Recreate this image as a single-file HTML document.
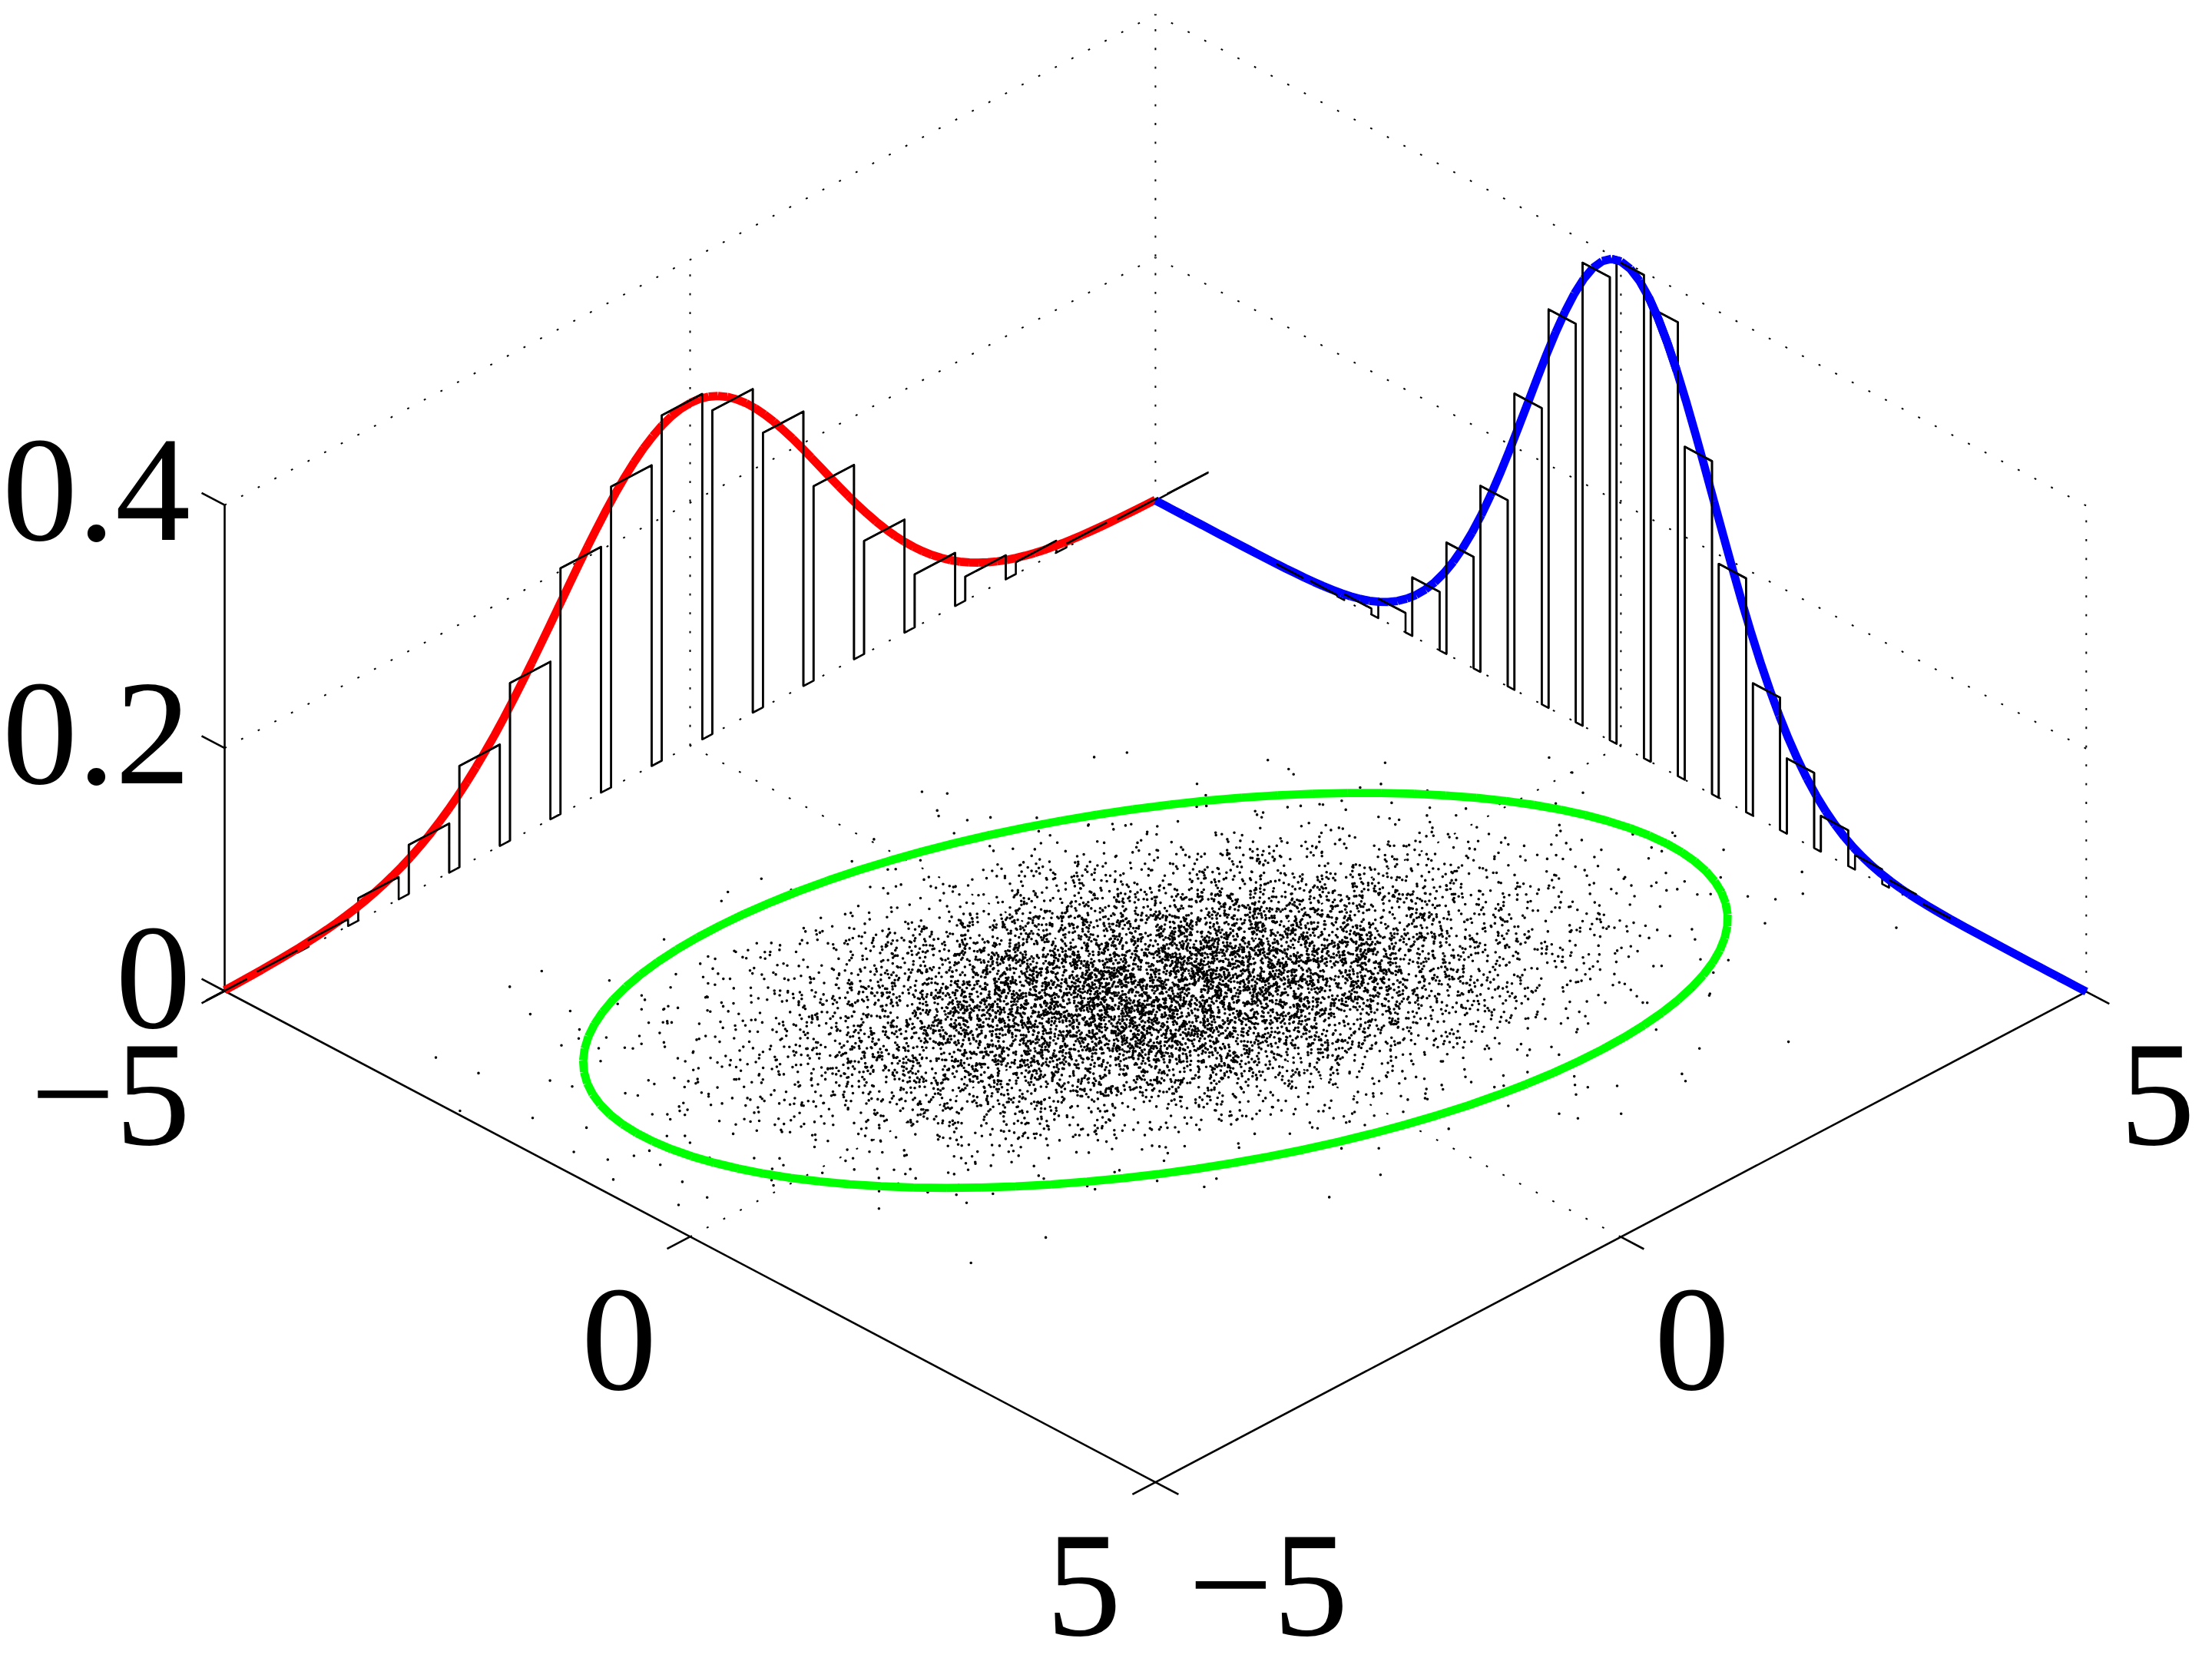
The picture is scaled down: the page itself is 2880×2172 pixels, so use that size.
<!DOCTYPE html>
<html lang="en"><head><meta charset="utf-8"><title>Multivariate normal samples</title>
<style>
html,body{margin:0;padding:0;background:#fff;}
body{width:2880px;height:2172px;overflow:hidden;}
svg{display:block;}
text{font-family:"Liberation Serif","Times New Roman",Times,serif;font-size:196px;fill:#000;}
.g{fill:none;stroke:#000;stroke-width:2;stroke-linecap:butt;stroke-dasharray:2.8 21.64;stroke-dashoffset:1.4;}
.a{fill:none;stroke:#000;stroke-width:2.6;stroke-linecap:butt;}
.b{fill:none;stroke:#000;stroke-width:2.6;stroke-linejoin:round;stroke-linecap:butt;}
.d{fill:none;stroke:#000;stroke-width:3.6;stroke-linecap:round;}
.c{fill:none;stroke-width:10.8;stroke-linecap:butt;stroke-linejoin:bevel;}
</style></head><body>
<svg width="2880" height="2172" viewBox="0 0 2880 2172">
<rect width="2880" height="2172" fill="#fff"/>
<g id="grid">
<path class="g" style="stroke-dashoffset:0" d="M1504.4 651.7 L1504.4 18.9"/>
<path class="g" style="stroke-dashoffset:0" d="M2716.3 1291.3 L2716.3 658.5"/>
<path class="g" style="stroke-dashoffset:0" d="M898.5 971.1 L898.5 338.3"/>
<path class="g" style="stroke-dashoffset:0" d="M2110.4 971.5 L2110.4 338.7"/>
<path class="g" d="M1504.4 651.7 L292.5 1290.5"/>
<path class="g" d="M1504.4 651.7 L2716.3 1291.3"/>
<path class="g" d="M1504.4 335.3 L292.5 974.1"/>
<path class="g" d="M1504.4 335.3 L2716.3 974.9"/>
<path class="g" d="M1504.4 18.9 L292.5 657.7"/>
<path class="g" d="M1504.4 18.9 L2716.3 658.5"/>
<path class="g" d="M2110.4 971.5 L898.5 1610.3"/>
<path class="g" d="M898.5 971.1 L2110.4 1610.7"/>
</g>
<g id="axes">
<path class="a" d="M292.5 1290.5 L292.5 657.7"/>
<path class="a" d="M292.5 1290.5 L1504.4 1930.1"/>
<path class="a" d="M1504.4 1930.1 L2716.3 1291.3"/>
<path class="a" d="M292.5 1290.5 l-30 -15.8"/>
<path class="a" d="M292.5 974.1 l-30 -15.8"/>
<path class="a" d="M292.5 657.7 l-30 -15.8"/>
<path class="a" d="M292.5 1290.5 l-30 15.8"/>
<path class="a" d="M898.5 1610.3 l-30 15.8"/>
<path class="a" d="M1504.4 1930.1 l-30 15.8"/>
<path class="a" d="M1504.4 1930.1 l30 15.8"/>
<path class="a" d="M2110.4 1610.7 l30 15.8"/>
<path class="a" d="M2716.3 1291.3 l30 15.8"/>
</g>
<path class="d" d="M1202.6 1300.8h0M1251.6 1249.5h0M1327.6 1300h0M1417.2 1333h0M1752.9 1104.3h0M1145.6 1324h0M1624.9 1376.3h0M1519.1 1356.9h0M1360.3 1292.7h0M1554.8 1269.4h0M1995.8 1185.8h0M1215.2 1341.4h0M1349.7 1265.8h0M1787.8 1238.8h0M1254.6 1190.1h0M1046 1249.7h0M1400.9 1387h0M1374.8 1247.5h0M1589.1 1165.7h0M1284.9 1266.6h0M1175.7 1407.2h0M1675.5 1341.2h0M1455.1 1157.9h0M1210.9 1231h0M1494.3 1268h0M1570.7 1049.4h0M1263.4 1221.5h0M1728.1 1277.8h0M1948.5 1136.5h0M1112 1462.4h0M1801.2 1176.6h0M1036.6 1370.4h0M1567.9 1545.5h0M1789.3 1160.3h0M1700.5 1345.7h0M1411.1 1112.6h0M1460.8 1344.1h0M1680.4 1245h0M1368.8 1265.2h0M1342.9 1312.1h0M1420.9 1447.5h0M1529.2 1297.4h0M1250.1 1368h0M1689.2 1317.6h0M1311.7 1419.5h0M1405.8 1246.4h0M1722.8 1157h0M1517.8 1276h0M1299.9 1288.9h0M1762 1264.7h0M1368.2 1344h0M1284.7 1430.9h0M1771.5 1210.4h0M1437 1203.3h0M1758.4 1212.1h0M1584.2 1237.4h0M1578 1350.2h0M1332.3 1311.6h0M1703.9 1247.3h0M1084.1 1453.1h0M1534.7 1236.4h0M1305.4 1326.8h0M1559.2 1196.7h0M1741.9 1235h0M1234.9 1307.7h0M1242.3 1528.9h0M1433.5 1328.4h0M1324.5 1298.7h0M1654.3 1315.4h0M1429.3 1264.1h0M1663.5 1338.6h0M1560.5 1395.7h0M1501.1 1192.4h0M1513.5 1374.9h0M1624.9 1347.4h0M1552 1264.8h0M1519.8 1388.1h0M1478.1 1348.1h0M1413.4 1391.5h0M1537.3 1217h0M1440.5 1294.7h0M1287.6 1363.1h0M1198 1387.9h0M1408.1 1299.8h0M1763.6 1380.9h0M1159.9 1306.8h0M1134.5 1293.3h0M1348.7 1295.6h0M1042 1352.1h0M1120.1 1335.9h0M1529.4 1178.9h0M1803 1262.7h0M1806 1128.3h0M1739.3 1300.8h0M1700.5 1251.9h0M1597.1 1219.1h0M1205.8 1346.8h0M1233.1 1180.1h0M567.5 1377.1h0M1340.7 1269.5h0M1785.1 1272.5h0M1410.5 1352.7h0M1810.8 1215.3h0M1234.2 1219.4h0M1598.8 1285.5h0M1696.2 1222.5h0M1470.1 1257.5h0M1128.8 1298.2h0M940.1 1436.9h0M1626 1383.4h0M1506 1107h0M1246 1205h0M1224.1 1291.5h0M1406.9 1427.2h0M1807.8 1096h0M1684.1 1377.2h0M1607.5 1286.5h0M1348.7 1353.5h0M1554.6 1272.5h0M1336.6 1261.5h0M1597.9 1284.3h0M1408.9 1419h0M1324.8 1304h0M1272.7 1238.9h0M1003.9 1425.6h0M1400 1182.8h0M1814.4 1281.5h0M1304.1 1338.9h0M1600.9 1269.8h0M1577.5 1163.8h0M1534.4 1265.1h0M1055.5 1279.3h0M1447.4 1293.5h0M1353.7 1119.1h0M1395.3 1379.3h0M1180.3 1391.7h0M1221.1 1307.3h0M1218.6 1156.1h0M2298 1202.3h0M1218.3 1296.7h0M1509.9 1207.7h0M1191 1416.8h0M1948.2 1224.3h0M1636 1450.6h0M1832.6 1301.1h0M1646.8 1278.8h0M1833.9 1326h0M1249.6 1232.4h0M2115.8 1142.3h0M1640.8 1141h0M1899.9 1249.6h0M1640.3 1212.7h0M1274 1165.8h0M1987.1 1164.7h0M1549.7 1368.9h0M1679 1411.3h0M1772.6 1299.9h0M1853.9 1258h0M705.3 1264.5h0M1549.1 1304.4h0M1425.8 1186.2h0M1294.9 1243.8h0M1323.1 1254h0M1496 1381.2h0M2001.9 1317.6h0M2094.5 1206.5h0M1537.6 1168.5h0M1417 1273.9h0M1671.7 1206.3h0M1788.2 1268.2h0M1555.4 1252.2h0M1663.4 1294.7h0M1534 1284.5h0M1409.1 1140.2h0M1774.9 1261.9h0M1216.9 1300.5h0M1387.3 1238.4h0M1472.5 1353.5h0M1722.1 1370.7h0M1516.5 1182.6h0M1236 1466.1h0M1372.6 1279.1h0M1696.2 1262.9h0M1565.4 1255.7h0M1475.7 1261.2h0M1608.3 1297h0M1278 1389.7h0M1682.1 1408.2h0M1134.1 1363.8h0M1748.1 1227.9h0M1182.2 1460.9h0M1434.4 1388.6h0M1041.3 1362h0M1403.9 1408.4h0M1789.2 1101.2h0M1498 1354.1h0M1414 1268h0M1209.3 1142.1h0M1420.2 1334.9h0M1596.7 1222.6h0M1101.5 1371.2h0M1296.8 1382.3h0M1359.6 1173.1h0M1256.2 1367.6h0M1400.7 1355.7h0M1221.5 1483.8h0M1669.2 1406.1h0M1382.1 1421.7h0M1450.6 1231h0M1671.5 1273.2h0M1168.1 1258.6h0M1161.9 1279.7h0M1250.2 1180.8h0M1330.2 1397.5h0M1239.5 1381.2h0M1786.9 1226.7h0M1543.6 1358.9h0M1703.2 1222.2h0M1322.8 1349.1h0M1299 1301.4h0M1777.2 1350.7h0M1990.2 1212.9h0M1584.6 1389.3h0M1466.1 1398.1h0M1350 1277.6h0M1738.8 1180.1h0M1205.7 1407.2h0M1779.2 1309.7h0M1854.5 1370.3h0M1345.6 1285.6h0M1440.5 1282.8h0M1652.3 1169.8h0M1393.2 1322.5h0M1708.2 1183.4h0M1313.2 1320.5h0M1350.4 1337.1h0M1148.8 1310.1h0M1637.8 1333.3h0M1640.6 1270.7h0M1063.1 1364.3h0M1332.1 1246.2h0M1180.4 1358.5h0M1616.6 1128.9h0M1211.9 1154.1h0M1267.3 1351.5h0M1917.4 1251.3h0M1137.9 1345.5h0M1720 1191.3h0M1825.3 1304.1h0M1576.6 1267.3h0M1351.5 1323.4h0M1564.2 1288.5h0M1321 1332.6h0M1785.4 1178.4h0M1912.6 1137.6h0M1252.1 1362.5h0M1139.7 1306.1h0M1356.8 1162.2h0M1407.9 1254.7h0M1899 1274.2h0M1504.2 1324.9h0M1144.9 1468.9h0M1665.3 1268.3h0M1714.7 1383.7h0M1712.6 1250.3h0M1546.1 1237.8h0M1560.5 1263.7h0M2163.6 1108.4h0M1903.5 1127h0M1230.5 1230.8h0M1107.1 1383.6h0M1850.2 1265.4h0M1402.8 1244h0M1674.7 1360.1h0M1119 1396.1h0M1360.7 1274.5h0M1225.7 1372.5h0M1567.7 1361.5h0M1786.5 1236.6h0M2076.3 1175.1h0M1661.6 1168.1h0M1927.3 1160.5h0M1439.9 1461.6h0M1608.8 1231.7h0M1647.7 1429.9h0M1342.5 1357.7h0M1182.6 1288.7h0M1401.3 1381h0M1647.1 1331.9h0M1341.2 1188.5h0M1162.3 1254.6h0M1578.3 1338.6h0M1258.5 1566.2h0M1560.3 1374.1h0M1032.5 1294.4h0M1666.4 1304.2h0M1675.3 1179.2h0M1560.6 1260.2h0M1771.3 1144h0M1404.6 1250.7h0M1466.5 1354.6h0M1256.9 1297.9h0M1883.1 1152.9h0M1813.3 1388.2h0M1666.4 1254.8h0M1296.3 1228.9h0M1848.6 1215.1h0M1407.1 1223h0M1455.7 1313.5h0M1670.3 1248.1h0M2117.8 1206.2h0M1429.3 1294.3h0M1885.3 1086.2h0M1550 1208.7h0M1402.7 1246.9h0M1197.5 1263.8h0M1861.1 1193h0M1860.6 1135.5h0M1245 1335.2h0M1199.6 1330.4h0M1442.6 1236.8h0M1611.9 1257.6h0M934.1 1416.1h0M1474.5 1352.7h0M1529.5 1193.1h0M1721.5 1346.6h0M1548.2 1288.1h0M1188.2 1374.6h0M1435.5 1169.5h0M992.3 1430.8h0M1357.9 1337.7h0M2014.1 1232.6h0M1348.6 1329.4h0M2030.6 1181.9h0M1104 1280.2h0M1424.2 1301.1h0M1463.4 1257.4h0M1950.4 1228.7h0M1523.5 1124.4h0M1181.5 1336.7h0M1772 1258.5h0M1247.9 1311.6h0M1755.4 1333.4h0M1261.8 1354.2h0M1367.6 1310.2h0M1618.9 1305.8h0M1526.9 1315.7h0M1457.3 1219.1h0M1280.9 1250.7h0M2040.4 1282.4h0M1530.4 1311.5h0M1766.6 1179.5h0M1243.6 1293.1h0M1206.2 1345h0M1720.8 1154.8h0M1324.7 1315h0M1617.4 1202.9h0M1321.5 1301h0M1584.1 1354h0M1381.2 1324.6h0M1588.2 1176.6h0M1593.7 1298.7h0M1200.8 1209.8h0M1757.3 1351.8h0M1190.4 1407.4h0M1321 1301.2h0M1229.5 1236.2h0M1719.1 1271.3h0M1747.8 1364.8h0M1789 1411.3h0M1066.6 1378.1h0M1544.1 1372.8h0M1542.1 1245.9h0M2034.6 1252h0M1771 1249.1h0M948.2 1316.9h0M1605.4 1212.2h0M1198.5 1169.5h0M1869.4 1352.8h0M1456.6 1313.6h0M1456.9 1244.7h0M1470.1 1318.1h0M1231.3 1358.2h0M1380.6 1308.3h0M1376.6 1386.2h0M1259.4 1314.2h0M1660.2 1270.7h0M1693.4 1274.1h0M1857.9 1177.9h0M1483.7 1282.1h0M1553.9 1272.7h0M1773.6 1259.9h0M1492.8 1292.9h0M1840.2 1220.3h0M1760.9 1356.4h0M1698.1 1301.1h0M1568.8 1305.5h0M1057.8 1327h0M1723.1 1275.7h0M1777.2 1270.7h0M1536.2 1339.9h0M1659.6 1118.7h0M1526.8 1221.7h0M1788.4 1145.1h0M1516.3 1261.2h0M1273.8 1277.5h0M1167.2 1270.6h0M1206 1364.3h0M1387.5 1158.1h0M1252.7 1289h0M1186.8 1351.6h0M1739.3 1366.6h0M1306.3 1279.5h0M1456.6 1310.5h0M1709.3 1209.6h0M1398.9 1348.3h0M1059.2 1392.3h0M1661.8 1280.3h0M1975.5 1366.8h0M1669.9 1389.8h0M1681.1 1186.7h0M1137.1 1393.5h0M1590.2 1378.8h0M1485.3 1285h0M1392.9 1330h0M947.7 1161.5h0M1569.7 1317.5h0M1309.9 1273.5h0M1907.9 1235.8h0M1616.3 1381.6h0M1477.1 1149.6h0M1551.3 1297.6h0M1384.8 1251.1h0M1263.1 1369.7h0M844.6 1331.7h0M1162 1284.5h0M1381.9 1415.7h0M1207 1275.5h0M1576 1362.2h0M1585.8 1295.5h0M845.5 1498.4h0M1128 1437h0M1615.7 1253.8h0M1479.3 1182.1h0M1819.8 1320.2h0M1714.1 1311h0M1600.7 1111.8h0M1502.9 1190.5h0M1260.2 1205.6h0M1319.2 1248.7h0M1718.7 1191.8h0M1271.3 1372.9h0M1337.7 1250.5h0M1149.2 1314.6h0M1110.5 1388.7h0M1531.2 1315.7h0M1855.9 1325.8h0M1511.7 1215.4h0M1719 1252.1h0M1705.4 1385.2h0M964.6 1394.3h0M1222.5 1342.1h0M2016.9 986.5h0M1711.5 1244.7h0M1584 1356.2h0M1541.7 1286.3h0M1307.6 1204.1h0M1750.2 1195.4h0M1306 1202.5h0M1592.7 1252.5h0M1776.7 1130h0M1490.9 1321.7h0M1545.9 1210.3h0M1508.7 1396.8h0M1345.1 1316.3h0M1668.6 1231.7h0M1502.4 1304.9h0M1504.2 1176.3h0M2020.1 1187.2h0M793.4 1276.7h0M1168.3 1376.8h0M1300.5 1285.6h0M1896.5 1351.6h0M1857.8 1208h0M1625 1178.8h0M1501.2 1334.2h0M1624.8 1304.2h0M1767 1243.2h0M993.6 1390.6h0M1765.4 1217.7h0M1328.8 1126.3h0M1444.9 1368h0M1569 1289.2h0M1577.3 1148.9h0M1557.2 1173.2h0M1576.3 1325h0M1627.7 1269h0M1438.2 1285.6h0M1630.7 1304.2h0M1451.1 1477.6h0M1889.2 1261.9h0M1106.6 1286.6h0M1844.6 1195.3h0M1287 1335.2h0M1453.3 1235.4h0M1906.8 1392.6h0M1771.8 1320.1h0M1479 1197.9h0M1764.1 1373.7h0M2104.7 1163.2h0M1509.9 1315.2h0M1163.2 1294.7h0M1560.7 1415.7h0M1698.5 1337h0M1536.6 1212.1h0M1685 1341.2h0M1284.1 1311.7h0M1289.4 1444.7h0M1862.1 1264.5h0M1463.6 1413.9h0M1245.2 1555.7h0M1738.9 1411.4h0M1730.6 1194h0M1735.4 1181.1h0M1866 1198.6h0M1781.4 1152.7h0M1305 1269.6h0M1818.1 1247.9h0M1533 1316.3h0M1551.4 1347.5h0M1693.9 1315.3h0M1372.8 1450.6h0M1462.2 1252.1h0M1560.1 1366h0M1910 1319.4h0M1231.2 1443.5h0M1444.2 1394.2h0M1030.1 1158.9h0M1840.8 1197.8h0M1169.5 1541.3h0M1333 1381.2h0M1389.3 1342.5h0M1880.7 1125.1h0M1715.4 1300.9h0M1458.5 1332.9h0M1409.4 1292.7h0M1401.7 1316h0M2084.3 1200.6h0M1459.3 1163h0M1510 1308.4h0M1408.4 1311.7h0M1817.2 1254.1h0M1712.1 1348.4h0M1751.5 1368.5h0M1508.9 1331.5h0M1515.5 1511.5h0M1601.7 1447.5h0M1557.6 1257.7h0M1287.7 1308.1h0M1450 1327.9h0M1602.3 1170.3h0M1608.8 1381.4h0M1093.3 1299.6h0M1418.7 1368.8h0M1185.2 1522.4h0M1717.5 1272.7h0M1502.1 1247.3h0M1674 1322.8h0M1252.8 1204.4h0M1651.3 1318.8h0M1459.1 1259.3h0M895.1 1445.1h0M1798.7 1423.7h0M1494.4 1180.3h0M1827.5 1226.7h0M1589.7 1346h0M1490.5 1478.1h0M1561.9 1134.9h0M1927.6 1294.9h0M1352.5 1267.2h0M1288.7 1101.7h0M1191.3 1323.3h0M1617.8 1267.8h0M1133.4 1238.1h0M1654.4 1271.9h0M1262.5 1234.9h0M1519.9 1247.8h0M1248.3 1344.4h0M1350.3 1243.7h0M1307.6 1289.3h0M1562.9 1167.2h0M1513.9 1337.5h0M1520.9 1338.4h0M1647.4 1120.8h0M1975.3 1171.4h0M1302 1297.6h0M1955.9 1204.8h0M1124.1 1320.4h0M1184.3 1178.1h0M1223.4 1238.5h0M1517.8 1300.6h0M1468.5 1273.3h0M1101.7 1433.3h0M1519.2 1264.4h0M1274.6 1359.1h0M1754.2 1230.3h0M1563 1226.1h0M1542.7 1169.3h0M1215.4 1344.1h0M1287.3 1295.5h0M1786.9 1238.4h0M1257.5 1514.7h0M1883.2 1222.1h0M1418.9 1326.8h0M1386.8 1376.9h0M1530.6 1258h0M1335.2 1239.3h0M1306.6 1364.2h0M1913.7 1282.7h0M1346 1380h0M1215.6 1299.1h0M1599 1220h0M1338.5 1340.1h0M1644.5 1219.2h0M1347.1 1393.6h0M1163.1 1375.3h0M1836.7 1193.9h0M1507.2 1204.3h0M1697 1192.5h0M1688.9 1312.5h0M1694.4 1075.8h0M1773.4 1390.6h0M1517.8 1163h0M1386.5 1418h0M1445.5 1387.6h0M1365 1329.9h0M1454.6 1361.9h0M1249 1243.6h0M1605.8 1125.5h0M1379.3 1413.6h0M1320.5 1295.9h0M1291.8 1240.5h0M1281.8 1234.3h0M1511.7 1293.4h0M1576.5 1313.6h0M1350.8 1357.5h0M1691.4 1283h0M1129.5 1311.6h0M1703.9 1243h0M1563.7 1251.5h0M1254.4 1229.8h0M1152.7 1316.6h0M1299.2 1391.5h0M1536.9 1278h0M1194.4 1403.4h0M1555.7 1234.1h0M1582.6 1367.9h0M1272.3 1402.2h0M1593.9 1216.8h0M1770 1178.1h0M1299 1311h0M1326.2 1300.8h0M1637 1118.5h0M1541.1 1302.6h0M1504.7 1374.9h0M1166.2 1131.8h0M1784.4 1301.3h0M1308.1 1448.5h0M1233.5 1312.5h0M1797.4 1345.1h0M1367.6 1352h0M1425.8 1169.8h0M1692.2 1220.4h0M1427.4 1476.7h0M1466.5 1337.9h0M1507.5 1229.7h0M1542.7 1219.3h0M1540.7 1255.9h0M1473.7 1288.1h0M1686.3 1360.9h0M1448.7 1303.2h0M1464.4 1309.4h0M1720.7 1155.1h0M1423.1 1410.3h0M1848.2 1084.5h0M1398.1 1256.3h0M1261.4 1490.6h0M1499.1 1389.1h0M1641.3 1144.7h0M1607.3 1238.9h0M1226.8 1380h0M1599.8 1333.2h0M1758.7 1284h0M1389.3 1295.8h0M1653.9 1254.1h0M1414 1231.1h0M1424.9 1263.2h0M1727.9 1224.1h0M1508.6 1240.3h0M1240.1 1265.4h0M1573.6 1252.8h0M1431.2 1409.4h0M1506.1 1168h0M1890.7 1272.2h0M1793.7 1239.9h0M1708.6 1283.9h0M1374.7 1359.1h0M1597.6 1262.9h0M1641.1 1358.2h0M1367.5 1297.3h0M1775.7 1240h0M1363.1 1318.7h0M1577.7 1170.2h0M1703.7 1306.1h0M1394 1420.8h0M1477.9 1331.5h0M1769.1 1186.7h0M1281 1415.2h0M1260.8 1396.5h0M1660.8 1201.4h0M1457.1 1300.1h0M1529.1 1431.9h0M1464 1369h0M1357.8 1223.8h0M1402.8 1421.6h0M1478.2 1277.1h0M1424.7 1411.6h0M1398.6 1306h0M1660.7 1246.5h0M1446 1268.4h0M1805.9 1137.2h0M1776.9 1245.7h0M1531.8 1314h0M1353.7 1324.3h0M1741.4 1220.4h0M1785.5 1273.3h0M1668.1 1223.1h0M1100.4 1371.4h0M1687.6 1244.3h0M1424.6 1145.5h0M1374.3 1232h0M1633.2 1319.8h0M1438.6 1337.4h0M1051.6 1351.7h0M1541.5 1207.2h0M1617.7 1179.1h0M1610 1458.3h0M1319.4 1337.2h0M1435 1366.5h0M1782.7 1201.7h0M1758.6 1258.9h0M1209.5 1274.1h0M1551.6 1271.7h0M1579.1 1297.8h0M1612.6 1238.3h0M1719.3 1366.2h0M1515.8 1374.7h0M1383.7 1225.8h0M1402.8 1140.9h0M1466.8 1227.7h0M1482.2 1309.7h0M1539.9 1307.5h0M1605.7 1338.1h0M951.3 1380.6h0M1398.2 1366.2h0M1442.5 1322.1h0M1130.7 1321.1h0M1355.5 1367.2h0M1576.3 1322.1h0M1559.6 1323.8h0M1470 1315.5h0M1809.1 1264.7h0M1004.6 1536.7h0M996.2 1248.2h0M1437.3 1241.8h0M1706.3 1250.4h0M1626.1 1329.5h0M1754.9 1299h0M1634.3 1278.3h0M1241.8 1389.9h0M939.3 1173.2h0M1694.1 1198.1h0M1752.1 1309.4h0M1245.5 1098.9h0M1544.1 1225.8h0M1307.2 1303.7h0M1425.5 1269.1h0M1598.4 1374.5h0M1227.9 1151.2h0M1439.8 1317.2h0M1411.2 1315.8h0M1373.4 1450h0M1465.9 1278.4h0M1581.4 1391.9h0M1104.8 1325.3h0M1648.1 1277.1h0M1453.2 1182.1h0M1318.5 1274.7h0M968.7 1415.3h0M1320.4 1383.7h0M1535.5 1374.6h0M1675 1257.8h0M1675 1370h0M1121.1 1356.9h0M1716.8 1235.4h0M1485.8 1317.4h0M1606.8 1178.2h0M1442.5 1292.9h0M1585.3 1371h0M1705.1 1170.8h0M1446.3 1222.4h0M1194.9 1312.2h0M1884.3 1372.7h0M1851.1 1140.9h0M1743.6 1302.5h0M1236.3 1357.4h0M1234.5 1248.2h0M1922 1336.5h0M1670 1184.6h0M1470.9 1359h0M1061.6 1321.6h0M1385.7 1430.9h0M1491.5 1215.1h0M1580.2 1306.8h0M1421 1301.4h0M1642.7 1064.2h0M835.4 1296.3h0M1908.6 1052.9h0M1511 1175.6h0M1162.3 1399.3h0M1488.7 1347.8h0M1517.1 1286.9h0M1768.2 1277.4h0M858.9 1345.1h0M1632.9 1382.9h0M1721.6 1245.3h0M1611 1352h0M1770.3 1310.7h0M1677.9 1275.8h0M1766.2 1280.8h0M1573.2 1171.1h0M1643.1 1350.4h0M1349.3 1394.4h0M1431.1 1341.3h0M925.6 1438.8h0M1260.3 1346.8h0M1560.5 1403.1h0M1276.3 1334.7h0M2007.3 1241.9h0M2016.8 1153.3h0M1449.2 1218.7h0M1545.3 1204.3h0M1603.3 1380.7h0M1924.3 1315h0M1255.9 1291.6h0M1774 1210.7h0M1851.7 1195.2h0M1395.5 1440.7h0M1598.2 1110.9h0M1653 1187h0M1362.3 1482.9h0M1811.5 1266.9h0M1724.4 1223.6h0M1688.6 1323.9h0M1293.9 1260.9h0M1163.4 1427.3h0M1563.6 1214h0M1557.5 1234.8h0M1563.8 1307.4h0M1660.3 1343.7h0M1335.7 1407.2h0M1856.2 1221.5h0M1187.1 1111.4h0M1065 1412h0M1661.8 1240.1h0M1507.4 1116.8h0M1493.8 1395.6h0M1526.8 1226.1h0M1963.9 1211.7h0M954.6 1476.4h0M1397.5 1336.6h0M1498.5 1133.2h0M1246.4 1281.7h0M1493.8 1296.5h0M1751.9 1221.1h0M1672.8 1410.8h0M1510.9 1365.7h0M1439.3 1193.6h0M1569.6 1143.4h0M1520.4 1501.6h0M1904.1 1234.9h0M1711 1210.8h0M1509.5 1283.5h0M1473.1 1376.6h0M1925.9 1190.8h0M1258.6 1175.5h0M1299.7 1385.4h0M1467.3 1311.3h0M1769 1363h0M1931.7 1269.1h0M1369 1277.2h0M1736.5 1320.2h0M1514 1293.8h0M1557.4 1257.9h0M1580.8 1327.5h0M1818.3 1258.7h0M1727.9 1367.7h0M1255.7 1371.6h0M1624.5 1191.2h0M1930.6 1209.4h0M1704.4 1209.9h0M1305.4 1174.5h0M1404.5 1391h0M1663.4 1183.2h0M1902.8 1310.9h0M2043.7 1204.9h0M1515.4 1395.1h0M1750.1 1201.2h0M1417.4 1208.9h0M1879 1241.5h0M1889.6 1208.7h0M1033.2 1299.6h0M1187.6 1307.7h0M1542 1335.3h0M1994.1 1290.9h0M1600.7 1308.4h0M1392.8 1305.8h0M1576.6 1402.5h0M1317.8 1321.6h0M1237 1098.8h0M1704.7 1292.5h0M1314.7 1247.4h0M1205.1 1240.2h0M1613.9 1208.1h0M1260.5 1153h0M1627 1242.7h0M1696.9 1252.6h0M1362.1 1279.5h0M1298.5 1249.1h0M1273.5 1364.3h0M1153.3 1232.7h0M1649.3 1182.9h0M1895.8 1061.7h0M1769.3 1361.7h0M1353.4 1401.9h0M1606.9 1278h0M1659.2 1192.5h0M1110.5 1423.5h0M1469.4 1154.7h0M1362.8 1156h0M1251.5 1346.6h0M1450.6 1232.1h0M1348.6 1290.5h0M1558.5 1267.6h0M1449.5 1270.7h0M1776.5 1229.2h0M1376.5 1320.3h0M1232.5 1404.3h0M1504.9 1187.3h0M1488.9 1315.7h0M1380.1 1211h0M1328.7 1209.7h0M1644.3 1211h0M1519 1257.3h0M1748.8 1202h0M1187.3 1391.2h0M1208.7 1281h0M1923.2 1216h0M1923 1296.8h0M1431.1 1286.9h0M1836.9 1191.7h0M1404.1 1406.1h0M1703 1362.8h0M1836.5 1338.3h0M1319 1322.7h0M1486.2 1344.7h0M1112 1209.5h0M1641.9 1140.1h0M1526.2 1230.9h0M1629.8 1392.3h0M1781.6 1338.6h0M1077 1318.1h0M1720.9 1110.4h0M1275.8 1355.8h0M1793.9 1306.9h0M1444.9 1269h0M1845.7 1302.8h0M1280.2 1377.5h0M1705.4 1461.9h0M1421.7 1432.1h0M1781.4 1330.4h0M1531.6 1167.1h0M1486.5 1367.7h0M1314.7 1232.4h0M2053.8 1184.8h0M1540.2 1106.4h0M1300.5 1274.7h0M1240.3 1271.7h0M1306.7 1453.7h0M1180 1384h0M1229.2 1440.2h0M1512.2 1281.1h0M1613.5 1327.7h0M998.8 1301.7h0M1335.7 1372.6h0M1276 1237.2h0M2180.9 1088.5h0M1026.4 1276.1h0M1219.3 1378.5h0M1743 1280.7h0M988.5 1398.7h0M1359.7 1218.3h0M1472.7 1272.4h0M1347.6 1482h0M1455.8 1362.2h0M1598 1375.4h0M1148.3 1296.9h0M1516.7 1240h0M1636.6 1060.9h0M1426.5 1359.2h0M1292.3 1362h0M1347.6 1403.4h0M1632.2 1292.1h0M928 1261.4h0M1952.6 1046.6h0M1335.9 1215.6h0M1415.6 1314.9h0M1004.3 1227.9h0M1604.2 1194.9h0M1438.4 1218.8h0M1328 1419.7h0M1339.3 1343.6h0M1810.6 1287h0M1558.3 1259.5h0M1299.7 1380.9h0M1526.2 1347.1h0M1007.1 1543.6h0M1303.9 1270h0M1284.8 1265.1h0M1862.1 1164.4h0M1153.7 1409h0M1453.9 1173.9h0M1409.4 1269.3h0M1641.9 1306.7h0M1688 1251.3h0M1672.5 1137.5h0M1230.2 1401.2h0M1913.9 1313.8h0M1308.4 1143.2h0M1178.3 1267.7h0M1372.6 1251h0M1347.9 1284.6h0M2010.5 1301.1h0M1864.8 1203.6h0M1498 1355.4h0M1661.7 1238.6h0M1954.9 1184.2h0M1403.6 1277.5h0M1744.4 1187.5h0M1575 1428.1h0M1218.2 1397.5h0M1079.4 1346.8h0M1424.6 1322.9h0M1013.6 1395.2h0M1585.1 1324.2h0M1921.3 1241.3h0M1741.3 1376h0M1860 1241.9h0M1713.5 1104.1h0M1734.5 1225.2h0M1770.6 1223.2h0M1530.9 1406.7h0M1586 1229.5h0M1193.2 1380.1h0M1438.7 1393.1h0M1597.9 1092.9h0M1293.2 1241.7h0M1839.9 1293.9h0M1520.9 1246h0M1673.4 1380h0M1411.8 1309.8h0M1419.3 1313.6h0M1590.2 1262.8h0M918.7 1349.1h0M1420.1 1367.9h0M1924.3 1303.6h0M1122.8 1402.5h0M1887.3 1230.4h0M1855.1 1154.3h0M1573.9 1309.4h0M1531.6 1242.7h0M1455.7 1284.5h0M1383.1 1383.6h0M1421.9 1253.9h0M1507.6 1312.3h0M1371.9 1398.4h0M1646.2 1174.4h0M1548.6 1354.8h0M1362.7 1345.2h0M1571 1201.6h0M1330.8 1334.8h0M1820.9 1296.3h0M1604.4 1346.1h0M1319.4 1308.3h0M1417.7 1282.8h0M1182.4 1241.1h0M2183.8 1157.9h0M1457.8 1364h0M1629.6 1203.2h0M1444.5 1289.7h0M1141.1 1359.1h0M1919 1303.5h0M1678.9 1332.9h0M1530.2 1357h0M1025 1257.2h0M1723.6 1265h0M1576 1355.5h0M1855.7 1146.4h0M1378.7 1212.9h0M1240.4 1313.3h0M1463.8 1351.8h0M1453.2 1365.6h0M1404.9 1332.1h0M1360.5 1303.5h0M1756 1170.8h0M1519.9 1364.7h0M1789.7 1235.6h0M1254.6 1328.9h0M1362.8 1266.6h0M1355.5 1270h0M1282.6 1421h0M1734.5 1180h0M1331.3 1449h0M1628.2 1330.2h0M1707 1398.3h0M1406.9 1291.7h0M2013.5 1236.3h0M1630.5 1176.6h0M1170 1367.6h0M1278.8 1302.4h0M1704.5 1311.1h0M1259.1 1413.4h0M1613.9 1293.1h0M1019.4 1330.8h0M1808.3 1163.2h0M1766.6 1292.2h0M1438 1304.6h0M1654.8 1258.8h0M1716.5 1278.8h0M1237.7 1318.4h0M1580.7 1341.9h0M1198.4 1120.2h0M1701.7 1264.1h0M1255 1298.4h0M1708.9 1239h0M1464.1 1332.6h0M1478.1 1430h0M1178.8 1528.7h0M1774.4 1223.8h0M1341.1 1355.3h0M1478 1164.5h0M1688.8 1204.6h0M1438.1 1348.3h0M1296.9 1208h0M1526.4 1373.8h0M1195.1 1438.2h0M1298.5 1411.9h0M1708.9 1338.1h0M1450.2 1241.6h0M1821.6 1237.6h0M1464 1275.2h0M1566.8 1326.6h0M1567.8 1283.6h0M1426.4 1261h0M1318.1 1347.1h0M1296 1318.2h0M1572.4 1255.3h0M1668.3 1269.1h0M1020.5 1398.9h0M1901 1232.4h0M1705.9 1277.4h0M1272.3 1428.6h0M1800.2 1309.7h0M1055.9 1274.8h0M1573.8 1285h0M1407.3 1298.3h0M1406.8 1314.8h0M1103.7 1229.5h0M1545.1 1333.4h0M1069.6 1390h0M1741.4 1384.4h0M1722.7 1376.5h0M1012.1 1256.7h0M1487.9 1426.5h0M598.9 1446.5h0M1293.1 1441.2h0M1454.5 1368.7h0M1652.1 1242.3h0M1888.4 1157.5h0M1713.7 1209.5h0M905.9 1410.7h0M1378.1 1298h0M1493.3 1409.7h0M1422.1 1171.7h0M1524.6 1256.4h0M1435.7 1251.2h0M1878.2 1168.3h0M1014.2 1399h0M1223.2 1195h0M1876.5 1314.2h0M1266.1 1262.3h0M1607.1 1223.8h0M1469.7 1312.6h0M1143.4 1370.4h0M1584.8 1235.9h0M1498.6 1269.2h0M1610.9 1271.2h0M1625.3 1342.6h0M1526.4 1375.9h0M1618.8 1344h0M1340.8 1215.7h0M1604.9 1300.7h0M1711.6 1389.7h0M1133 1422h0M1350.5 1301.3h0M1807.1 1384.1h0M1218.6 1289.3h0M1882.2 1268.7h0M1804.5 1301.1h0M1737 1232.5h0M1865.7 1238.4h0M1383 1311.2h0M863.8 1314.5h0M1697.1 1223.2h0M1451.1 1245.6h0M1505 1197.3h0M1299.3 1433h0M1221.6 1423.9h0M1761.2 1142h0M1179.8 1376.3h0M1551.5 1217.4h0M1632.9 1254.9h0M1187.7 1350.4h0M1291.8 1134h0M1280.9 1186.6h0M1678.7 1342.6h0M1884.8 1289.7h0M1364.5 1265.7h0M1259.4 1068h0M1734.2 1202.6h0M1489.6 1292.2h0M1252.3 1387.8h0M1645.5 1312.5h0M1931.9 1190.2h0M1147.9 1370.6h0M1288.1 1291.3h0M1418.6 1269h0M1629.5 1135h0M1544.6 1168.5h0M1546.1 1288.1h0M1636.9 1297.1h0M1568.3 1423.8h0M2042.7 1181h0M1306 1081.1h0M1486.8 1319.3h0M1362 1408.5h0M1034.9 1430h0M1350.3 1270.5h0M872.7 1457.5h0M1350.5 1381.8h0M1535.3 1277.3h0M1149 1212.1h0M1359.6 1432.1h0M2122.2 1178h0M1005.9 1340.9h0M1795.2 1495.3h0M1461.2 1329.5h0M1799.9 1171.5h0M1843.7 1402.4h0M1184.3 1233.3h0M1668.7 1320.3h0M1637.6 1302.4h0M1394 1192.9h0M1635.1 1201.2h0M1643 1311.2h0M1865.3 1275.1h0M1168.2 1360.7h0M1660.8 1402.7h0M1039.9 1308.6h0M1226.5 1429.8h0M1642.5 1323.3h0M1303.2 1191.3h0M957.9 1340.7h0M1134.8 1344.6h0M1655.8 1343.8h0M1397.6 1328.4h0M1269.7 1513.2h0M1346.3 1375.2h0M1638.6 1292.8h0M1376.1 1389.5h0M1623.8 1304.6h0M1798.2 1201.5h0M1607.3 1205.3h0M1170.6 1273.6h0M1374.6 1272.2h0M902.7 1369.2h0M1794.7 1163.4h0M835.3 1314.2h0M1372.8 1240.8h0M1907.4 1321.6h0M1588.9 1270.1h0M1547 1228.8h0M1642 1189.5h0M1675.4 1242.6h0M1297.7 1286.2h0M1636.8 1375.3h0M1806.9 1396.5h0M1542.8 1294h0M1491.2 1294.1h0M1557.3 1237.3h0M2031.8 1082.1h0M1664 1252.6h0M1745.9 1266.7h0M1457.1 1266.6h0M1278.8 1287.8h0M1452 1145.5h0M1662.3 1101.4h0M1497.9 1273.1h0M1681.1 1358.4h0M1315.4 1320.6h0M1531.2 1438.5h0M1131.1 1424.6h0M1341.9 1295.3h0M1802.7 1220.3h0M1317.8 1298.6h0M1043.9 1295.7h0M1465.4 1074.9h0M1484.4 1390.1h0M1138.9 1296.7h0M1382.3 1435.6h0M1593.7 1282.4h0M1308.3 1336.7h0M1587.4 1252h0M1188.9 1463.9h0M1240.5 1161h0M1181.7 1409.1h0M1293 1205.1h0M1227 1462.5h0M1439.2 1265.4h0M1591.9 1259.8h0M1176.3 1394.2h0M1165.7 1237.5h0M1584.5 1217.7h0M1186 1266.4h0M1248.1 1307.9h0M1441.3 1308.2h0M1902 1245.5h0M1637.9 1244.5h0M1804.9 1316.7h0M1173.2 1416.5h0M1108 1433.7h0M1414.2 1367.4h0M1568.7 1132.6h0M1440.1 1320.6h0M1702.1 1393.7h0M1486.8 1294.8h0M1459.1 1297h0M2226.3 1294.1h0M1662 1186.7h0M1451.3 1296.6h0M1358.3 1319.8h0M1397.8 1273.5h0M1444.8 1206.8h0M1708.5 1468.1h0M1541.2 1262.3h0M1784.2 1222.7h0M1236.8 1319.8h0M1528.5 1216.8h0M1588.6 1192.5h0M2001.5 1163.7h0M1501 1242.3h0M1439.6 1341.3h0M1992.6 1154.3h0M1379.6 1330.4h0M1847.1 1247.7h0M1302.4 1318.8h0M1816.9 1241.8h0M1444.1 1355.3h0M1379.3 1260h0M1587.5 1299.8h0M1764.2 1301.1h0M1230.5 1399.3h0M1284.2 1260h0M977.1 1460.5h0M1371.4 1266.4h0M1360.2 1226.7h0M1223.2 1357.8h0M1431.6 1342.7h0M1284.1 1369.3h0M1161.4 1280.3h0M1565.6 1316.9h0M1604.8 1164.5h0M1312.9 1412h0M1446.9 1275.8h0M1036.2 1360.6h0M1439.7 1139.6h0M1545.9 1410.3h0M1340.3 1337.5h0M1439.8 1302h0M1174 1221.2h0M1718.2 1291.6h0M1496 1308.2h0M1639.8 1275.8h0M1752.4 1253.9h0M1345 1347.4h0M1605.7 1270h0M1506.8 1211.5h0M1200.4 1031h0M1604.8 1300.9h0M1432 1316h0M1242.9 1402.2h0M1721 1155.2h0M1851.7 1271.9h0M1632.5 1262.3h0M1327.6 1447.5h0M1634.5 1288.2h0M1349.3 1353.5h0M1585.1 1202.3h0M1600.8 1453h0M1399.5 1249.8h0M1697.6 1220.5h0M1259.4 1249.4h0M1516.1 1324h0M1161.2 1241.6h0M1014.6 1436.9h0M1874.2 1277.2h0M1445.5 1140.2h0M1397.1 1252.4h0M930.9 1282.3h0M1887 1219h0M1449.9 1268.8h0M1495.3 1139.9h0M1535.3 1278.2h0M1963.8 1440h0M1484 1326.7h0M1188.6 1319.2h0M1315 1150.7h0M1470 1377h0M1342.9 1337.9h0M1474.6 1262.7h0M1692.1 1157h0M1296.1 1379.3h0M2074.1 1258.5h0M1526.9 1224.2h0M882.6 1312.4h0M1321.9 1353.7h0M1138.3 1376.5h0M1625.2 1262.3h0M1855.4 1430.1h0M1522.9 1191.4h0M1112.2 1522.9h0M1677.6 1279.7h0M984.1 1383h0M1389.5 1186.5h0M1199.7 1444.8h0M1574.3 1278h0M1614.2 1279.4h0M1626 1226.6h0M1414.3 1237.7h0M1855.9 1248.1h0M1339 1372.5h0M1790.2 1153.7h0M1844.6 1319.1h0M1605.3 1424.8h0M1559.9 1315h0M1774.1 1244.2h0M1701.1 1352.9h0M1315 1224.2h0M1456 1421.4h0M1692.6 1141.3h0M896.2 1407.9h0M1746.3 1227.4h0M1036.5 1386.8h0M1331.5 1479.3h0M1221.6 1222.5h0M1428.9 1127h0M1256 1217.8h0M1342.1 1383.6h0M1695.4 1197h0M1452.2 1345.5h0M1427.4 1361.4h0M1524.5 1246.9h0M1340.6 1395.2h0M1509.5 1187h0M1342.9 1212.6h0M1810.2 1252.7h0M1584.4 1339.9h0M1485.2 1325.5h0M1446.4 1418.2h0M1042.8 1386.6h0M1393.7 1442.3h0M1452.7 1292.7h0M1815.1 1101.2h0M1451.1 1240.3h0M1676.2 1373.6h0M1510.1 1220.2h0M1905.5 1265.9h0M1307.1 1329.2h0M1327.2 1183.2h0M1694.3 1383.3h0M1163.7 1377.2h0M1547.6 1191.8h0M958 1239.5h0M1540.8 1382h0M1304.7 1382.3h0M1578.2 1393.2h0M1651.3 1275.8h0M1393 1401.5h0M1508.4 1235.6h0M1448.7 1367.6h0M1431.8 1235.6h0M1372.8 1310h0M1468.7 1264.1h0M1375.1 1326.3h0M2147 1221.4h0M1720.5 1084.5h0M1172.8 1259.7h0M1616.6 1398.1h0M1844.8 1216.6h0M1762.8 1333.5h0M1248.4 1449.7h0M1358.5 1243.2h0M1516.7 1313.1h0M1652 1237.1h0M1362.3 1143.5h0M1540.8 1366.7h0M1962.5 1199.9h0M1146.9 1452.9h0M1679.4 1476.2h0M1160.7 1269.4h0M1266.3 1302.5h0M1572.3 1315.9h0M1890.3 1164.5h0M1338.5 1306.8h0M1515.2 1284.9h0M1552.2 1404.6h0M1489 1181.6h0M1559.2 1346.4h0M1937 1244.6h0M1332.6 1347.9h0M2083.1 1197.2h0M1432.4 1182.7h0M1011.1 1343.7h0M1224.6 1420h0M1595.5 1284.7h0M1637.9 1230.1h0M1454.7 1336.7h0M1630.1 1284.3h0M1611 1128.4h0M1827.5 1300.6h0M1562.1 1365.2h0M1702.5 1327.4h0M1578.5 1248h0M1777.3 1286.6h0M1665.5 1373.7h0M1280.8 1235h0M1694.9 1243.9h0M1318 1200.3h0M1949.7 1338.2h0M1320.7 1295.8h0M1437.1 1270.1h0M891.7 1451.7h0M1307.9 1378.4h0M1463.3 1264.8h0M1197.4 1405.7h0M1589.3 1251.2h0M1567.3 1382.9h0M1533.7 1250.3h0M1531.2 1420.7h0M1499.8 1255.5h0M1102.9 1347.6h0M1351.1 1269.8h0M1476.8 1346h0M1243.8 1315.1h0M1925.2 1232.1h0M1186 1461.4h0M1406.2 1351.2h0M1428.3 1345.7h0M1571.3 1283.2h0M1635.6 1158.3h0M1482.7 1341.9h0M1344.4 1319.2h0M1475.6 1255.5h0M1782.4 1236.1h0M1397.8 1249.2h0M1509.7 1218.5h0M1537 1301.9h0M1310.2 1241.7h0M1431.1 1308.5h0M1435.9 1186h0M1313.6 1287.6h0M1626.2 1287.7h0M1484.2 1216.7h0M1641 1273.5h0M1745.8 1207.2h0M1848.8 1170.8h0M1229.6 1226.7h0M1386.9 1324.8h0M1848.3 1219.8h0M1330.5 1353.1h0M1214.4 1231.5h0M1626.1 1277.8h0M1302.5 1313.9h0M1461.7 1232.6h0M1561.1 1241.1h0M1563.1 1196.7h0M1215.1 1364.8h0M1615.3 1415.8h0M1455.9 1347.8h0M1265 1294.5h0M1235.4 1238.1h0M1640.2 1446.2h0M1797.2 1219.3h0M978.3 1305.3h0M1513.5 1194.4h0M1536.5 1288.1h0M1663 1241.3h0M1850.7 1220.8h0M1817.1 1264.5h0M1822.3 1279.5h0M1843.9 1295.7h0M1340.8 1248.5h0M1396.5 1242.4h0M1710.5 1248.8h0M1541.2 1229.1h0M1117.6 1476.6h0M1530.4 1346.3h0M2004.2 1283.1h0M1572.2 1269.5h0M1307.1 1312.5h0M1335.9 1358.9h0M1571.9 1275.6h0M1437.9 1264.8h0M1613.2 1210.4h0M1057 1289.5h0M1102.9 1403.2h0M1685 1324.9h0M1745.8 1286.8h0M1402.2 1260.5h0M2123.3 1289h0M1778.2 1256.1h0M1248.8 1345.7h0M1088.8 1236.8h0M1465.4 1294.9h0M1645.6 1265.3h0M1761.9 1129.5h0M1820.5 1326.7h0M1197.2 1436.5h0M1499.6 1470.9h0M1480.6 1314.7h0M993.4 1369.8h0M1640.5 1238.6h0M1574.4 1220.9h0M1218.9 1453.7h0M1631.4 1096.1h0M1688.1 1298h0M1083.3 1261.2h0M1641.5 1229.6h0M1361.2 1281.5h0M1395.7 1269.7h0M1153.6 1230.1h0M1516.2 1397.8h0M1819 1292.7h0M1682 1266.2h0M1967.5 1196.1h0M1587.5 1386h0M1988.6 1374.3h0M1797.1 1264h0M1644.6 1285.7h0M1329.9 1178.2h0M1453.1 1114.7h0M1441.4 1230.8h0M1612 1303.9h0M1870.8 1305h0M1848.4 1265.6h0M1438.3 1349h0M1600.7 1118.1h0M1333.5 1252.7h0M1123.7 1423h0M1630.9 1108.7h0M1127.7 1322h0M1260.1 1281.5h0M1403.5 1464.9h0M1760.6 1450.1h0M1933.7 1230.5h0M1619 1339.3h0M1717 1350.2h0M1678 1264.8h0M1811.1 1333.7h0M1295.8 1291.9h0M1788.6 1288h0M1538.5 1318.9h0M1579.7 1267.3h0M1266.7 1392h0M1499.9 1284.3h0M1368.8 1243.9h0M1644.6 1058.1h0M1706.8 1267.1h0M1492.7 1164.8h0M1692.3 1177.8h0M1299.1 1421.7h0M1632.4 1345.3h0M1694.8 1285.6h0M1440.4 1249.1h0M1477.6 1335.8h0M1369.6 1396.7h0M1562.8 1173.7h0M1421.8 1375.9h0M1208.2 1320.9h0M1786.5 1150.2h0M1394.4 1366h0M1687.1 1252.8h0M814.1 1423.6h0M1153.3 1343.7h0M1176.3 1364.1h0M1486.6 1286.7h0M1509.4 1470.8h0M1411.9 1251.5h0M1416.4 1275.5h0M1352.5 1130.2h0M891.3 1415.5h0M1618.5 1221.4h0M1285.4 1299.3h0M1200.3 1378.6h0M1912.1 1246.3h0M1297.8 1140.9h0M1447 1332.9h0M1497 1433.6h0M1665.7 1388.9h0M1584.1 1244.3h0M1381.4 1284.9h0M1332.9 1355.3h0M1830.4 1217.8h0M1523.5 1323.3h0M1566.7 1298.3h0M1320 1429.8h0M1134.3 1347h0M1325.2 1390h0M1303.5 1407.8h0M1484 1250.8h0M1474.2 1313.2h0M1123.9 1331.2h0M1934.5 1174.8h0M1205.9 1426.1h0M1841.5 1290.9h0M1855.7 1174h0M1336.8 1176.6h0M1280.3 1132.8h0M1705.2 1388h0M1015.6 1385.8h0M1498.2 1258.2h0M1535.9 1296.6h0M1133.4 1265.2h0M910.3 1352.7h0M1202 1444.8h0M1685.2 1293.9h0M1634.1 1283.2h0M1892.5 1346.4h0M1538.2 1441h0M1627.3 1181.7h0M1830.4 1146.8h0M1344.6 1335.5h0M1383.1 1428.5h0M1267 1304.6h0M1222.5 1267h0M1704.1 1261.2h0M1627.5 1188.3h0M1391.4 1385.1h0M1789.6 1235.1h0M1385.5 1293.2h0M1519.2 1246.2h0M1155.8 1324h0M1259.4 1378.4h0M1429.4 1484.7h0M1578.2 1196h0M1319.4 1329.3h0M1842.3 1359.5h0M1731.1 1334.6h0M1741 1284.4h0M1121.9 1355.7h0M1510.2 1189.4h0M1606.3 1372h0M1579.1 1241.5h0M1876.6 1231.4h0M1626.5 1306.5h0M1471.7 1160.9h0M1247.6 1355h0M1448.9 1365.4h0M1638.4 1237.2h0M1439.7 1234.2h0M1465.4 1303.7h0M1765.2 1251.2h0M791.3 1510h0M1285.6 1427.4h0M1504.3 1225h0M1724.7 1231.4h0M1249.1 1333.1h0M1705 1343.1h0M1399.8 1123.1h0M1433.2 1275h0M1467.7 1389.5h0M1554.4 1234.5h0M1702 1264.9h0M1355.6 1443.4h0M1424.6 1434.3h0M1769 1250.1h0M1651.1 1361.4h0M1900.9 1333.8h0M1605 1243.2h0M1799.3 1338.1h0M1767.4 1267.6h0M1311.4 1411.8h0M1351 1337h0M1677.5 1248.4h0M1348.4 1358.5h0M1539.4 1232.2h0M1841.3 1324h0M1445.9 1375.7h0M1180.2 1335.8h0M1537 1253.6h0M1281.2 1301h0M1527.7 1137.1h0M1599.8 1277.1h0M1972 1206.7h0M1641.9 1226.7h0M1839 1164.5h0M1818.7 1304.4h0M1402.5 1421.8h0M1725.4 1357.5h0M1200.4 1290.5h0M1760.9 1128.7h0M1146.4 1485.3h0M1504.2 1172.9h0M1580.5 1173.2h0M1431.7 1333h0M1564.2 1363.6h0M1457.5 1305.9h0M1404.3 1284.1h0M1674.3 1292.3h0M1425.9 1371.4h0M1391.1 1321.5h0M1773 1200.3h0M1388.7 1280.3h0M1334.9 1270.1h0M1304.7 1249.7h0M2049.7 1401.6h0M957.1 1335.5h0M1523.3 1200.6h0M1321.9 1218.5h0M1809.1 1325.8h0M1484 1306.1h0M1498 1217.2h0M1428.5 1276.8h0M1329.2 1322.4h0M1809.3 1331.3h0M1235.6 1391.8h0M1451 1191h0M1477.4 1175h0M1692 1400.3h0M1537.9 1230.7h0M1409.1 1303.5h0M1795.2 1165.1h0M1404.9 1356.1h0M1490.5 1396.4h0M1254.8 1310.1h0M1645.7 1205.2h0M1532 1230.9h0M1853 1231.6h0M1627.2 1255.3h0M1496 1369.9h0M1811.3 1224.1h0M976.5 1263.8h0M1549 1281.3h0M1455.3 1223.6h0M1521.5 1235h0M1399.5 1213h0M1686.6 1338.5h0M1368.7 1334.7h0M1601.4 1310.7h0M1908 1402.2h0M1451.5 1222.4h0M1662.4 1200.6h0M1733.2 1306.2h0M1258 1341.7h0M1644.9 1108.2h0M1497.6 1157.1h0M1416.7 1238.4h0M1601.4 1168.9h0M1511.5 1368.9h0M1716.2 1184.1h0M1312.4 1424.6h0M1787 1404.2h0M1254.2 1354.4h0M1584.3 1240.8h0M1234.6 1527h0M1285.1 1261.9h0M1838.2 1231.9h0M1432.2 1401.3h0M1640.4 1227.6h0M1656.4 1237.5h0M1417.6 1500.9h0M1525.3 1433.2h0M1318.1 1272.2h0M1754.7 1357.7h0M1816.6 1128.4h0M1362.9 1330.3h0M1670.9 1220.6h0M1559.8 1365.2h0M1014.9 1236.9h0M1415.3 1362.2h0M1450.8 1359h0M1284.3 1373h0M1481 1097.4h0M1601 1289.2h0M1233.6 1393.2h0M1452.8 1417.4h0M1365.5 1470.6h0M1415.4 1366.3h0M1453.9 1352.9h0M1683.2 1214.6h0M1961.7 1285.1h0M1717.1 1319h0M1447.4 1231.1h0M1386.4 1359.4h0M1752.7 1232.5h0M1265.4 1195.8h0M1215.5 1259.5h0M1359.8 1306.5h0M1369.7 1230.6h0M1407.4 1316h0M1291 1308.5h0M1300.8 1328.7h0M1543.2 1307.1h0M1324.8 1341.5h0M1423.4 1299.8h0M1568.9 1241.1h0M1685.5 1265.6h0M1565.4 1432.1h0M1348.9 1259.7h0M1462 1198.8h0M1539.6 1225.8h0M1350.4 1435.5h0M1418.1 1342.5h0M1822.6 1307.1h0M1109.5 1399.4h0M1799.3 1264.6h0M1551.7 1355.4h0M1097.7 1372.6h0M1437.9 1324.2h0M1579.6 1254.1h0M1760.4 1289.6h0M1557.8 1329.6h0M1457.7 1366.8h0M1345.2 1273.9h0M1680.6 1286.5h0M1513.4 1253.4h0M1740.3 1243.9h0M1519.9 1399.9h0M1630.3 1296.9h0M1475.4 1337.8h0M1444.1 1203h0M1831.6 1192.4h0M1509.3 1159.4h0M1709.8 1299h0M1529.8 1213.4h0M1858.9 1215.8h0M1756.4 1269.2h0M1415.7 1135.3h0M1384.5 1343.2h0M1713.2 1267.6h0M1886.9 1319h0M1461 1316.3h0M1555.3 1282.8h0M1219.5 1381.3h0M2214 1249.3h0M1350.3 1272.2h0M1523.3 1223.1h0M1535.5 1382.3h0M1448 1284.5h0M1206.2 1298.1h0M1186.4 1422.8h0M1711.6 1353.8h0M1423.6 1330.4h0M1727.3 1167.3h0M1305.2 1366.4h0M1610.5 1273.5h0M1815.2 1289h0M1299.3 1400.7h0M1385.9 1411h0M2026.7 1087.8h0M1135.8 1356.2h0M1218.3 1407.1h0M2209.9 1164.7h0M1322.1 1324.7h0M1696.7 1268.7h0M1146 1241h0M1411.8 1280.4h0M1447.4 1342.2h0M1457.4 1202.4h0M1581.8 1296.5h0M1973.3 1298h0M1568.7 1247.5h0M1089.1 1282.2h0M1709.4 1304.1h0M2034.9 1118.5h0M1467.2 1152.1h0M1655.5 1338.7h0M1271.6 1278.1h0M1791.4 1253.3h0M1404.7 1221.8h0M1393.5 1245.7h0M1321.6 1397.9h0M1362.4 1415.2h0M1684.2 1279.5h0M1333.5 1211.2h0M1366.4 1361h0M1827.7 1101.4h0M1015.7 1290h0M1225.2 1248.3h0M1639.1 1363.9h0M1679.9 1186.2h0M1423.9 1165.2h0M1248.1 1325.2h0M1759.4 1198.3h0M1600.4 1346.2h0M1605.8 1377.6h0M1536 1367.8h0M1516.5 1140.2h0M1957.2 1248.8h0M1612.5 1237.4h0M1516.1 1278.8h0M1127.9 1469h0M1623.1 1285.7h0M1056.6 1404.3h0M1668.5 1446h0M1389.3 1293.3h0M1808.3 1284.1h0M1183.2 1273.3h0M1539.2 1337.1h0M1872.6 1260.7h0M1141.4 1264.9h0M1689 1309.7h0M1610.5 1305.5h0M1495.8 1320.4h0M1791.1 1160.8h0M1694 1250.8h0M1262.2 1282.6h0M1169 1384.7h0M1714.5 1318.2h0M1059.3 1353h0M1415.6 1200.8h0M1371 1381.8h0M1171.9 1303.1h0M1148 1293h0M1244 1278.1h0M1470.4 1336.7h0M1721.6 1216.6h0M1708.8 1227.2h0M1087.4 1355.3h0M1333.4 1174.4h0M1100.9 1511.6h0M1249 1164.8h0M1558 1248.5h0M1470.9 1173.2h0M1471.5 1203.2h0M1372.1 1314h0M1363 1145.2h0M1292.5 1380.5h0M1144.6 1465h0M1618.1 1236.6h0M1533.1 1254.7h0M1244.7 1433.8h0M1649.2 1300.9h0M1204 1415.3h0M1149.7 1343h0M1616.5 1255.4h0M1278 1337.4h0M1574.3 1263.2h0M1637.6 1113.6h0M1358.7 1254.6h0M1690.2 1148.9h0M1553 1268h0M1864 1214.6h0M1465.5 1254.3h0M1371.9 1244.5h0M1461.9 1180.3h0M1477.7 1225.9h0M1526.4 1361.9h0M1513.6 1287.4h0M1304.6 1369.2h0M1832.9 1215.3h0M1254.1 1326.1h0M1457.7 1276.1h0M1630 1301h0M1558.7 1263h0M1148.8 1500.5h0M913.4 1422.8h0M1447.1 1327.1h0M1330 1294.3h0M1694.6 1350h0M1619.4 1278.9h0M1719.5 1371.1h0M1666.8 1217.6h0M1388 1231.5h0M1453.8 1205.2h0M1357.7 1378h0M1133.4 1276.7h0M1289.1 1207.2h0M1135.2 1347.2h0M1330.8 1324.8h0M1340.3 1282.1h0M1549.4 1254.5h0M1352.4 1321.8h0M1727.2 1135.8h0M1433.2 1412.4h0M1683.1 1137.7h0M884.2 1440.9h0M1535.1 1207.7h0M1625.8 1271.4h0M1138.9 1269h0M1337.9 1331.4h0M1349.5 1206.6h0M1661.7 1279h0M1401.6 1309.9h0M1533.6 1069.6h0M1545.3 1378.2h0M883.5 1569h0M1557 1251.9h0M1268.2 1266.2h0M1041.3 1321.8h0M1499.4 1428.5h0M1297.7 1293.8h0M1242.8 1311.9h0M1425.9 1299.2h0M1767.3 1250.6h0M1570.5 1389.3h0M1048.4 1347.4h0M1598.2 1338.8h0M1364 1491.3h0M1362.2 1273.3h0M1391.9 1371.1h0M1688.2 1299.7h0M1975.8 1248.4h0M1516.9 1356.5h0M1202.6 1252.3h0M1411 1310.7h0M1364.1 1411.3h0M1406.3 1278.7h0M1033.9 1437.2h0M1389.6 1347.5h0M1020 1517.3h0M1538 1262.7h0M1751.9 1274h0M1556.6 1400.2h0M1354.7 1478h0M1567.3 1271.5h0M1359.4 1322.2h0M1152.6 1347.4h0M1401.2 1284.8h0M1279.4 1223.1h0M1945.7 1118.5h0M1801.3 1272.7h0M888.4 1538.9h0M1524.6 1310.4h0M1486.7 1236.8h0M1673.4 1183.4h0M1501.7 1257.1h0M1015 1508.4h0M1198.7 1257.4h0M1849.3 1190.1h0M1518.5 1351.2h0M1585.8 1311.7h0M1438.4 1399.7h0M1884 1261.8h0M1762.4 1268.3h0M1501.4 1231.8h0M1463 1175.5h0M1715.4 1320h0M1441.5 1338.7h0M1583 1244.4h0M1535.9 1297.8h0M1720.6 1360.5h0M2059.4 1093.9h0M1341.6 1288.4h0M1873.3 1281.2h0M1385.1 1391.8h0M2097.8 1157.7h0M1597.2 1232.7h0M1592.3 1345.5h0M1307.3 1248.4h0M1745.9 1267.3h0M1774.3 1254.3h0M1576.2 1316.3h0M1358 1245.7h0M1293 1231.3h0M2100 1282.7h0M1463.9 1186.1h0M1768.4 1298.1h0M1585.9 1212.6h0M1545.6 1202.6h0M1332.6 1122.9h0M1415.7 1333.7h0M1973.6 1157.3h0M1622.6 1182.1h0M1263.3 1359h0M824 1365.3h0M1336.4 1362.1h0M1392.4 1284.9h0M1832.1 1165.1h0M1206.1 1265.5h0M1985.4 1287.3h0M1406.7 1374.7h0M1824 1427.3h0M1577.3 1300.4h0M1425.6 1132.1h0M1355.8 1437.6h0M1475.8 1471.1h0M1572.6 1191.2h0M1449.1 1336.1h0M1384.7 1303.4h0M1590 1438h0M1502.3 1309.9h0M1371.4 1282.1h0M1751.6 1184.3h0M1326.3 1228.1h0M1692.6 1173.2h0M1221.5 1359.3h0M1663.7 1272.3h0M1366.4 1122.1h0M1228.7 1349.3h0M1822.3 1142.7h0M1534.8 1219.1h0M1623.6 1275.1h0M1460 1320.1h0M1642.7 1264.7h0M1396.6 1413.8h0M1263.7 1344.3h0M1142.1 1292.6h0M1598.1 1351.4h0M1479.6 1103.3h0M2022.9 1155.8h0M1243.3 1462.3h0M1866.4 1261.8h0M1496.7 1386.7h0M1133 1155h0M1297.1 1386.3h0M1147 1310.4h0M1475.8 1377.9h0M1305.6 1200.6h0M1747.5 1303.2h0M1365.8 1295.7h0M1820.5 1337.3h0M1670.3 1260.4h0M1264.5 1325.2h0M1759 1223.2h0M1435.7 1424.5h0M1256.1 1348.6h0M1595.3 1191.7h0M1327 1434.5h0M1572.3 1292.7h0M1195 1264.9h0M1564.8 1171.6h0M1699.8 1328.9h0M1287.2 1243.3h0M1506.1 1379.5h0M1436.7 1241.4h0M782 1381.8h0M1661.8 1287.1h0M1748.1 1377h0M1311.2 1364.8h0M1462 1231.2h0M1705.6 1194.1h0M1976.5 1241.6h0M1610.9 1197.2h0M1774.6 1385.7h0M1748.8 1209.8h0M1667.2 1091.8h0M1351.1 1381.8h0M2080.2 1252h0M1425.8 1276.7h0M1518 1370.7h0M1363.7 1367.3h0M1161.1 1304.9h0M1557.2 1225.2h0M1420.3 1253.7h0M1421 1448.3h0M1781.5 1158.7h0M1192.3 1398.2h0M1251.1 1325.1h0M1789 1253.5h0M1262.4 1325h0M1675.1 1226.9h0M1331.1 1424.6h0M1443.8 1416.8h0M1847.4 1194.3h0M1238.4 1353.3h0M1908.4 1313h0M1617.4 1251.5h0M1877.1 1412.9h0M1384.9 1296.2h0M1306.1 1204.5h0M1637.1 1105.8h0M1338.2 1129.5h0M1892.3 1363.8h0M1777.7 1331.8h0M1300.9 1437.5h0M1638.3 1348.3h0M1445 1313.6h0M1583.9 1352.2h0M1508.8 1301.7h0M1128.7 1365h0M1197.6 1313.5h0M1654.7 1328.7h0M1746.3 1315.1h0M1668.9 1304.7h0M1530.3 1252.6h0M1335.4 1313h0M1407.7 1352h0M1637.4 1210.8h0M1526.8 1320h0M1950.2 1287h0M1721.5 1314.4h0M1118 1382.9h0M1510.8 1278.4h0M1445.4 1243.6h0M1493.4 1345.9h0M1569.4 1314.1h0M2059.1 1277.1h0M1084.5 1421.5h0M1549.8 1374.4h0M1365.6 1326.9h0M1734.1 1259.6h0M1485 1373.3h0M1345.5 1341.9h0M1711.6 1218.3h0M1331.7 1189.8h0M1477.8 1324.7h0M1441.3 1311.6h0M1570.9 1183.3h0M1856 1163.4h0M1422.1 1279.5h0M865.6 1363.1h0M1771.7 1334.3h0M1062.4 1440.7h0M1754.4 1276.6h0M1371.8 1354.7h0M1518.2 1322h0M1634.4 1285h0M1839.1 1289.7h0M1627.4 1184h0M1709.9 1182.5h0M1396.2 1283.8h0M1071.9 1436.5h0M1334.6 1370.6h0M1776.6 1177.1h0M1404.5 1243.4h0M1449.3 1312.5h0M1564.2 1343.6h0M1237 1334.9h0M1455.3 1364.5h0M1398.5 1360.6h0M1594.1 1189.4h0M1748.4 1271.6h0M1203 1145.4h0M2001.5 1113.2h0M1868.2 1222.1h0M1765.1 1311.7h0M1545.5 1296.6h0M1041.1 1449.3h0M1243.6 1338.2h0M1427.2 1285.9h0M1781.4 1149.7h0M1757.5 1216.4h0M1016.1 1354h0M1389.2 1452.6h0M1515.8 1312.7h0M979 1525.2h0M1463.1 1413.4h0M1846.9 1222.1h0M961.8 1320.2h0M1083.6 1206.3h0M1254.3 1419.5h0M2054.7 1278.5h0M1142.8 1431.4h0M1432.9 1264.7h0M1672.9 1280.7h0M2061 1246.8h0M1582.7 1165.1h0M1026 1376.1h0M1654.9 1238.2h0M1398.8 1303.2h0M1381.8 1280.5h0M1277 1385.5h0M1405.1 1374.7h0M1887.8 1345.9h0M1593.1 1180.6h0M1502.7 1120.2h0M1365.5 1331.7h0M1467.8 1201.7h0M1313.7 1344.6h0M1732.8 1246.7h0M1297 1319.1h0M1226.9 1409.8h0M1836.9 1232.4h0M1644.4 1240.8h0M1323.9 1164.6h0M1505.1 1194.1h0M1621.7 1286.2h0M1658.2 1274.8h0M1635.6 1305.2h0M1473.1 1316.9h0M1810.7 1319.5h0M1278 1342.2h0M1431.4 1326.4h0M1702.8 1370.4h0M1396.7 1349.6h0M1330.6 1446.3h0M1688.2 1320.4h0M1245.2 1341.8h0M1517.7 1300h0M1762 1278.5h0M1314.7 1285.2h0M1628.3 1271h0M1104.1 1444.5h0M1549.6 1409.9h0M1414.3 1177.7h0M1699.5 1299h0M977.8 1296.5h0M1646.1 1328.6h0M1382.7 1253.9h0M956 1405.5h0M870 1310.2h0M967.2 1329.2h0M1325.1 1185.4h0M1452.5 1337.4h0M1258.2 1395.2h0M1579.5 1245.2h0M1374.5 1395.6h0M1643.8 1204.9h0M1282.4 1304.3h0M1567 1334.9h0M1063.7 1372.4h0M1666.3 1237.6h0M1746.9 1042.8h0M1835.6 1305.8h0M1625.7 1279.7h0M1547.5 1346.1h0M1506.5 1405.1h0M1355.7 1321.6h0M1240.7 1388.6h0M1259 1345.3h0M1277.6 1370.1h0M1147.4 1252h0M1545.5 1463.1h0M731 1361.3h0M2008.9 1307.7h0M1417.1 1179.7h0M1975.7 1165.1h0M1883.8 1309.4h0M1275.3 1385.1h0M1322.6 1372.9h0M1472.3 1318.2h0M1370 1203.5h0M1621.5 1289h0M1592.9 1333.5h0M2044.9 1213.5h0M1296 1324.8h0M1565.8 1310.3h0M1093.9 1342.3h0M1466.3 1252.7h0M1282.7 1280.2h0M1459.7 1224.5h0M1574.8 1193.6h0M1382 1223.7h0M1626.6 1265.9h0M2115.4 1281.2h0M1850.3 1254.8h0M1537 1293.1h0M1725.9 1315.3h0M1851.9 1286.4h0M1654.3 1422.4h0M1774.7 1150.8h0M958.6 1405.6h0M1385.9 1311.8h0M1404.9 1192.3h0M1782 1251.7h0M1206.3 1208.4h0M1779.7 1217.7h0M1712.1 1325.6h0M1794.7 1254.8h0M1687.3 1416.5h0M938 1330.6h0M1364.3 1242.8h0M1832.2 1206h0M1650.8 1391.5h0M1685.4 1297.1h0M902.2 1370.8h0M1721.2 1230.5h0M1578.9 1239.4h0M1569.6 1358.8h0M2013.8 1236h0M1685.6 1271.2h0M1742.4 1285.7h0M1634.7 1339.3h0M1976.1 1226h0M1441.1 1147.5h0M1524 1151.8h0M1463.9 1247.7h0M1802.9 1167.3h0M1963.1 1291.5h0M1415.5 1312.3h0M1739.9 1356.5h0M1566.8 1381.3h0M1216.2 1403.6h0M1726.3 1348.7h0M985.3 1472.3h0M1517.3 1321.3h0M1399.4 1195.2h0M1171.3 1381.5h0M1358.1 1336.3h0M1125.7 1377h0M1745.4 1173.3h0M1493.5 1245.1h0M1837.2 1131.1h0M966.9 1246.4h0M1422.6 1321.2h0M1506.7 1302.7h0M1834.3 1268.7h0M1564 1458.3h0M1505.4 1265.3h0M1231.5 1285.7h0M1341.3 1275h0M1562.7 1362.9h0M1002.4 1366.3h0M1349.4 1297.2h0M1741 1378.6h0M1634.2 1163.3h0M1360.5 1400h0M950.2 1386.9h0M1688.4 1307.8h0M1309.8 1299.4h0M1292.4 1402.1h0M1621.4 1191.6h0M1805.5 1402.2h0M1574 1188.1h0M1804.9 1268.8h0M1320.4 1267h0M1599.7 1360.5h0M1868.5 1112.1h0M1360.6 1443.7h0M1282.5 1281h0M1713.3 1321.3h0M1582.4 1166.3h0M1471.4 1365.1h0M973.1 1429.9h0M1348.2 1163.4h0M1710.6 1237.8h0M1113.9 1358.5h0M1481.3 1282.6h0M1645.7 1136.6h0M1632.4 1196.1h0M1100.2 1263.7h0M1412.1 1418.1h0M1227.7 1360h0M1779.9 1368.7h0M2084.9 1106.6h0M1406.2 1287.8h0M1497.4 1273.6h0M1276.3 1370.3h0M1340.2 1292.9h0M1484.4 1309.7h0M1693.8 1272.5h0M1480 1238.6h0M773.2 1420.2h0M1664.1 1229h0M1456.4 1292.7h0M1897.9 1296.3h0M1941.7 1206.8h0M1564 1149.7h0M1932.1 1190.4h0M1240.4 1398h0M1051.7 1345.3h0M1473.4 1225.6h0M1837.5 1172.2h0M1733.2 1433.2h0M1857.4 1112.4h0M1635.4 1399.9h0M1760.8 1134.3h0M1419.5 1274.5h0M2125.9 1086.4h0M1539.1 1171.1h0M2156.3 1340.7h0M1207.9 1552.5h0M1851.2 1218.8h0M1359.5 1358.8h0M1564.8 1345.2h0M1331.5 1153.5h0M1244 1381.3h0M1555.7 1346.4h0M1282.6 1263.2h0M1507.7 1379.4h0M1730.6 1217.9h0M1878.6 1382h0M1084.8 1464.7h0M1152.3 1338.1h0M1099 1397.9h0M1698.6 1309.4h0M1200.8 1295.3h0M1593.3 1305.4h0M1288.2 1320.6h0M1866.6 1196.9h0M1387.3 1246.2h0M1203.7 1337.3h0M1227.7 1392.7h0M1582.6 1387h0M2045.9 1240.3h0M1855.3 1163.3h0M1492.8 1287.3h0M1353.6 1371.7h0M1443 1426.4h0M1109.5 1362.8h0M1417.1 1270.8h0M1188.2 1333.2h0M1333.4 1332.4h0M1605.1 1239.8h0M1551.8 1261.3h0M1422.4 1345.1h0M1260.6 1337.5h0M1424.7 1313.2h0M1610.4 1316.6h0M1459.9 1277.6h0M1687.2 1281.3h0M1430.5 1298.5h0M1482.5 1307.2h0M1497.3 1461.2h0M1727.7 1342.6h0M1430.1 1301.1h0M1187.8 1262.7h0M1425.2 1384.4h0M1233.3 1033.2h0M1643.7 1349.7h0M1369.4 1377.9h0M1795.6 1259h0M1363.2 1186.4h0M1784 1296.2h0M1488.2 1275h0M1511 1356.2h0M1956.2 1197.4h0M1854.3 1283.8h0M1691.1 1398.3h0M1109.3 1323.4h0M1267.8 1316.3h0M1519.6 1340.3h0M1447.3 1344.9h0M1478 1247.2h0M1429.9 1307.9h0M1687.7 1253.9h0M1588.9 1305.6h0M1433.7 1333.6h0M1983.6 1150.8h0M1334.4 1141h0M1689.5 1182.4h0M1606.5 1192.3h0M1195.3 1300h0M1375 1307.5h0M1354.2 1403.9h0M1620.7 1289h0M1493.5 1197.4h0M1465.4 1249.9h0M1657.8 1233.9h0M1076.3 1303h0M1581.3 1145.4h0M1653.1 1260.2h0M2082.5 1190.4h0M1636.9 1386.7h0M1299.8 1408.1h0M1795.7 1106h0M1625.9 1279.5h0M1429.4 1430.9h0M1667.6 1296.3h0M1360.6 1278.8h0M1286.9 1226.9h0M1533.5 1184.4h0M1643.9 1274.1h0M1547.7 1263.9h0M1767 1435.5h0M1610.1 1374.6h0M1507.9 1369.3h0M1247.5 1367h0M1653.5 1266h0M1811.5 1331h0M1342.7 1323.8h0M1559.8 1324.5h0M1438.4 1315.3h0M1474.1 1242.1h0M1410.4 1379.2h0M1427.2 1352.7h0M1833.2 1164h0M1403.7 1239.3h0M1783 1329.1h0M1753.5 1370.3h0M1487.9 1320.1h0M1589.9 1376.1h0M1734 1194.8h0M1564.1 1249.7h0M1439.2 1292.1h0M1504.7 1176h0M1512.2 1206.3h0M1559.4 1164.3h0M1346 1412.5h0M1930.8 1164.7h0M1579.2 1284.1h0M1493 1284.2h0M1626.8 1288.3h0M1200.5 1267.1h0M1696.2 1274.8h0M1213.1 1274.6h0M1317.5 1294.6h0M1648.4 1287.5h0M1600.4 1363.5h0M1620.6 1264.4h0M1350.3 1227.4h0M1392.7 1376.5h0M1602.7 1242.7h0M1787.4 1180.2h0M1780.9 1290.1h0M1581.8 1223.7h0M1571.6 1264.9h0M1743.4 1365.1h0M1209.9 1183.5h0M1845.3 1169.5h0M1305.6 1348h0M1331.2 1332h0M1329.6 1148h0M1256.4 1269.8h0M1328.5 1206.3h0M2169 1136.7h0M1050.5 1331.2h0M1791.5 1296.3h0M1580.3 1232.7h0M2347.3 1163.8h0M1845.2 1222.9h0M1887.1 1090.1h0M1812.2 1218.5h0M1490.4 1348.4h0M1868 1247.6h0M1761.8 1176.4h0M1475.9 1350.6h0M1738.4 1146.2h0M1412 1403.4h0M1906.8 1356.8h0M1525.8 1219.5h0M1383.9 1270h0M1292.2 1255.2h0M1532.5 1385.1h0M1420.2 1216.8h0M1561.9 1305.1h0M1425.3 1350.1h0M1306.7 1356.3h0M1389.1 1316.4h0M2001.4 1286.2h0M1064.8 1357.6h0M1652.3 1186.2h0M1188.3 1445.1h0M1716.8 1370.9h0M839.6 1301.9h0M1850.2 1215.4h0M1619.1 1289.7h0M1240.3 1459.4h0M882.5 1378.1h0M1540.6 1366h0M1567.3 1268h0M1747.5 1252.6h0M1705.8 1361.3h0M1040 1305.5h0M1841.7 1288.6h0M1356.7 1370.5h0M2091.8 1209.2h0M1641.1 1267.8h0M1672.1 1259.3h0M1974.9 1222.6h0M1487.1 1312.2h0M1417.1 1259.7h0M1835.6 1250h0M1954.5 1324.4h0M988.1 1400.2h0M920.7 1559.2h0M1601.1 1321.3h0M1828.4 1352.3h0M1277.5 1271.7h0M1565.2 1267.5h0M1424.8 1326.2h0M1487.4 1370h0M1397 1223.7h0M1212.8 1293.1h0M1217.3 1328.9h0M1658.7 1281.4h0M1386.6 1361.1h0M1282 1227.1h0M1879.4 1359.4h0M1922.3 1226.9h0M1494.4 1299.6h0M1119 1365.2h0M1256.9 1417h0M1299.9 1355.9h0M1533.1 1247.9h0M1254.2 1207.1h0M1206.6 1348.2h0M1583.8 1534.8h0M1524.6 1323.1h0M2088.3 1191.2h0M1773 1273h0M1866.7 1360.9h0M1255.1 1374.8h0M1369.6 1307.3h0M1671.5 1281.6h0M1064.1 1325h0M1416.8 1305.1h0M1851.7 1182.5h0M1619.9 1366h0M1672.7 1236.5h0M1049.8 1365.6h0M1515 1223.8h0M1517.1 1250h0M1636.8 1300h0M955.8 1352h0M1434.3 1338h0M1582.2 1273.8h0M1642.2 1224.1h0M1105.8 1223.7h0M1466.7 1307h0M1662.3 1319h0M1851.7 1194.9h0M1706.1 1167.3h0M1169.3 1276h0M1249.2 1242.2h0M1773.1 1283.3h0M1343.5 1270.3h0M2019.8 1099.8h0M2033.4 1251.9h0M1478.8 1238h0M1534.1 1252.7h0M1865.8 1131h0M2039.2 1097.9h0M1292.7 1360.3h0M1555.2 1279.2h0M1363.6 1263.6h0M1077.9 1485.7h0M1950.2 1213.7h0M1628.4 1235.2h0M1724.6 1199.5h0M1569.7 1370.5h0M1161.4 1384.6h0M1478.7 1359.7h0M1478.7 1168.2h0M1654.6 1284h0M1785.4 1236.6h0M2124 1153.1h0M1403.1 1206.7h0M1351.4 1384.4h0M1689.6 1307.3h0M1519.2 1186.2h0M1914.5 1275.9h0M1572.3 1339.9h0M1495.5 1377.4h0M1124.6 1303.7h0M1680.3 1249.5h0M1531.1 1282.2h0M1703.1 1423.5h0M1552.8 1359.1h0M1594.9 1314h0M1481 1310.4h0M1619.3 1422.2h0M1957.7 1174.8h0M1394 1349.5h0M1640.8 1078.2h0M1529.5 1157.9h0M1668.2 1309.9h0M1372.8 1400.2h0M1180.4 1422.7h0M1783.6 1129.8h0M1582.3 1239.2h0M1989.8 1221.7h0M1439.7 1400.8h0M1842.8 1305.4h0M1333.3 1177h0M1443.8 1280.6h0M1694.9 1243.8h0M1357.1 1373.7h0M1771.5 1336.1h0M1474.2 1326.2h0M1296.7 1287.1h0M1762.5 1287h0M1804.9 1208.8h0M1791.9 1275.1h0M1165.2 1215.1h0M1864.8 1273.7h0M1607.5 1382.8h0M1397.9 1274.1h0M1564.3 1347.7h0M1640.4 1287.1h0M1471.2 1332.4h0M1577.5 1274.4h0M1302.6 1363.6h0M1315.1 1195.8h0M1489.3 1434.7h0M1182.9 1396.4h0M1555.8 1306.6h0M1698 1338.9h0M1262.2 1205.9h0M1311.8 1275.8h0M1240.4 1302.8h0M1902.6 1151.2h0M1305.8 1279.6h0M1218.5 1271.8h0M983.6 1327.9h0M1904.9 1312.2h0M1833.9 1298.4h0M1542.1 1198.7h0M1260.5 1523.2h0M1304.6 1415.8h0M1462 1260h0M1154.9 1287.5h0M1714.8 1286.3h0M1555.3 1367.5h0M1979.5 1115.3h0M1656.7 1199.8h0M1576.3 1254h0M1129 1324.4h0M1332.2 1223h0M1651 1123.5h0M1413.6 1331.3h0M1347.4 1205.2h0M1602.1 1328.9h0M1618.7 1247.3h0M1490.6 1310.4h0M1323.5 1189.3h0M1240.9 1464.3h0M1323.9 1441.5h0M1667.2 1274.9h0M1114 1341.6h0M1552.6 1331.4h0M1368.9 1195.3h0M1575.5 1355.3h0M1561.8 1199.3h0M1632.7 1272.1h0M1890.1 1146.4h0M1120 1277.6h0M1540.2 1267.1h0M1523.4 1299.7h0M1673.3 1307.9h0M1345.6 1273.1h0M1127.8 1287.5h0M1149.1 1316.1h0M1840.1 1161.1h0M1508.9 1381h0M1513.4 1238.1h0M1734.8 1213.8h0M1841.9 1206.8h0M1494.6 1329.3h0M1117.3 1269.2h0M2011.5 1226.6h0M1539.1 1409.3h0M1310.2 1297.4h0M1695.1 1184.3h0M1401.7 1284.7h0M1669.6 1218.3h0M1903.5 1163.8h0M1342.6 1276.2h0M1460.5 1285.4h0M1741.9 1398.1h0M1484.6 1415.6h0M1512.6 1404.3h0M1761.5 1242.6h0M1008.2 1290h0M1334.4 1239.2h0M1495 1412.4h0M1456 1279.3h0M1207.2 1308.9h0M1152.7 1390.9h0M1548.5 1115.9h0M1163.2 1266.2h0M1370.2 1320h0M1685.5 1263.1h0M1679.5 1282.9h0M1866.9 1228.6h0M1752.7 1142.4h0M1687.4 1352h0M1349.1 1225.3h0M1569.3 1226.8h0M2052.8 1262.9h0M1709.7 1310.6h0M1891.4 1311.7h0M1437.3 1211.8h0M1431.1 1250.6h0M1743.5 1314.2h0M1816.8 1161.8h0M1272.3 1194.7h0M1117.9 1345h0M1221.2 1292.8h0M1314.7 1314.5h0M1674.8 1209.7h0M1612.2 1185.2h0M1774.8 1241.3h0M1572.2 1327.3h0M1304.3 1293.1h0M1609.2 1223.6h0M1455.6 1331h0M1823.3 1224.1h0M1634.1 1208.8h0M1029.7 1458.8h0M1429 1295.8h0M1739.4 1252.2h0M1690.6 1372.2h0M1905.7 1261h0M1661 1358.4h0M1438.9 1447.3h0M1175.7 1443.2h0M1499 1307.8h0M1713.4 1301.4h0M1192.8 1277.2h0M1583.5 1399.1h0M1679.8 1118.8h0M1694 1303.7h0M1666.2 1397h0M1340.6 1279.3h0M1596.9 1238.8h0M1248.4 1416.6h0M1338.2 1362.5h0M1395.6 1278.8h0M1144.8 1421.3h0M1349.2 1134.8h0M1648.1 1369h0M1571.5 1231.3h0M1530.5 1349.6h0M1669.1 1292.8h0M1420.6 1332h0M1733.5 1275.1h0M1683.6 1222.2h0M1360.3 1218.5h0M1905.1 1364h0M1367.3 1441.3h0M1450.6 1218.7h0M1443.8 1323.9h0M1410.7 1153h0M1337.2 1373.1h0M1915.2 1165.6h0M1415.1 1330.1h0M1292.1 1470.2h0M1148.7 1375.5h0M1598.5 1326.1h0M1742.6 1233.4h0M1550.3 1336.1h0M1402.6 1323.6h0M1565.7 1260.1h0M1953 1330.5h0M1694.4 1217h0M1194.4 1403.6h0M1496 1308h0M1057.3 1322.6h0M1410.5 1273.1h0M1533.4 1315.9h0M1264.1 1313.3h0M1241.3 1155.1h0M1414.1 1259.5h0M1800.9 1140.3h0M1376.6 1097.3h0M1675.7 1394.5h0M1471.1 1360h0M1703.1 1373.7h0M1480 1244.3h0M1197.7 1306.3h0M1404.4 1321.9h0M1580 1228.8h0M1626 1265.4h0M1256.6 1235.4h0M1401.2 1185.8h0M1862.8 1311.2h0M1457.6 1228.8h0M1630.3 1222h0M1782.6 1184.6h0M1257 1335.4h0M1266 1196.2h0M1254.3 1312h0M1831.1 1286.4h0M1531.3 1379h0M1456.3 1264.9h0M1930.7 1239.8h0M1382.6 1199.5h0M1431.3 1231h0M1485.7 1094.2h0M1686.8 1396.2h0M1569.9 1035.5h0M1488.7 1377.8h0M1306 1447.7h0M1523.4 1180h0M1428.7 1095.7h0M1851.6 1191h0M1325.4 1295.2h0M1780.6 1349.5h0M1491.1 1384.7h0M1669 1167.2h0M1525.2 1351.1h0M2081.1 1295.8h0M1575.8 1208h0M1230.9 1405.1h0M1706.8 1228.4h0M1081.2 1391.2h0M1654.7 1211.5h0M1614.2 1103.8h0M1794.8 1063.7h0M1377.5 1237.3h0M2328.6 1356.6h0M1424.8 1388.7h0M1416.7 1392.1h0M1572.4 1366.6h0M1414.4 1424.7h0M1523.7 1207.4h0M1423.9 1287.6h0M1690 1342.9h0M1644 1395.7h0M1020.1 1254.7h0M1047.3 1309.9h0M1342 1332.9h0M1390.8 1180h0M1527.2 1215.9h0M2038 1260h0M1226.8 1229h0M1605.4 1211.5h0M918.6 1298.7h0M1644.8 1164.4h0M1591.9 1426.8h0M2020.7 1146.1h0M1625.5 1249.5h0M1106.8 1308.9h0M1602.3 1214.9h0M1523.3 1317.2h0M1392 1214.1h0M1678.8 1342.8h0M1576 1388.5h0M1538.8 1273.9h0M1585.2 1130.5h0M1249.8 1304.8h0M1526.2 1212.8h0M1576.7 1287.3h0M1504.6 1272.3h0M1611.5 1251.6h0M1213.4 1335.3h0M1537.1 1292.8h0M1566.1 1368.4h0M1646 1239.8h0M1736.3 1242.1h0M1789.8 1318.7h0M1320 1236.4h0M1487.3 1337.4h0M1586.5 1131.4h0M1602.3 1133.1h0M1358.6 1358.7h0M1353.9 1292.3h0M1003.7 1362.1h0M1136.7 1224.6h0M1412 1420.6h0M1338.5 1481.7h0M1677.5 1277h0M1298.3 1335.4h0M1709.7 1358.5h0M1541.3 1329.5h0M1464.4 1419.1h0M753.5 1352.2h0M1487.8 1329.3h0M1333.3 1383.7h0M1851 1299.4h0M1705.1 1350.6h0M1423.4 1243.5h0M1899.4 1185.8h0M1683.1 1274.4h0M1676.6 1236.1h0M1417.3 1281.8h0M1502 1302.8h0M1475.8 1378.8h0M1907.8 1222.1h0M1322 1230.7h0M1320.8 1235.9h0M2104.4 1252.6h0M1677.9 1407.3h0M1587.1 1315.4h0M1308.6 1207.6h0M1287.1 1403.2h0M1626.9 1367.6h0M1753.1 1323.5h0M1605.2 1272.7h0M1733.9 1228.6h0M1482.8 1107.6h0M1152.5 1287.4h0M1837.8 1381.4h0M1665.7 1325.7h0M1773.4 1262.7h0M1600.3 1168.9h0M1789.6 1285.6h0M1772.4 1173.8h0M1607.8 1184.1h0M1834.3 1254.8h0M1938.5 1086h0M1790.3 1260.7h0M1386.6 1359.4h0M1146.1 1325.3h0M1577.8 1278.2h0M1314.8 1290.1h0M1401.8 1136.5h0M1504.4 1302.2h0M1262.6 1405.7h0M1781.5 1237h0M1648.1 1293.2h0M1247.1 1308.2h0M1667.5 1137h0M1105.1 1304.2h0M1113 1382h0M1202.5 1404.7h0M1396.4 1337.3h0M1803.4 993.3h0M1189 1218h0M1423.6 1367h0M1393.6 1348.5h0M1498.2 1406.7h0M1756.5 1169.8h0M1750 1238.6h0M1196.9 1409h0M1563.4 1243.6h0M1414.6 1264h0M1742.9 1272.1h0M1733 1179.9h0M1151.8 1323.4h0M1259.3 1330.6h0M1715.5 1469.3h0M1690.1 1314.3h0M2070.6 1274.9h0M1896.7 1134.2h0M1219.7 1100.8h0M1483.6 1371.9h0M1747.9 1295.3h0M1468.6 1441.1h0M1136.4 1352.4h0M1594.9 1176.4h0M1591 1303.5h0M1652.8 1292.9h0M1238.5 1327.3h0M1502 1276.3h0M1922.6 1177.6h0M1627.4 1209.3h0M1356.5 1332.7h0M1461.3 1327.1h0M1008.9 1464.6h0M1328.5 1257.4h0M1379.3 1378.9h0M1769.5 1138.7h0M1719.7 1285.8h0M1455.7 1378.9h0M1177 1224.4h0M1110.6 1349.5h0M1606.4 1305.3h0M987.8 1448.1h0M1913.6 1218.2h0M1187.6 1339.6h0M1170.9 1405.1h0M1490.4 1394.9h0M1643.7 1317h0M1645 1235.2h0M1572 1427.2h0M1667.3 1187h0M1596.6 1190.8h0M1559.9 1269.3h0M1299.2 1406.9h0M1787.4 1237.9h0M1849.4 1191.1h0M1804.5 1263.9h0M1610 1399.4h0M1228.2 1417.2h0M1041.4 1292.1h0M1430.5 1358.9h0M1654.5 1218.1h0M1103.6 1292.4h0M1733.6 1246.4h0M1402.3 1329.1h0M1514.8 1231.3h0M1329.2 1296.1h0M1235.6 1295.3h0M1751.2 1220.3h0M1420.9 1225.8h0M1732.3 1137.5h0M1391.4 1320.2h0M1408.7 1195.2h0M1369.6 1300.9h0M1252 1201.5h0M2067 1062.7h0M1178.9 1433.8h0M1538.3 1179.6h0M1758.4 1139h0M1737.4 1275.9h0M1155.9 1132.2h0M1271.3 1436.2h0M1644.8 1236.4h0M1309.6 1336.8h0M1418.6 1220.8h0M1758.7 1242.3h0M1699.3 1341h0M1467.7 1319.8h0M1647.1 1346.5h0M1761.6 1153.8h0M1207.9 1445.8h0M1199.1 1355.6h0M1688.6 1205.5h0M1757.5 1192.3h0M2135.2 1218.6h0M1697.1 1346.4h0M1156.6 1217h0M1263.2 1345h0M1372 1375.2h0M1233.9 1293.6h0M1569 1337.7h0M1821.9 1313.3h0M2114.2 1144.3h0M1345.2 1316.2h0M1729.1 1231.1h0M1738.3 1099h0M1615 1290.6h0M1356 1073.6h0M1182.6 1380.1h0M1719.7 1167.6h0M1084.5 1323.5h0M1656.2 1270.6h0M1991.7 1366.9h0M1475.5 1346.9h0M1564.9 1219.7h0M1434.5 1240.6h0M1354.6 1308.6h0M1685 1321.5h0M1500.8 1420h0M1551 1243.8h0M1796.7 1162.9h0M1216.2 1235.4h0M1573.7 1227h0M1576.4 1233.8h0M1597.3 1272.7h0M1358.1 1342.7h0M1512.6 1291.5h0M1688.8 1171.7h0M1377.8 1276.6h0M1196.4 1384.2h0M1520.8 1276h0M1597.3 1217.5h0M1466 1263.7h0M1314.8 1191.1h0M1738.8 1271.3h0M1767.2 1306.2h0M1393.4 1236.2h0M1531.2 1282.2h0M1508.2 1263.6h0M1207.1 1346.6h0M1706.2 1217.9h0M1774.1 1301h0M1611.5 1171.3h0M1821.7 1181.3h0M1416.2 1231.5h0M995 1274.7h0M2469 1208.1h0M1322.1 1244.7h0M1373.8 1329.8h0M1315.7 1361.6h0M1874.4 1200.9h0M1457.3 1327.8h0M941.2 1338.4h0M1651.1 1345.2h0M1485.9 1216.8h0M1785.8 1365.4h0M1553.6 1233.8h0M1702.8 1202.3h0M1192.8 1344.7h0M1859.9 1335h0M1233.7 1357.2h0M1300 1245.7h0M1525.1 1408.4h0M1777.1 1376.2h0M1910.1 1197.8h0M2050.6 1412.8h0M1440.2 1389.8h0M1541.8 1390.9h0M1348.3 1308.6h0M1691.2 1207.2h0M1352.3 1203.7h0M1636 1297.8h0M1878.2 1320.3h0M1320.8 1198.5h0M1434.5 1344h0M1181.6 1332.7h0M1455.1 1420.4h0M1557.8 1242.9h0M1695.6 1219.1h0M1299.9 1264.3h0M1289.9 1401.7h0M2006.9 1228.2h0M1671.7 1127.3h0M1557.3 1267.2h0M1490.9 1331.3h0M1705 1231.5h0M1249.7 1230.1h0M1525.1 1371.8h0M1549.7 1386.5h0M1154 1402.4h0M1092.9 1370.2h0M1607.1 1140.9h0M1233.9 1286h0M1506.4 1326.3h0M1254.1 1319.2h0M1636.1 1405.7h0M1758.9 1299.7h0M1837.4 1132.2h0M1436.6 1302.1h0M1691.7 1324.7h0M1619.3 1234.1h0M1575 1340.6h0M1500.7 1276.9h0M1597.9 1194.6h0M1874.9 1154.7h0M1807.3 1206.3h0M1339.6 1220.1h0M1084.5 1307.3h0M1180.3 1328.6h0M1672.2 1359h0M1304 1386.1h0M1766.7 1215.8h0M1480.4 1335.8h0M1801.5 1168.6h0M1567.3 1234.4h0M1531.2 1258.6h0M1582.7 1084.2h0M863.2 1331.2h0M1601.6 1348.8h0M1089.5 1342.1h0M1125.3 1405.6h0M1786.6 1268.1h0M1658.1 1216.1h0M1292.8 1554.5h0M1537.8 1103.3h0M1695.2 1277.5h0M1937 1312.8h0M1523.1 1229.3h0M1536.2 1227.6h0M1281.2 1415.5h0M2082.3 1242.9h0M1297.6 1350.2h0M1627.6 1105.9h0M1516.3 1361.6h0M1224.1 1289.6h0M1268.1 1370.1h0M1412.4 1291.3h0M991.4 1409.9h0M1092.6 1267.9h0M1484.6 1354.3h0M1138.6 1257.2h0M1579 1373.7h0M1312.7 1425h0M1655.2 1173.3h0M1222.7 1360.4h0M1151.9 1387.8h0M1558.5 1119.2h0M1707.3 1350.1h0M1680.6 1233.8h0M1420.9 1162.1h0M1811.7 1143h0M1843.6 1270.9h0M1457.2 1206.2h0M1443.6 1179.8h0M1319.7 1290.8h0M1520.2 1336.9h0M1786.5 1327.6h0M1535.8 1247.1h0M1732.9 1310h0M1705.3 1281.3h0M1491.4 1319.1h0M1638.6 1378.9h0M1200.3 1332.4h0M1657.1 1314.6h0M1636 1183.9h0M1793.7 1281.1h0M1090.2 1274h0M1669.9 1401.5h0M1584.2 1338.8h0M1533.2 1360.2h0M1980.4 1359.6h0M1944.5 1191.4h0M1160 1335.3h0M1232.8 1266.2h0M1256.8 1346h0M1415.5 1377.9h0M1599.1 1096.1h0M1000 1286.1h0M1826.3 1294.2h0M1557.9 1244.2h0M1181.6 1309.6h0M1446.9 1248.1h0M1251.9 1308.3h0M1510.7 1274h0M1698.2 1397.2h0M1325.8 1252.2h0M1611.2 1375.9h0M1135 1364.7h0M1652.8 1195.5h0M835.2 1359.3h0M1651.6 1288.2h0M1759.4 1294.2h0M1772.8 1148.8h0M1540.2 1332.6h0M1531.7 1194.2h0M1781.4 1236.1h0M1764.6 1298.4h0M1242.9 1332.4h0M1652.9 1240.9h0M1367 1256.2h0M1343.1 1134.1h0M1292.6 1219.9h0M1720.7 1193.2h0M1561.4 1392.4h0M1203.1 1206.6h0M1330.5 1380h0M1720.8 1288.4h0M1563.5 1347.5h0M1551.1 1274.3h0M1741.7 1179.4h0M1402.8 1415.2h0M1724.8 1439.1h0M1622.6 1453.4h0M2131.1 1297.2h0M1464.3 1243.8h0M1387.4 1150h0M1514.8 1422.1h0M2001 1321.1h0M1543.5 1210h0M1818.8 1125.5h0M1559.8 1388.7h0M1382.9 1188.9h0M891.8 1479.1h0M1707.7 1288.4h0M1245.5 1484.4h0M1372.6 1246.6h0M1499.7 1332h0M1827.7 1222.4h0M1196.8 1206.3h0M1329 1312.6h0M1422.7 1341.6h0M1910.1 1280.2h0M1302.2 1255.1h0M1621.9 1385.2h0M1455.1 1418.9h0M1608.5 1245.9h0M1385.5 1386h0M1406.1 1321.9h0M1198.4 1292.7h0M1360.3 1186.2h0M1506.1 1352.5h0M1506 1405.8h0M1360 1340.1h0M1999.5 1290h0M1416.1 1189.1h0M1234.5 1405.5h0M1333 1283.7h0M1050.3 1336.2h0M1231.8 1284.9h0M2064.1 1323.3h0M1633.7 1176.6h0M1586.3 1222h0M1808.2 1262.4h0M1854.7 1189.8h0M1573.4 1349.6h0M1757.1 1397.6h0M1686.4 1193.5h0M1706.5 1361.1h0M1408.6 1234.4h0M1290 1415.3h0M1376 1259.4h0M922.6 1424.5h0M1663.4 1226.8h0M1493.3 1086h0M1540.4 1235.2h0M1461.3 1173.7h0M1528.7 1172.4h0M1248.2 1387.8h0M1791.3 1252h0M1217 1305.8h0M2007.5 1235h0M1724.7 1209.8h0M1301.8 1311.8h0M1355 1394.9h0M1117.5 1179.8h0M1688.4 1181.1h0M1507.5 1303.9h0M1411.7 1299.8h0M1456.4 1376.6h0M1048.7 1212.9h0M1714.9 1236.9h0M1815.5 1118.8h0M1538.9 1360.2h0M1580.8 1407.3h0M1160.3 1337.1h0M1478.7 1255.8h0M1815.5 1356h0M1285.4 1282.2h0M1167.6 1437.7h0M1054.2 1378.1h0M1500 1491.9h0M1676.4 1051.1h0M1656.2 1256.1h0M1118.4 1415.1h0M2052 1279h0M1590.3 1451.6h0M963 1368h0M1185.6 1458.6h0M1661.5 1291.1h0M1854.1 1224.5h0M1678 1177.9h0M2161.4 1180.4h0M1514.4 1300.9h0M1214 1236h0M1338.3 1332.5h0M1495.6 1357.3h0M1526.6 1323.3h0M1502.7 1417.5h0M1432.3 1446.9h0M1161.3 1422.7h0M1544.4 1211.8h0M1288.6 1314.1h0M1454.9 1296h0M1383.9 1348.9h0M1647.5 1339.7h0M1629.3 1307.8h0M1412 1204h0M1790.5 1289.4h0M1639.2 1383.4h0M1463.3 1302.3h0M1524.3 1268.4h0M1614.2 1136.2h0M1165.8 1244.4h0M1547.3 1319.4h0M1643.1 1194.8h0M1929.8 1343.2h0M1334.7 1307.7h0M1482.1 1378.9h0M1522.4 1322.2h0M1690.6 1226.3h0M1707.1 1201h0M1014.5 1333.1h0M1485.4 1198.1h0M1809.7 1101.5h0M1574.8 1370.8h0M1747.7 1210.6h0M1408.4 1312.8h0M1769.8 1395.2h0M1490.6 1351.6h0M1574.3 1375.9h0M1552.3 1147.2h0M1744.1 1264.1h0M1501.1 1279.8h0M1573.5 1213.7h0M1603.7 1314.4h0M1502.8 1330h0M1749.3 1329.3h0M1367 1216h0M1728.5 1377h0M1364.1 1317.6h0M1503.4 1380.1h0M1518.2 1243.7h0M2083.4 1219.6h0M1568 1332.2h0M1298.6 1307.5h0M1510.2 1310.9h0M1464 1355h0M1774.8 1343.4h0M1338.1 1202.5h0M1425.9 1359h0M1679.8 1349.3h0M1431.1 1277.1h0M1677.2 1192.9h0M1092 1394.5h0M1273.1 1250h0M1408.8 1427.4h0M1654.8 1359.5h0M1590.3 1220.1h0M1353.2 1370.6h0M1206.6 1262.6h0M1301.5 1363.9h0M1474 1291.9h0M1436.4 1382.4h0M2060.5 1199.5h0M1823.1 1170.8h0M973.9 1237.2h0M2026 1140h0M1785.3 1317.6h0M1810.2 1256.6h0M1259.7 1315.1h0M1602 1390.5h0M1595.2 1177.7h0M1499.6 1242h0M1679.6 1176.1h0M1203.9 1280.2h0M1674.6 1216.1h0M1605.6 1382.4h0M1694.8 1147.3h0M1282.2 1272.8h0M1560.6 1389.6h0M1277.7 1465.9h0M1644.5 1433.8h0M1057.6 1478.2h0M1813.2 1167.1h0M1554.9 1353.8h0M1975.7 1149.7h0M1306.1 1267.5h0M1357.7 1280.3h0M1193.8 1380.7h0M1989.7 1326h0M1689.5 1240.6h0M1086.9 1318.9h0M1870.4 1160.5h0M1154.8 1263.7h0M1604.4 1121.7h0M1011.4 1389.1h0M1289 1265.7h0M1726 1313.2h0M1190.3 1337.7h0M1889.9 1244.3h0M1625 1257.3h0M1626.7 1183.6h0M1083.6 1300.1h0M1590.3 1381.7h0M1103.1 1497.1h0M1067.5 1214.4h0M1946.7 1194.3h0M1635 1324.8h0M1517.8 1302.6h0M1569.2 1195.6h0M1680 1216.4h0M1602.1 1255h0M1636.3 1317.8h0M1317.1 1361.8h0M1721.8 1361.1h0M1285.3 1318.5h0M1441.5 1282h0M1291.8 1423.7h0M1199.7 1339.5h0M1602.4 1274.4h0M1154.5 1367.4h0M1426.7 1336.3h0M1803.7 1203.5h0M1275.3 1346.8h0M1272.2 1312.2h0M1598.1 1236.1h0M1490.3 1406h0M1614.5 1156.6h0M1374.7 1268.6h0M1428.9 1296.8h0M1631.2 1215.3h0M1107.3 1366.4h0M1292.7 1251.7h0M1557 1278.9h0M1758.6 1187h0M1346.3 1260.7h0M1568.1 1139.9h0M1367.4 1238.1h0M1452.3 1115.6h0M1493.5 1282.4h0M1296.6 1325.3h0M1309.7 1277.5h0M1591 1405h0M1365.4 1362.9h0M1599.1 1283.2h0M1544.3 1196.6h0M1699.8 1205.3h0M1423.6 1365.2h0M1702.7 1303.4h0M1395.2 1174.4h0M1536.6 1412h0M1736.8 1246.9h0M1305.5 1207.1h0M1582.2 1289.6h0M1591.2 1240.3h0M1226.6 1249.7h0M1454.5 1263.1h0M1671.2 1318.2h0M1624.6 1258.5h0M1571.6 1302.3h0M1307.1 1460.3h0M1267 1272.6h0M623 1397.4h0M1433 1156.4h0M1589.3 1288.3h0M1372.8 1368.1h0M1954 1182.5h0M1385.6 1353h0M1427.5 1352.7h0M1139 1359.3h0M1250.7 1314.7h0M1356.4 1387.4h0M1613.8 1270.3h0M1608.4 1240.2h0M1631.6 1295.8h0M1008.6 1293.9h0M1383.5 1391.4h0M1197.6 1216.7h0M1398.1 1366.3h0M1713.9 1338.4h0M1465.4 1259.6h0M1502.9 1266.4h0M1417.2 1409.8h0M1422.4 1326.1h0M1855.1 1373.3h0M1587.6 1280.3h0M2240.3 1142.5h0M1531.5 1128.3h0M1715.2 1242.1h0M1681.2 1417.2h0M1437.4 1111.2h0M1959.8 1091.1h0M1418.8 1350h0M1160.9 1187.3h0M1395.4 1325.4h0M1258.8 1304.8h0M1718.8 1400.2h0M1447.7 1311.2h0M1312.7 1336.6h0M1497.9 1299.1h0M1669.8 1329.5h0M1505 1362.6h0M1632.9 1288h0M1077.8 1392.3h0M1603.8 1195.1h0M1689.6 1317.3h0M2128.1 1167h0M1452.1 1271.7h0M1393.9 1227.8h0M1657.3 1228.1h0M1192.3 1321.6h0M1581.8 1187.7h0M1499.1 1369.4h0M1429.1 1310h0M1743.1 1386.4h0M1375.2 1317.4h0M1303.4 1472.2h0M1315.3 1389.5h0M1171.2 1297.6h0M1312.8 1334.3h0M1933.7 1236.7h0M1626.3 1209.2h0M1313 1273h0M1066.5 1335.5h0M1571.3 1304.2h0M1452.2 1181.5h0M1363.6 1360.1h0M1807 1099.7h0M1691.2 1187.1h0M1683.8 1331.4h0M1817.4 1269.3h0M1328.8 1240.7h0M1209.4 1335.9h0M1614 1245.3h0M1046.9 1463.6h0M1612.2 1271.4h0M1630.6 1361.5h0M1207.1 1265h0M1528.2 1281.3h0M1387.7 1294.1h0M1518.4 1345.8h0M1968.7 1293.6h0M937 1356.6h0M2102 1208.1h0M1614.3 1316.2h0M1325.3 1441.1h0M1400.4 1261.4h0M1587.3 1166.3h0M1499.3 1162h0M1360.6 1355.4h0M1207.4 1357h0M1638.3 1208h0M1301.7 1326.6h0M1517.1 1351.3h0M1064.3 1223.8h0M1467 1327.5h0M1694.2 1294h0M1245.9 1448.2h0M1531.9 1255.4h0M1328.6 1355.1h0M1312.6 1324.6h0M1403.9 1125.3h0M1592.4 1237.4h0M1222.3 1298.2h0M1530.7 1181.1h0M1316.1 1215.4h0M1938.6 1365.1h0M1450.7 1327.1h0M1633.5 1178h0M1530 1468h0M1584.8 1438.1h0M1330.8 1310.5h0M1361.6 1611.4h0M1750.2 1098.9h0M1779.8 1185.2h0M1431.3 1279.6h0M1837 1182.7h0M1497 1230.8h0M1941.2 1379.2h0M1726.2 1074.5h0M1823.8 1265.3h0M1674.9 1193h0M1628.7 1357.1h0M1584.1 1273.1h0M1336.3 1304h0M1104.4 1344.8h0M1160.5 1228.9h0M1542.4 1455.2h0M1314.5 1257.1h0M1192.4 1318.6h0M1126.5 1479.1h0M1748.5 1257h0M1025.8 1290.5h0M1548.4 1158.6h0M1721.3 1321.3h0M1510 1246.1h0M1744.3 1244h0M1299.6 1175.2h0M1877.4 1211.6h0M1457.8 1277.5h0M1537.5 1200.3h0M1378.7 1326.5h0M1952.6 1257.3h0M1256.3 1207.5h0M1961.9 1215.8h0M1423.1 1256.6h0M1728.4 1364.5h0M1691.5 1396.2h0M1724.1 1329.7h0M1461.6 1151.7h0M1700.6 1219.5h0M1868.4 1182.3h0M1463 1342.6h0M1680.1 1279.5h0M1464.8 1283h0M1477.8 1186.2h0M1429 1170.1h0M1555.9 1313.9h0M1896.3 1218.7h0M1600.9 1315h0M1262.7 1298h0M1452 1308.9h0M1459.6 1423.9h0M877.9 1403.8h0M1684.5 1242.6h0M1155.3 1350.4h0M1837.3 1354.6h0M1193.6 1243h0M1656.1 1215.4h0M1166.9 1343.1h0M1542.8 1367.4h0M1727.2 1279.7h0M1513.3 1324.6h0M1442.3 1309.1h0M1253.7 1341.7h0M1847.4 1279.3h0M1599.5 1203.6h0M1682.9 1154.2h0M940 1389h0M1651.1 1149.8h0M1478.5 1285.4h0M1435.1 1271.5h0M1899 1129.7h0M1383.4 1239.3h0M1541.2 1404.2h0M1624.2 1322.8h0M1591.3 1307h0M1308.2 1332.3h0M1857.8 1352.4h0M1238.9 1336.7h0M2080.5 1127.7h0M1062.6 1357.2h0M2053.9 1340.3h0M1647.1 1406.2h0M1662 1263.7h0M1162.3 1224.7h0M1203.6 1223h0M1376.7 1194h0M1453.4 1171.7h0M1589.3 1162h0M1905.4 1240.2h0M1443.8 1365.3h0M1297.9 1278.2h0M2030.3 1074.4h0M1509.1 1273.3h0M1225.2 1329.1h0M1408.1 1351.5h0M1683.8 1361.2h0M1651.1 1226h0M1088.7 1409.6h0M1630.7 1307.5h0M1718.4 1165.5h0M1144.1 1353.9h0M1585.2 1233h0M1384.6 1217.5h0M1533.5 1294.1h0M1481.7 1304.1h0M1157.2 1351.8h0M1514.5 1212.7h0M1599.2 1249.7h0M1550.9 1455.3h0M1329.4 1330.4h0M1567.2 1288.2h0M1144.3 1533.9h0M1506.3 1283.8h0M1412.8 1351.7h0M1623.4 1370.9h0M1551.3 1254.2h0M1534.5 1276.1h0M1531.5 1272h0M1442.5 1364.8h0M1736.8 1254.9h0M1831.1 1102h0M1758.1 1339.6h0M1534.6 1194.9h0M1307.6 1291.7h0M1556.3 1340h0M1635.9 1326.2h0M1519.5 1365.8h0M1059.2 1365h0M1935 1133.1h0M1721.5 1238.7h0M1594.4 1362.7h0M1666.5 1204.4h0M1430.9 1378h0M1486.4 1315.7h0M1594.8 1331.4h0M1532 1234.7h0M1985.8 1297.3h0M1913.3 1104.9h0M1274.8 1315.1h0M1165 1405.2h0M1392.8 1465h0M1722.5 1236h0M1316.9 1247h0M1438.3 1298.3h0M1102.4 1255.8h0M1232.4 1346.3h0M1458.8 1281.7h0M1628 1200h0M1947.3 1183.3h0M1578.5 1183.1h0M1827.1 1354h0M1798.6 1286.4h0M1742.2 1282.3h0M1545.1 1323.8h0M1448.6 1300.8h0M1356.1 1456.9h0M1189 1295.2h0M1586.2 1297.6h0M1518.1 1341.6h0M1226.1 1337.8h0M1840 1385.8h0M1460.2 1302.2h0M1348.4 1193.3h0M1893.1 1169.6h0M1488.9 1354.9h0M1167.4 1299.1h0M1330.8 1299.6h0M1476.6 1303.1h0M1308.4 1140.7h0M1401 1420.4h0M1578.7 1390.6h0M1314.5 1238.2h0M1618.7 1263.5h0M1378.5 1317.7h0M864.7 1313.7h0M1430.8 1278h0M1461.8 1318.9h0M1371.3 1136.6h0M1945.7 1415.6h0M1075.7 1332.6h0M1742.8 1240.3h0M1719.8 1305.8h0M1149.9 1250.5h0M1371.9 1434h0M1973.8 1239.6h0M1240.4 1307h0M1820.2 1358.4h0M1532.5 1159.1h0M1505.2 1383h0M1501.9 1314.8h0M1902.1 1155.6h0M1836.3 1372.6h0M1269.5 1401.2h0M1722.1 1271.4h0M1119.8 1355.4h0M1608.7 1342.9h0M1359.3 1352.8h0M1387.9 1328.6h0M1418 1283.5h0M1332.8 1476.2h0M1909.2 1114.5h0M1918.2 1224.1h0M1544.6 1282.8h0M1280.9 1303h0M1252.6 1224.2h0M1284.5 1143.6h0M1276.4 1305.3h0M1227.7 1446h0M1556.8 1299.7h0M1808.6 1287.9h0M1300.3 1295.5h0M1145.3 1285.8h0M1109.2 1121.6h0M1401.7 1314.5h0M1450.5 1342.7h0M1434.2 1280.3h0M1423.1 1322.7h0M1617.4 1145.2h0M1787.4 1296.7h0M1272.7 1323.1h0M1427.6 1271.1h0M1730.4 1320.4h0M1497.3 1340h0M1459.4 1189.3h0M1138.7 1445.6h0M1138.4 1450h0M1502.8 1293.4h0M1941.4 1327h0M1683.2 1278.2h0M1236.3 1199.8h0M1320.9 1385h0M1070.9 1212.6h0M989.5 1319h0M1339 1409.7h0M1681.4 1211.8h0M1628 1245.8h0M1626.4 1229.8h0M1458.9 1268.3h0M1640.8 1242.5h0M1350.3 1351.3h0M1711 1231.5h0M1312.5 1281.3h0M1345.8 1263.1h0M977.5 1286.2h0M1409.7 1383.5h0M789.4 1351h0M1710.8 1201.3h0M1147.8 1259.4h0M1338.9 1327h0M1343.2 1173.5h0M1431.4 1334.5h0M1485.9 1324h0M1635.3 1242.4h0M1863.8 1263.4h0M825.4 1505h0M1272.7 1322h0M1266.1 1434.8h0M1814.1 1165.6h0M1383.6 1329h0M1871.9 1363.6h0M1894.5 1164.2h0M1892.9 1244.6h0M1399.1 1298.4h0M1418.6 1284.8h0M1541.5 1299.1h0M1617.4 1339.5h0M1490.2 1366.8h0M1427.2 1224.3h0M1131.2 1350.2h0M1524.5 1345.8h0M1272.7 1499.6h0M1707.4 1366.8h0M1123.2 1370.3h0M1146.7 1486.2h0M1350.6 1229.1h0M2043.9 1304.6h0M1623.3 1367.5h0M1763.7 1448h0M1540.3 1352.4h0M1215.3 1243.6h0M1853.1 1156.2h0M1161.9 1335.5h0M1929.5 1282.2h0M1238.4 1271.8h0M1231.4 1296.5h0M1764.2 1090.5h0M1516.7 1318.8h0M1805.8 1295.2h0M1379.5 1484.9h0M1616.6 1233h0M1064.1 1324.3h0M1372.6 1260.8h0M1882.2 1138.3h0M1500.5 1276h0M1054.9 1279.7h0M1270.5 1392.6h0M1595.8 1233h0M2024.9 1181.8h0M1067.2 1372.3h0M1941.1 1205.6h0M1510 1393.4h0M1496.5 1326.7h0M1307.1 1369.1h0M1494.9 1300.2h0M1528.5 1301.9h0M1363.6 1217h0M1675.3 1256.2h0M1751 1293.9h0M1831.1 1229.7h0M1525.3 1096.6h0M1323.5 1293.3h0M1278 1345.3h0M1370.1 1266.6h0M1296.3 1284h0M1312.5 1284.6h0M1960.8 1257.1h0M1488.4 1307.9h0M1368.3 1286.5h0M1757.4 1269.1h0M1312.9 1341.2h0M1777.4 1248.5h0M1887.6 1284.9h0M1461.6 1323.6h0M1386.8 1208.4h0M1682.6 1170.3h0M1529.3 1329.3h0M1831.2 1169.7h0M1711 1169.4h0M1502.2 1285.9h0M1643.1 1253.4h0M1365 1466.8h0M1476.4 1406.7h0M1462.8 1392.9h0M1638.5 1189.7h0M1272.3 1281.2h0M1219.2 1314.4h0M1408.7 1404.9h0M1594.8 1319.8h0M941.8 1274.6h0M1418.4 1368.6h0M1210.9 1260.9h0M995.8 1239.7h0M1487.4 1322h0M1504.1 1265h0M1573.9 1315.4h0M1323.1 1410.9h0M1367 1202h0M1868.4 1297.3h0M792.1 1450.4h0M902.7 1393.2h0M1233.8 1324.2h0M1101.1 1323.5h0M1384.2 1367.6h0M1378.5 1348h0M1659.3 1274.3h0M1794.5 1340.1h0M1241 1322.6h0M1258.9 1229.2h0M1577 1410.2h0M1015.6 1230.9h0M1722.5 1047.7h0M1465.4 1244.4h0M1280.2 1265h0M1702.9 1243.1h0M1958.4 1168.2h0M1488.8 1400.7h0M1299.2 1256.7h0M1051.8 1374.4h0M1392.5 1386h0M1579.7 1278.9h0M1382.4 1399.9h0M1485.9 1192h0M2068.6 1242.7h0M1098 1386.5h0M1596 1248.5h0M1233.3 1436.8h0M1423 1239.2h0M1605.6 1350.3h0M1280.5 1263.9h0M1485.8 1275.5h0M1774.4 1274.4h0M1486.1 1356.7h0M1531.1 1418.2h0M1759.5 1281.7h0M1362 1287.5h0M1946.3 1202.4h0M1402 1327.7h0M1476.1 1304.8h0M1584.1 1285.2h0M1451 1180.2h0M1709.1 1276.4h0M1773.2 1280.4h0M1414.8 1308.6h0M1583.9 1303.4h0M1183.2 1334.3h0M1675.5 1256.1h0M1108.3 1382h0M1545.9 1388.2h0M1198.9 1437.5h0M1528.9 1221.1h0M1972.2 1299.3h0M1796.9 1255.5h0M1190.2 1345.3h0M1866.3 1088.2h0M1737.3 1227.5h0M1262.3 1309.4h0M1531 1304h0M1625.4 1250.8h0M1609.6 1251.4h0M1333.7 1368.6h0M1387.2 1275.4h0M1398.5 1140.7h0M1529.1 1324.4h0M1146 1366.1h0M1530 1208.5h0M1287.3 1190.2h0M1645.5 1350.4h0M1430.5 1239.8h0M1404.9 1333.5h0M1598.8 1270h0M1793.3 1226.4h0M1566.4 1369.1h0M1476.9 1272.4h0M1297 1346.7h0M941.6 1310.4h0M1371.1 1169.5h0M1227.6 1459.4h0M1320.4 1463.1h0M1760.6 1224.9h0M1530.1 1194.7h0M1805.2 1265.7h0M1568.6 1278.1h0M1443.4 1264.4h0M1861.6 1051.8h0M1228.6 1350.9h0M1293.5 1107.9h0M1474.3 1329.8h0M1269.8 1475.3h0M1554.5 1336.3h0M1892 1237.1h0M1726.9 1248.4h0M1397.6 1204.3h0M1672.7 1237.4h0M1513.4 1287.1h0M1888.9 1126.3h0M1637.8 1270.2h0M1118.3 1219h0M1616.1 1319.9h0M1268.4 1259.8h0M1388 1277.4h0M1388 1371.6h0M1215.5 1356.1h0M1569.3 1270.1h0M1100.7 1299.2h0M1932.4 1202.5h0M1538.8 1216.2h0M1304.3 1371.9h0M1778.8 1262.4h0M1724.7 1319.5h0M1854.5 1404.7h0M1638.9 1232.6h0M1507.6 1107.5h0M1698.1 1310.5h0M1696.5 1316h0M1243.8 1357h0M2082.4 1179.1h0M1684.9 1274.4h0M1971.5 1269.4h0M1294.2 1415.3h0M1162.2 1242.1h0M2177.6 1084.2h0M1775.2 1197.4h0M1550 1348.4h0M1213.1 1213.6h0M1459.4 1343.8h0M1330.6 1388h0M1886.2 1469.9h0M1614.2 1445.9h0M1493.6 1360.4h0M1585.5 1227.2h0M1435.6 1455h0M1820.1 1265.8h0M1372.8 1457.9h0M2275.6 1167.3h0M1247.1 1284.7h0M1641.3 1260h0M1256.5 1222.9h0M1521.4 1296.4h0M1482.9 1206.1h0M1552.8 1256.8h0M1467.3 980h0M1571.8 1437.3h0M1732.3 1251.8h0M1694.2 1318h0M1464.3 1294.7h0M1751.1 1193.4h0M1462.7 1398.6h0M1748.3 1239.7h0M1412.6 1217h0M1528.9 1201.9h0M1472.8 1073.2h0M1695.9 1138.7h0M1686 1263.3h0M1392.5 1329.6h0M1347.3 1105.9h0M1380.9 1309.5h0M1422.9 1258.2h0M1260.4 1211.9h0M1652.5 1295.6h0M1279 1370.1h0M1762.4 1226.7h0M1140.7 1261.5h0M1750.3 1316.2h0M1803.3 1119.2h0M1654.4 1268h0M1771.7 1236.2h0M1540.1 1288.3h0M1363.1 1321h0M1262 1278.4h0M1814 1234.8h0M1461.9 1354.4h0M1322.3 1230.5h0M1278.5 1322.5h0M1921.6 1342.3h0M1414.9 1207.5h0M1544.8 1235.4h0M1597.9 1166.3h0M1486.4 1385h0M1767.4 1301.2h0M1543.1 1345.8h0M1240.6 1216.2h0M1590.5 1272h0M1315.9 1277.9h0M1711.6 1209.3h0M1944 1259.2h0M1805.6 1289.6h0M1505.8 1218h0M1487.3 1288.9h0M1550.7 1307.3h0M1644.2 1348.3h0M1324 1210.5h0M1651.8 1391.2h0M1245.2 1263.6h0M1229.9 1316.7h0M1643.8 1329.8h0M1686.6 1444.2h0M1043.1 1467h0M1477.7 1309.3h0M1254.6 1278h0M1377.5 1352.2h0M1547.2 1250.8h0M1324.1 1317.1h0M1525.3 1309.3h0M1599.5 1313.4h0M1406.7 1156.9h0M1275.2 1360.8h0M1292.7 1337.2h0M1577.6 1268.9h0M1642.3 1291.3h0M1615.7 1209h0M1645.6 1277.8h0M1641.4 1152.9h0M1785.5 1303.1h0M1251.5 1508.1h0M1395.3 1142.1h0M1952.7 1227.3h0M1762.8 1215.6h0M1518 1193.1h0M1643.3 1248.2h0M1399.7 1366.8h0M1699.1 1275.4h0M1234.5 1353h0M1168.2 1182h0M1546.6 1248.2h0M1195.1 1314.3h0M1557.4 1326.2h0M2044.8 1277.3h0M1880.9 1245h0M1659.8 1227.4h0M1005.4 1522h0M1565 1213.2h0M1345.9 1160.5h0M1413.1 1334.7h0M1732.7 1392.4h0M1492.3 1284.8h0M1673.5 1168.1h0M1305.1 1251.3h0M1492.2 1287.5h0M1803.3 1113.5h0M1939.8 1265.8h0M1672.6 1292.9h0M1717.5 1354.2h0M1834.3 1182.1h0M1763.5 1150.4h0M1601.7 1374.5h0M1376.5 1396.3h0M1508.7 1368.5h0M1638.2 1359.9h0M1462.8 1354.2h0M1320.5 1474.9h0M1485.5 1225.7h0M1337.3 1273.6h0M1560.9 1274.8h0M1165.7 1357.7h0M1844.3 1206.5h0M1400.8 1310.8h0M1195.1 1451.9h0M1721.1 1251.5h0M1920.5 1284.6h0M1453.2 1364.3h0M1645.1 1175.7h0M1688.1 1201.9h0M1767.6 1271.9h0M1153.7 1367.3h0M1789.8 1273.3h0M1138.8 1308h0M1247.5 1490.2h0M1730.7 1409.4h0M1646.5 1299.1h0M1437.8 1260.1h0M1495.6 1232.4h0M1310.4 1307.7h0M1669.5 1267.2h0M1352.5 1385.6h0M1832.1 1276.3h0M1647.6 1282.8h0M1577.7 1277.8h0M1474.8 1374.1h0M1422 1309.3h0M1444.1 1309.6h0M1548.8 1171.4h0M1694.5 1101.5h0M1418.7 1242.3h0M1133.1 1398.2h0M1583.2 1087.5h0M1679.5 1175.9h0M1239 1193.9h0M1481.6 1304.1h0M1306.7 1289h0M1463.8 1339.5h0M1728.6 1367h0M1195.8 1263h0M1327.8 1360.2h0M1663.9 1289.4h0M1581.2 1416.4h0M1731 1229.5h0M1645.9 1313h0M2101.9 1268.4h0M1954.2 1149.7h0M1387.6 1252.7h0M1203.9 1448.9h0M1477.1 1324.8h0M1332.7 1228.6h0M1253.5 1282.2h0M1643 1278.1h0M1928.6 1184.7h0M1622.6 1245.3h0M1635.3 1149.1h0M1589.2 1111.8h0M1766.9 1402.5h0M1518.1 1198.2h0M1604.5 1249.1h0M1563.5 1262.1h0M1612.6 1209.4h0M2061 1032.2h0M1979.2 1273.1h0M1571.5 1219.1h0M1891.2 1136.8h0M1729.9 1162.5h0M1563.4 1298.4h0M1515.4 1233.1h0M1308.5 1279.4h0M1979.8 1229.5h0M1636 1350h0M1985.3 1262.7h0M1202.4 1367.7h0M1892.7 1150.2h0M1134.2 1389.7h0M1847.1 1259.1h0M1545.4 1233.4h0M1798.9 1250.9h0M2144.7 1305.7h0M1424.7 1404.4h0M1461.4 1235.5h0M2043.9 1225.3h0M1535.6 1208.5h0M1243.9 1154.7h0M1530.5 1245.7h0M1433.2 1404.2h0M1498.2 1191.9h0M1157.1 1372.4h0M1006.9 1266.5h0M1201.5 1281.9h0M1317.6 1313.8h0M1507.1 1252.2h0M1402.2 1297.9h0M1625 1251.5h0M1136.9 1395.4h0M1815.6 1333.4h0M1859.6 1118.6h0M1329.1 1493.7h0M1492 1236.1h0M1669.1 1254.2h0M1638.2 1345.8h0M1716.9 1287.7h0M1783.5 1348h0M1567.4 1251.7h0M1799.9 1194h0M1552.6 1341h0M1701.6 1242.3h0M1568.7 1344.6h0M1901.1 1272.3h0M1855.9 1424.1h0M2070.6 1209.7h0M1634.2 1175.4h0M1121.3 1228.2h0M1446.7 1192.5h0M1346.6 1229.2h0M1763.6 1213.9h0M1261.8 1399.7h0M1848.4 1242.7h0M1505.6 1440.9h0M1743.3 1077.9h0M1320 1327.2h0M1753.5 1275.1h0M1952.1 1358.7h0M1267.9 1227.7h0M1690.5 1278h0M1851.2 1219.9h0M1599.4 1310.6h0M1512.3 1324.1h0M1640.2 1276.2h0M1107 1350.1h0M1454.9 1416.6h0M1661.8 1302.5h0M1156.1 1268.5h0M1369.9 1206h0M990 1428.3h0M1834.3 1182.7h0M1175.6 1248h0M1496.7 1339h0M1460.5 1221.8h0M1686.5 1320.4h0M1571.2 1318.9h0M1563.1 1331.3h0M1593.6 1308.3h0M1223.3 1480h0M1587.5 1408.5h0M1860 1248.6h0M1537.4 1359.8h0M1684.4 1211.4h0M1471.3 1306.7h0M1809.8 1318h0M1552.6 1205.9h0M1933.3 1208.3h0M1397.1 1455h0M1527.1 1351.6h0M1348.3 1310.8h0M1867.7 1269.7h0M1834.6 1100.4h0M1325.1 1311.8h0M1594.1 1269.6h0M1601.8 1181.4h0M1501.8 1242.7h0M1265.9 1145.2h0M1837.5 1345.9h0M1884.4 1262.8h0M1484.4 1358.9h0M1428.4 1291.2h0M1733 1308.8h0M1455 1271.4h0M1654.4 1451.2h0M2020.3 1229.7h0M1284.1 1268.6h0M1509.3 1238.1h0M1684.2 1308.7h0M1954.5 1097.1h0M1180.4 1504h0M1052.3 1433.8h0M1597.8 1113.3h0M1777 1254.1h0M1788.9 1287.9h0M1579.8 1262.8h0M1481.9 1292.3h0M1020.7 1463.6h0M1537.3 1214.3h0M1618.9 1253.3h0M1613.1 1302.6h0M1434 1146.5h0M1391.9 1203.1h0M1700.9 1280.1h0M1371.1 1374.2h0M1642.4 1291.5h0M1707.4 1336.9h0M1561.5 1355.6h0M1980 1229h0M1431.6 1351.5h0M1662.2 1282.6h0M1104.4 1390.9h0M1609.2 1177h0M1601.8 1243.8h0M1275.1 1218.1h0M1319.5 1260.7h0M1343.7 1400.6h0M1379.3 1243.4h0M1758.8 1364.5h0M1838.4 1134h0M1297.3 1230.2h0M1819.7 1211.3h0M1631.5 1396.9h0M1548.2 1321.9h0M1156.2 1250.3h0M1936 1142.4h0M1665.8 1284.9h0M1978.2 1249.3h0M1691.2 1325.5h0M1461.3 1290.7h0M1489.8 1240.7h0M1535.8 1339.9h0M1785.6 1266.6h0M1693.5 1284.3h0M1288.4 1402.9h0M1751.3 1207.4h0M1799.5 1275h0M1845.1 1286.8h0M1486.9 1198.1h0M1553.1 1264.2h0M1040 1414.8h0M1429.3 1320.9h0M1331.2 1332.2h0M1497.2 1318.1h0M1144.5 1551.1h0M1732.1 1186.7h0M1451.9 1442.6h0M1594.3 1397.8h0M1639.8 1395.4h0M1574.6 1333.3h0M1464.9 1273h0M1661.3 1235.5h0M1554.8 1257.6h0M1454.3 1262.9h0M1829.7 1284.8h0M1660 1259h0M1486.5 1395.6h0M1567.2 1441.8h0M1197.7 1373.3h0M1481.6 1313.9h0M1256.3 1259.1h0M1732.3 1405.7h0M1022.4 1340h0M1121.9 1327h0M1450.4 1263.8h0M1194.8 1384.5h0M1322.7 1261.5h0M1289.8 1402.3h0M1691.3 1343.6h0M1423.1 1217.3h0M1813.6 1241.5h0M1734.6 1296.5h0M1481.6 1258.6h0M1074.6 1405.4h0M1485.9 1198h0M1389.4 1454.4h0M1482.5 1347.3h0M1220.7 1478.1h0M1415.8 1292.7h0M1332.1 1248.8h0M1315.1 1262.6h0M1511.3 1309.1h0M1273.2 1297.7h0M1653 1382.1h0M1360.7 1367h0M1388.1 1348.8h0M1441.6 1212h0M1024.4 1303.1h0M1895.7 1145.9h0M1690.7 1298.4h0M1779.4 1217h0M1334.7 1475h0M1772.9 1217.5h0M1727.1 1257.5h0M1528.9 1349.7h0M1424.2 1347.6h0M1817.3 1308.3h0M1140.6 1217.3h0M1404.5 1162.7h0M1289.3 1322.7h0M1694.1 1333.8h0M2020 1363.2h0M908.7 1409.1h0M1168.4 1325.1h0M1765.9 1251.4h0M1458.8 1278.2h0M1337.9 1421h0M1809.2 1065.7h0M1544.5 1261.5h0M1715.3 1142.3h0M1068.7 1195.2h0M1336.2 1302.5h0M1323 1185.8h0M1432.2 1356.2h0M1820.7 1468.6h0M1895.4 1317.6h0M1615.8 1329.6h0M1205.6 1355h0M1795 1137.7h0M1689.4 1350.2h0M1887.4 1357h0M1439.4 1422.3h0M1717.1 1175h0M1721.2 1109.3h0M1466.5 1216.7h0M1148.7 1236.6h0M1465.7 1284.6h0M1683.6 1204.4h0M1816.8 1329.2h0M1463.3 1379.7h0M1588.1 1160.6h0M1436.6 1194.2h0M1238.2 1333.7h0M1357 1367.9h0M1757.9 1314.5h0M1295.3 1232.6h0M1338.3 1355.9h0M1461.6 1191.6h0M1448.9 1440h0M1127.4 1235.2h0M1116.7 1303.7h0M1134.5 1322.9h0M1277.2 1293.9h0M1207 1281.9h0M1392.9 1205.6h0M1499.7 1272.4h0M1758.2 1297.3h0M1084.7 1229.7h0M1210.8 1219.6h0M1702.9 1249.5h0M1108.7 1267.5h0M1300.5 1418.3h0M1417.1 1213.1h0M1670 1240.1h0M1489.1 1170.8h0M1798.1 1195.2h0M1339 1365.3h0M1272.7 1334.5h0M1598.8 1389.6h0M1482.2 1223h0M1482.2 1354.6h0M1775.3 1279.6h0M1195.5 1395.1h0M1539.4 1309.9h0M1638.7 1302h0M1292.4 1342.8h0M1538.2 1205.9h0M1260.1 1337.7h0M1451.3 1323.9h0M1818.8 1119h0M1325.3 1459.6h0M1834.1 1236.8h0M1354.1 1261.5h0M1564.8 1383.5h0M1253.1 1247.4h0M742.4 1316.5h0M1425.2 1473.7h0M1624.5 1356.5h0M1384.3 1302.5h0M1599 1271h0M1487.6 1422.8h0M1416.8 1174.7h0M1460.4 1193.6h0M953.4 1429.9h0M1470.4 1323.4h0M1363.7 1306.8h0M1321.4 1380.6h0M1957.6 1179.4h0M1418.5 1344.7h0M1620.9 1282h0M1646.5 1151.4h0M1962.1 1230.8h0M1386.7 1188.7h0M1871.9 1330.6h0M1711.7 1267.7h0M1356.4 1363.4h0M1245.8 1281.6h0M1976.7 1206.6h0M1191.8 1477.1h0M1262.3 1251.3h0M1131.2 1432.9h0M1380.6 1364.5h0M1668.2 1238.5h0M1686.4 1217.1h0M1767.8 1257.3h0M2169.8 1159.4h0M1715.5 1190.5h0M1282.9 1350.9h0M1695.6 1144.4h0M1784 1273.6h0M1552.4 1297.6h0M1443.4 1281.3h0M1586.3 1343.4h0M1892.1 1262.9h0M1906.7 1249.6h0M1491.2 1229.6h0M1271.6 1340.3h0M1125.6 1346.2h0M1010.1 1380.4h0M1437.2 1202h0M1361.8 1383h0M1788.9 1298.1h0M1826.7 1289.9h0M1532 1264.8h0M1607.7 1234.3h0M1185.1 1326.9h0M1592.3 1277.4h0M1687.5 1245.9h0M1609.6 1259.9h0M1573.5 1233h0M1651.5 1256.6h0M1925.2 1262h0M921.2 1298.4h0M1539.1 1323.2h0M1305.1 1341.3h0M1415.3 1234.4h0M1817.9 1209h0M1594.1 1221.3h0M1530.1 1266.6h0M1241.9 1337.1h0M1698.9 1221h0M1822 1258.8h0M1294.6 1207.6h0M1646.1 1302h0M1516.6 1302.5h0M1815.1 1314.1h0M1355.4 1310.6h0M1672.1 1263.4h0M1430.1 1297.5h0M1909.2 1280.4h0M1438.7 1360.7h0M1459 1381.8h0M1146.8 1275.9h0M1703.7 1251.4h0M1575.5 1207.2h0M1417.1 1394.7h0M1617.9 1277.5h0M1415.9 1252.3h0M1511.3 1410.5h0M1021.3 1432.4h0M1272.5 1227.5h0M1608.9 1171.9h0M1865.4 1315.6h0M1490.1 1321.4h0M1800.7 1279.3h0M1154.1 1308.9h0M1671 1266.7h0M1769.9 1298.2h0M1593.9 1384.6h0M1528.1 1319.9h0M1449.5 1451.3h0M1380.5 1289.4h0M1453.8 1219.5h0M1742.5 1375h0M1576.4 1341.3h0M1505.4 1193h0M1521.2 1250.3h0M1424.6 985.9h0M1765.9 1226.4h0M1577.7 1252.6h0M1633.8 1234.1h0M1959.4 1200h0M1854.6 1198.3h0M1143.8 1302.4h0M1506.6 1408.1h0M1323.1 1318.9h0M1598 1348.7h0M1216.3 1457.4h0M1781.2 1281h0M1542 1263.8h0M1772.6 1270.8h0M1309.4 1482.9h0M1791.8 1243.1h0M1911.6 1096.3h0M1369.3 1296.9h0M1439.6 1124h0M1975.8 1154.5h0M976.9 1431.9h0M1606.7 1242h0M1566.2 1274.3h0M1648.6 1195.5h0M1765.5 1228.8h0M2025.6 1046.2h0M1884.2 1349.8h0M1602.1 1209.5h0M1023.7 1348.7h0M1119.9 1336.8h0M1774.6 1358.7h0M1511.3 1467.8h0M1577.8 1338.6h0M1674.6 1354.6h0M2047.5 1174.3h0M1445.1 1272.5h0M1163.4 1336.9h0M1337.6 1447.7h0M1550.2 1214.8h0M1416.8 1074.9h0M1397.9 1208.6h0M1642.6 1213.2h0M1202.7 1454h0M2138.9 1305.6h0M925.1 1377.6h0M1750.8 1335.8h0M1492.2 1428.6h0M1184.6 1408h0M1742.7 1354.6h0M1327.7 1126.8h0M1597.9 1222.7h0M1534 1298.5h0M1296.6 1374h0M1565.3 1162.1h0M1429.2 1262.5h0M1429 1422.5h0M1270.7 1246.1h0M1728.6 1238.9h0M1630.3 1332.4h0M1468.8 1201.1h0M2142.4 1205.5h0M1302.7 1449.8h0M1989.2 1174.6h0M1433.7 1357.5h0M1187.5 1243.3h0M1378.1 1159.9h0M1811.1 1361.9h0M1464.2 1400.3h0M2075.9 1217.6h0M1195.4 1438.5h0M1405.7 1150h0M1715.2 1293.7h0M1551.2 1180.5h0M1276.1 1439.3h0M1933.9 1212.8h0M1092.4 1269.4h0M1759.5 1282.4h0M1804.7 1242.4h0M1286 1360.1h0M1559.4 1167.4h0M1206.4 1377.8h0M1409.7 1212.8h0M1490.2 1303.2h0M1085.3 1425.5h0M1710.5 1235h0M1600.9 1307.7h0M1577.8 1224.5h0M1199.2 1198.8h0M1451.1 1269.4h0M1546.7 1247.5h0M1534.6 1474h0M1453.5 1366.9h0M1205.4 1397h0M1662.8 1225.3h0M1194.2 1460.5h0M1450.8 1278.5h0M1035 1412.3h0M1587.7 1423.1h0M1415.9 1394h0M1863.7 1214.1h0M1339.6 1326.7h0M1527.3 1125h0M1567.3 1317.2h0M1787.9 1296.8h0M1614.2 1318.1h0M1215 1345.2h0M1072 1308h0M1335.1 1463.7h0M2346.2 1135.4h0M1561 1439h0M1422.4 1372h0M1184.5 1403h0M1440.8 1417.5h0M1092.1 1286.8h0M1457.1 1174.4h0M1725 1151.8h0M1468.8 1362.6h0M1601.6 1394.2h0M1745.1 1347h0M1337 1223.3h0M1401 1252.2h0M1532.1 1194.4h0M1565.5 1296.4h0M1790.9 1285.8h0M1793.9 1292.8h0M1203.3 1209.6h0M1454.7 1243.5h0M1243.5 1242.5h0M1527.2 1330.7h0M1641.8 1250.8h0M1306.3 1439h0M1583.2 1357.9h0M1532.7 1320.7h0M1371.2 1280.7h0M1471.3 1336h0M1512.1 1234.3h0M1685 1142.5h0M1192.2 1534.4h0M1472.1 1419.1h0M1485.8 1221.8h0M1487.5 1288.5h0M1190.8 1316.3h0M1266.1 1388.4h0M1713.5 1252.1h0M1632.2 1287.5h0M1417.1 1428.6h0M1466.8 1308.3h0M1512.4 1249.8h0M1498.2 1184.4h0M1692.6 1301.6h0M2105.5 1414h0M1291.2 1355h0M1449.4 1189.6h0M1801.6 1267.2h0M1200.7 1363.5h0M1714.8 1310.2h0M1529.5 1222.8h0M1258.3 1316.1h0M1224 1298.2h0M1198.6 1329.8h0M1286.3 1437.4h0M1447.4 1266.3h0M1738.9 1341.8h0M1603.2 1232.9h0M1843.3 1176.5h0M1695.2 1271h0M1510.3 1196.2h0M1717.7 1127.2h0M1508.3 1217.5h0M1724.1 1203.9h0M1107.7 1239.3h0M1528.1 1261h0M1751.9 1266h0M1319.5 1398.3h0M1417.4 1223.7h0M1622.1 1361.9h0M2023.8 1139.4h0M1335.6 1293.5h0M1567.1 1380.7h0M1272.4 1394.2h0M1277.5 1253.2h0M1649.6 1299.4h0M1541 1309.9h0M1499 1242.3h0M1512.1 1250.8h0M1338.3 1369.1h0M1429.7 1379.3h0M1090.4 1374.1h0M1432.9 1422h0M1608.2 1331.5h0M1826.9 1340.2h0M1361.5 1251.5h0M1817.1 1159.4h0M1820.1 1170.1h0M1339.4 1389.6h0M1371.3 1261.1h0M1510.1 1293.7h0M663.7 1284.9h0M1504.6 1388.7h0M1398.1 1299h0M1405.8 1313.6h0M1683.2 1262.6h0M1351.4 1434.9h0M1607.8 1330.7h0M1416.7 1477.9h0M963.8 1380.1h0M1318 1350.6h0M1593.9 1241.9h0M1312.9 1335.5h0M1402.6 1337.2h0M1795.6 1407.7h0M1472.7 1288h0M1048.5 1313.8h0M1236.3 1153.8h0M1417.7 1404.2h0M1351.1 1323.8h0M1665.7 1146.1h0M1706.4 1159.4h0M1737.9 1257h0M1498.2 1224.5h0M1539.7 1164.5h0M1198.6 1320h0M982 1448.9h0M1494 1338.9h0M1466.2 1378.3h0M1332.5 1358.6h0M1630.8 1401.5h0M1397.7 1339.2h0M962.3 1405h0M1636.3 1202.2h0M1373.5 1299.3h0M928.1 1261.3h0M1271.1 1355.9h0M1134 1342.7h0M1641 1420.5h0M1355.2 1399.4h0M1483.6 1334.6h0M1217.1 1324.9h0M1247.3 1277.4h0M1363.5 1284.1h0M1244.4 1244.3h0M1342.5 1404.4h0M1018.3 1304.1h0M1360.2 1289.1h0M2026.1 1113.6h0M1321.2 1166h0M1166.9 1377.4h0M1742 1354.1h0M1820.3 1330.9h0M1449.2 1213.7h0M1658.2 1257.1h0M1455.4 1198.7h0M1801.5 1185.4h0M1694 1208.8h0M1944.9 1275.4h0M1187 1465.7h0M1281.8 1396.4h0M1785.2 1304h0M1469.4 1292.4h0M1577.9 1270.1h0M1220.7 1281.3h0M1650.4 1246.7h0M1715.9 1145.9h0M1870.3 1190.7h0M1376.2 1386.4h0M1655.8 1369.2h0M2012.5 1199.4h0M1329.6 1308.8h0M1699.1 1229.3h0M1938.8 1316h0M1227.7 1281.2h0M1791.7 1357.8h0M1790.1 1349h0M2012 1326.8h0M1986.3 1326.5h0M1701.3 1341.3h0M1281.2 1237.9h0M1477.3 1386.2h0M1543.4 1273h0M1183.4 1293.4h0M1781.4 1239.3h0M1297.4 1204h0M1789.3 1276.1h0M1728.9 1191.5h0M1636.1 1294.4h0M1725.6 1248.3h0M1284.3 1462.7h0M1601.9 1349.1h0M1567.4 1328.4h0M2014.4 1118.4h0M1351.1 1457.1h0M1251 1386.1h0M1846.5 1299.6h0M1655.7 1192.9h0M1489.3 1395.6h0M1197.8 1434.2h0M1916.8 1308.7h0M1667.3 1265.2h0M1375.8 1153.3h0M1694 1230.5h0M1561.8 1470.9h0M1306.4 1381.1h0M1389.8 1245.4h0M1122.2 1219.7h0M1526.8 1242.2h0M1691.6 1246.5h0M1884.5 1215.2h0M1950.7 1218.3h0M1283.4 1349h0M1078 1228.4h0M1548.6 1330.9h0M1773 1246.6h0M924.8 1317.2h0M1347.4 1333.9h0M1298.9 1125.8h0M1288.9 1360.6h0M1281.2 1385.6h0M1310.8 1260.8h0M1748.9 1240.5h0M1482.2 1374.2h0M1384.4 1352.4h0M1335.7 1277h0M1780.9 1222.7h0M1647.5 1209.3h0M1136.4 1372.9h0M1234.2 1492.2h0M2174.3 1218.8h0M1690.2 1338.1h0M1391.9 1302h0M1176.2 1383.9h0M1557.8 1201h0M1548.1 1247.5h0M1342.8 1437.1h0M1742.2 1229.7h0M1474.3 1291h0M1395.5 1203h0M1581.4 1225.6h0M1272.4 1440.2h0M1686.2 1322.1h0M1517.7 1220.9h0M1839.3 1183.3h0M1341.9 1255.7h0M1961.2 1329.1h0M1655.8 1362.5h0M1042.9 1270.7h0M1622.4 1334.5h0M1562.3 1272.1h0M1675.2 1245.5h0M1991.2 1219.9h0M1292.5 1210.8h0M754.4 1340.6h0M1783.3 1335.2h0M1162.5 1396.8h0M1252.8 1443.2h0M2120.5 1245.7h0M1577 1363.2h0M1329.4 1216h0M1653.4 1182.9h0M1135.6 1413.6h0M1752.6 1299.6h0M1711 1239.2h0M1308.3 1282.4h0M1497.8 1411.7h0M1747 1187h0M1671.5 1256.9h0M1034.3 1274.2h0M1559.5 1314.9h0M1684.5 1254.5h0M1218.2 1357.4h0M1697.9 1159.5h0M1347 1337.2h0M1432.1 1355.3h0M1635.2 1241h0M1294.7 1198.8h0M1682 1277.4h0M1589.7 1296.1h0M1699.7 1228.8h0M1280.1 1377.6h0M1576 1312.6h0M1158.7 1214.6h0M1865 1077.9h0M1480.6 1337.9h0M1956.9 1306.7h0M1432.7 1323.3h0M1809.5 1235.3h0M1349.5 1476.2h0M1536.6 1312.9h0M1791.1 1358.9h0M1538.5 1214.5h0M1529.3 1228.7h0M1402.1 1252.6h0M1147.6 1433.9h0M1884.1 1158.5h0M1284.9 1310.9h0M1519.2 1421.7h0M1359.1 1220.9h0M1430.2 1243.3h0M1638.9 1425.8h0M1648.8 1307.4h0M1160.3 1181.7h0M1429.7 1443.5h0M1262.3 1424.9h0M1189.1 1256h0M1605.9 1370.8h0M1761.6 1154.9h0M1434.3 1307.8h0M1471 1415.8h0M1493 1262.8h0M1632.9 1237.7h0M1576.5 1281.8h0M1641.1 1201h0M1596.8 1200.8h0M1449.4 1211.6h0M1087 1425.7h0M1373.9 1375.9h0M1319.1 1294.3h0M1452.9 1284.9h0M1601.9 1257.8h0M1309 1245.8h0M1593.9 1268.2h0M1392.5 1343.7h0M1378.5 1452.9h0M1416.7 1191.6h0M1460.4 1268.4h0M1916.6 1221.7h0M1107.7 1188.7h0M1865.5 1145.3h0M1483.9 1250.6h0M1952.8 1297.2h0M1634.2 1306.4h0M1518.2 1268.2h0M1284.1 1326.8h0M1708.6 1101.7h0M1122.6 1301.7h0M1228.9 1352.6h0M1051.3 1365.4h0M1320.9 1246.9h0M1587.1 1147.6h0M1562.5 1256.7h0M1333.8 1312.8h0M1832.6 1112.8h0M1520.6 1371.6h0M1578.6 1277.8h0M1327.8 1289.7h0M1276.5 1328.4h0M1807.5 1294.7h0M1281.8 1422.6h0M1831.4 1141.4h0M1813.3 1254.2h0M1685.2 1277.9h0M1614.9 1094.9h0M1793.3 1212.2h0M1552.3 1147.3h0M1564 1115.5h0M1510.6 1358.2h0M1328.9 1165.9h0M1576 1309.4h0M1398.6 1349.2h0M1713.8 1333.1h0M1512.5 1376.2h0M1732.9 1080.9h0M1485.3 1259h0M1795.1 1217.1h0M1640.9 1304h0M1379.4 1369.7h0M1217.8 1279.9h0M1408.2 1344.9h0M1515.1 1265.9h0M1906.6 1200.4h0M1459.7 1148h0M1117 1302.7h0M1453.5 1348.5h0M1337 1265h0M1008.8 1376.3h0M1248.2 1543.2h0M1536 1357.3h0M1887.3 1254h0M1603.1 1347h0M1255.1 1340.9h0M1366.9 1204.4h0M1343.1 1245.6h0M1490.5 1161.5h0M1625.6 1258.4h0M1243.5 1312.5h0M1392.8 1366.2h0M1548.9 1217.3h0M1636.4 1414.7h0M1508.3 1427.3h0M1374.9 1374.9h0M1635.5 1232.4h0M1298.5 1365.4h0M1832.7 1119.6h0M1265.5 1372.1h0M1516.4 1232.4h0M1602.9 1464.1h0M1152.5 1267h0M1252.9 1373.1h0M1153.5 1343.3h0M1323.6 1234h0M1784.6 1312.6h0M1633.6 1190.2h0M1287 1447h0M1220.5 1317.3h0M1762.5 1344.7h0M1439.7 1419.8h0M1473 1329.4h0M1686.8 1210.8h0M1649.6 1375.5h0M1153.5 1389.4h0M1388.5 1349.8h0M1309.1 1238.7h0M1953.5 1195h0M1223.2 1292.6h0M1684.7 1290.8h0M1471.5 1268.2h0M1500.3 1419.5h0M1264.1 1327.6h0M1765.4 1205.3h0M1359.6 1304.9h0M1268.8 1282.7h0M1239.8 1265.1h0M1629 1255.6h0M1511.5 1362.4h0M1577.9 1304.4h0M1526.1 1363.2h0M1088.7 1398.9h0M1455.7 1167.1h0M2051.2 1230.9h0M1234.3 1442.3h0M1516.3 1361.2h0M1346.3 1075h0M1464.3 1387.7h0M1714.6 1185.8h0M1569.5 1364.9h0M1590.5 1388.2h0M1259.4 1434.3h0M1255 1390.5h0M1815.2 1232.5h0M1110 1309.9h0M1283 1285.6h0M1299.2 1350.6h0M1652.8 1268.3h0M1317.9 1159.8h0M1411.5 1284.6h0M1700.6 1151.9h0M1508.5 1211.6h0M1142.2 1522h0M1321.4 1279.7h0M1298.7 1221.8h0M1863.7 1290.5h0M1684.9 1244.6h0M1653.2 1332.6h0M1823 1295.5h0M1437.7 1311.9h0M1312.7 1374.1h0M1773.9 1271.8h0M1545.2 1375.8h0M1272.1 1386.4h0M1404.2 1274.6h0M1995.7 1292.1h0M1694.4 1260.4h0M1557.6 1464.7h0M1648.6 1312.2h0M1481.5 1191.3h0M1531.7 1112.2h0M1585.9 1356.2h0M1403.5 1193.5h0M1721.8 1190.8h0M1809.3 1313.8h0M2044.8 1106.1h0M1475.7 1208.6h0M1571.9 1242.7h0M1845.3 1295.9h0M1522.4 1418.1h0M1636.4 1211.2h0M1547.3 1344.4h0M1579.4 1396.5h0M1441.5 1259.7h0M1575.8 1234.3h0M1531 1341.1h0M1694.9 1173.5h0M1135.4 1388.1h0M1325.9 1334.9h0M1416.1 1405.4h0M1290.9 1400h0M1216.1 1335.8h0M1472.8 1326.4h0M1729.2 1361.1h0M1518.8 1291.7h0M1889 1197.6h0M1043.7 1326.6h0M1714.9 1240.7h0M1523.9 1310.8h0M1589.9 1290.6h0M1557.9 1174.8h0M1302.9 1375.9h0M1812.7 1115.4h0M1440.7 1290.2h0M1642.4 1226h0M1036.4 1335.4h0M1799.4 1277.8h0M1404.2 1305.7h0M2034.6 1246h0M1487 1188.9h0M1394.8 1295.3h0M1701.4 1278.2h0M1750.9 1249.8h0M1303.7 1224.7h0M1464.8 1273h0M1470.6 1168h0M1772.5 1230.9h0M1487.6 1307.2h0M1345 1356.4h0M1331.2 1267.8h0M1407.5 1305.4h0M1352.2 1344.6h0M1603.2 1313h0M1673.9 1139.6h0M1541.5 1215.3h0M1549.5 1234.3h0M1542.1 1275.1h0M1222.2 1378.5h0M1790.9 1328.1h0M1452.8 1250.3h0M1800.4 1155.9h0M1593.2 1177.7h0M1267.2 1265.2h0M1840 1331.3h0M1422.1 1350.4h0M1137.2 1221.6h0M1103.4 1356.2h0M1584.7 1235.6h0M1325.3 1162.1h0M1551.3 1316.1h0M1755.2 1298.2h0M1521.2 1355h0M1709.3 1415.4h0M1384.6 1432.7h0M1383.4 1235.6h0M1326.8 1220.6h0M1256.1 1297.5h0M1246.4 1225.4h0M1540.4 1182.7h0M779.5 1365h0M1891.2 1274.9h0M1964.8 1331.5h0M1714.7 1304.9h0M1257.3 1297.9h0M1397.2 1480.2h0M1466.3 1274.6h0M1770.4 1126.7h0M1642.1 1365.9h0M1876.2 1382h0M1345.3 1268.2h0M1508.3 1344.1h0M1871.4 1272.2h0M1470.7 1289.7h0M1337.5 1255.1h0M1425.2 1294.6h0M1636.9 1296.1h0M1724.2 1300.5h0M1577.2 1164.7h0M1655.4 1250.7h0M1787.9 1242.3h0M1010.5 1325.8h0M1417.2 1365.2h0M1585.5 1164.4h0M1190.7 1298.1h0M1359.2 1234.6h0M1324 1244.1h0M1852.9 1271.2h0M1539.4 1259.7h0M1504.6 1225.6h0M1773.6 1359.6h0M1671.6 1327.1h0M1405.7 1177.8h0M1344.7 1198.5h0M1484.9 1357.3h0M1733 1186.7h0M1568.2 1322.8h0M1622 1191.9h0M1495.4 1361.8h0M1109.4 1366.3h0M1386.4 1278.5h0M1630.2 1276.2h0M1349 1124.8h0M1185.7 1416.2h0M1795.9 1294.1h0M1499.2 1320.3h0M1735.2 1162.6h0M1516 1210h0M1633.6 1476.4h0M1430.5 1232.5h0M1716.4 1270.3h0M1028.7 1317.9h0M1219.6 1322.2h0M1710.2 1113.8h0M1634.9 1332.5h0M1533.8 1282.7h0M1748.5 1356h0M1459.1 1392.4h0M1410.4 1357.5h0M1556.6 1431.9h0M1202.3 1230.7h0M1926.2 1264.2h0M1319 1435.5h0M1593.3 1144.9h0M2015.3 1212.9h0M1301.9 1289.6h0M1637.1 1204.2h0M1148.1 1232.8h0M1400.2 1477.7h0M1527.5 1200.6h0M1284.8 1372.3h0M1407.7 1219.5h0M693.5 1455.8h0M1686 1224.2h0M1757.1 1460.4h0M1609.9 1293.2h0M1387 1216.8h0M1579.1 1264.1h0M1748.3 1079.1h0M1744.3 1226.4h0M1628 1234.5h0M1034.4 1374.1h0M2127 1201.6h0M1223.8 1341.9h0M1379.9 1406h0M1407.6 1362.6h0M1378.3 1412h0M1514.2 1146.8h0M864.6 1223.2h0M1338 1386.2h0M1409.8 1326.7h0M1870.5 1193.9h0M1489.7 1311.8h0M1773.8 1169.1h0M1674.8 1350.3h0M1084.8 1297.2h0M2014.6 1253.6h0M1441.7 1294.9h0M1567.2 1329.1h0M1198.5 1319.7h0M1227.5 1417.5h0M1524.7 1215.2h0M2193.3 1147.7h0M1854.7 1197.5h0M1646.3 1244.1h0M1761.9 1304h0M1429.4 1219.1h0M1070.7 1527.2h0M1506.7 1357.2h0M1619.8 1180.1h0M1684.4 1450.8h0M1823.4 1279h0M1482.2 1171.6h0M1352.2 1196h0M1417.8 1335.4h0M1310.1 1387.9h0M1657.3 1426.1h0M1206.6 1315.6h0M1609.5 1398.1h0M1578.8 1222.1h0M1164.4 1401h0M1774.1 1314.3h0M1362.6 1306.1h0M1423.1 1299.7h0M1677.5 1211.2h0M1080.8 1374.5h0M1434.2 1273.2h0M1740.9 1393.4h0M1536.1 1242.4h0M1102.1 1414.8h0M1390.3 1283.7h0M1527.5 1294h0M1347.4 1181.5h0M1492 1201.7h0M1265.5 1389.1h0M1345.7 1248h0M1470.3 1300h0M1740.8 1196h0M1345.8 1260.3h0M1383.3 1370.2h0M1849.1 1264.4h0M971.7 1247.7h0M1280.9 1375.6h0M1347.2 1288.8h0M1252.8 1311h0M1353.5 1361.6h0M1339.3 1259.6h0M1669.5 1294.8h0M1347.4 1295.5h0M1777 1344.4h0M1981.2 1306.6h0M1691.1 1252.1h0M1581 1251.1h0M1585.4 1283.9h0M1654.1 1271.2h0M1098.6 1428.5h0M1488.6 1283.8h0M1251.2 1338.4h0M1709.7 1214.6h0M1707.5 1278.4h0M1677.4 1414h0M1249.7 1286.1h0M1264 1301.6h0M1660.5 1147.4h0M1522.1 1288.8h0M1567.3 1158.5h0M1978.9 1154.7h0M1443.9 1249.4h0M1375.9 1422.5h0M1609.5 1355.8h0M1527.9 1334.3h0M1348 1308.6h0M1008.2 1419.9h0M1702.4 1235.6h0M1130.2 1458.6h0M1367.4 1286.2h0M1392.1 1292.7h0M1946.6 1288.6h0M1746.8 1355.5h0M1502.6 1340.8h0M1237.1 1443.9h0M1613.9 1236h0M1558.5 1302.7h0M1628.8 1315.8h0M1448.6 1414.6h0M1289.5 1477.4h0M991.3 1144.3h0M1431.1 1242.5h0M1328.4 1278.7h0M1273.2 1348.2h0M1299.5 1316.4h0M1912.6 1290.5h0M1625 1252.6h0M1659.5 1223.2h0M1803.2 1309.8h0M1811.1 1381.2h0M1497.4 1156.2h0M1604.4 1173.3h0M1376.9 1282.9h0M1566 1235.9h0M1565.2 1167.5h0M1375.6 1336h0M1640.4 1242.7h0M1686.8 1294.4h0M1425.3 1308.8h0M1368.5 1446.1h0M1154.9 1194.2h0M1139.4 1360.5h0M1496 1370.4h0M1776.3 1211.1h0M1357.1 1360.2h0M1207.3 1456.6h0M1676.2 1220.7h0M1411.8 1227.9h0M1318 1299.8h0M1705.3 1228.3h0M1039.2 1409.1h0M1428.2 1339.3h0M1482.4 1209h0M1592.5 1359.5h0M1255.2 1291.6h0M1201.7 1307.3h0M1976 1271.2h0M1565.8 1360.3h0M1263.3 1408h0M1564.3 1215.3h0M1707.1 1371.2h0M1765.8 1237.7h0M1135.4 1287.1h0M1735.4 1174.8h0M1489.9 1276.6h0M1117.9 1293.9h0M988.8 1373.5h0M1377.8 1251.1h0M1369.3 1329.9h0M1590.5 1403.6h0M1347.5 1444h0M1856.2 1288.5h0M1494.4 1378.7h0M1538.6 1335h0M1355.4 1220.6h0M1328.6 1381.8h0M1129.9 1394.4h0M1095.9 1363.9h0M1421.7 1266.8h0M911.7 1254.9h0M1025.7 1292.2h0M1311.1 1210.6h0M1536.2 1337h0M1704.6 1327h0M1522.3 1393.8h0M1201.5 1239.3h0M1555.4 1342.6h0M1589.5 1236.8h0M1809.6 1222.1h0M1415.5 1282.7h0M1547.2 1287.2h0M1430.5 1357.7h0M1391.8 1236h0M1780 1289h0M1420 1269.5h0M1345.1 1277.7h0M1988.8 1396.1h0M2044 1213.3h0M1582.5 1365.1h0M1157.3 1393.8h0M1672.9 1275.2h0M1134.5 1292.6h0M1131 1284.5h0M1645.9 1313.3h0M1634.2 1056.3h0M2026 1259.1h0M1323.3 1333.3h0M1356.5 1351.6h0M1825.7 1145.7h0M1516.1 1259.1h0M1613.5 1318.5h0M1302.1 1296.9h0M1162.6 1247.1h0M1235.7 1187.2h0M1548.6 1246.6h0M1822.5 1201.5h0M1504 1197.3h0M1912.5 1291.8h0M909.4 1391h0M1387.8 1382.5h0M1210.4 1434.8h0M1231.1 1321h0M1905.1 1377.5h0M1676.9 1284.8h0M1306.3 1253.4h0M1539.6 1275.9h0M1761.1 1283.6h0M1596.5 1281.3h0M1650.1 1290.7h0M1811 1375.9h0M1652.4 1234.9h0M1492.9 1243.8h0M1412.4 1324.9h0M1464.5 1311h0M1244.8 1300h0M1319.4 1279.4h0M1616.5 1417.6h0M1945.9 1115.4h0M1311.5 1282.1h0M1703 1271.4h0M1010.1 1268.9h0M1846.2 1125.6h0M1212.9 1410.5h0M1313.3 1434.9h0M1506 1238.8h0M1363.2 1345.5h0M1172.5 1419.3h0M1224.9 1365.6h0M1169.3 1259.6h0M1657.3 1441.8h0M1267.9 1287.1h0M1361.2 1341.9h0M1608 1370.7h0M1429 1336.4h0M1705.6 1408.6h0M1486.6 1405.6h0M1595.8 1351.4h0M1300.2 1285.8h0M859.7 1516.8h0M1627.1 1194.2h0M1708.8 1243h0M1304 1131.3h0M1356.9 1289.5h0M1617.5 1330.5h0M1714.1 1344.2h0M1766.7 1244.3h0M1504.2 1240.2h0M1478.9 1340.3h0M1244.2 1379.4h0M1812.3 1241.5h0M2079.2 1196.6h0M1824.7 1267.2h0M950.5 1274.6h0M1270.3 1269.1h0M1292.4 1315.7h0M1508.3 1191.5h0M1702.1 1313.2h0M1427.6 1228.2h0M1317.4 1416.7h0M1109.4 1307.7h0M1028.6 1474.2h0M1237.5 1432.2h0M1119.8 1262.2h0M1737 1309.7h0M1541.6 1329.9h0M2081.2 1231.4h0M1783.5 1207.6h0M1630.6 1117.3h0M1252.2 1491.7h0M1571.8 1227.6h0M1128.1 1409.6h0M1866.6 1273.7h0M1617.2 1087.6h0M1834.3 1238.5h0M1532.1 1305.2h0M1393.4 1373.3h0M1376.2 1274.5h0M1559.3 1158.9h0M1573.4 1287.7h0M1706.2 1183.6h0M1876.8 1216.2h0M1735.4 1347.2h0M1384.2 1355.7h0M2033 1161.6h0M1351 1337.1h0M1974.3 1303.5h0M1499.1 1337.5h0M1275.1 1326.9h0M1357 1326.3h0M1327.3 1272h0M1112.7 1391.7h0M1658.5 1108h0M1436.6 1402.8h0M1082.5 1426.8h0M1751.4 1354.9h0M1059.2 1434.4h0M1391.6 1301.3h0M1355.3 1415h0M2032.4 1332.8h0M1245.6 1316.8h0M1466.9 1284.9h0M1240.6 1419.8h0M1776.2 1137.7h0M1273.2 1269.6h0M1834.3 1203.9h0M1492.3 1419.5h0M1236.9 1215.8h0M1561.4 1402.2h0M1041.5 1229.1h0M1399.2 1166.3h0M1597.1 1297.8h0M1493.8 1302.9h0M1428.7 1458.5h0M1737.8 1159.8h0M1377.6 1395.7h0M1794.3 1227.6h0M1438.9 1254.2h0M1452.6 1343.1h0M1094.8 1401h0M1715.6 1206.7h0M1657.2 1296.7h0M1566.9 1270.1h0M1812.7 1328.9h0M1614.5 1293.3h0M1506.6 1537.8h0M1413.1 1400.6h0M1317 1317.3h0M2311.6 1171h0M1699.9 1096.2h0M1453.4 1114.5h0M1362.9 1386.6h0M1389.3 1181.5h0M1577.3 1242.9h0M1443.2 1196.8h0M1627.4 1269.4h0M1566.7 1319h0M1738 1231.2h0M1068.7 1360.8h0M1453.9 1172.3h0M1774.5 1180.5h0M1331.1 1254.3h0M1694.5 1322.6h0M1375.3 1295.1h0M1734.1 1389.9h0M1469.4 1200h0M1431.3 1334.1h0M1275.8 1236.8h0M1676.3 1265.4h0M1108.7 1279.6h0M1028.6 1438.2h0M1286.5 1363.3h0M1890.2 1340.7h0M1400.3 1287.9h0M1621.9 1327.3h0M1659.1 1350.7h0M1287 1373.9h0M1256.2 1350.1h0M1233.9 1354.4h0M1421 1352.3h0M1540.2 1372.1h0M2072.8 1203.3h0M1527.9 1330.8h0M1861 1296.7h0M1207.9 1348.1h0M1587.3 1280.2h0M1450.6 1293.3h0M1598.8 1372h0M1454.2 1332.8h0M1059.7 1274.4h0M1527.3 1315.2h0M1940.6 1159.8h0M1420.2 1201.1h0M1306.8 1314.7h0M1408 1377.8h0M1534.4 1416h0M1543.1 1305.1h0M1434 1315.7h0M1796.8 1286.6h0M1545.1 1348h0M1234.9 1319.5h0M1639.7 1124.3h0M1325.3 1159.2h0M1790.7 1197.7h0M1515.8 1306h0M1457 1323.6h0M1544.9 1289.8h0M1242 1339h0M1540.1 1277.2h0M1816.4 1360.4h0M1377.6 1434.4h0M1360.1 1317.4h0M1244.4 1328.6h0M1496.1 1258.6h0M1529.3 1260.3h0M1455.3 1164.6h0M1900.3 1351.3h0M1289.1 1343.1h0M1426.5 1346.2h0M1512.9 1321h0M1109.9 1192.7h0M1373 1324.6h0M1407.6 1470.8h0M1475.3 1368.4h0M1057.7 1367.3h0M1562.7 1352.2h0M1678.9 1327.6h0M1343.2 1378h0M1608.1 1397.9h0M2070.2 1163.9h0M1545.8 1347.9h0M1517.5 1347.7h0M1339.5 1280.2h0M1448.3 1314.9h0M1527.1 1326.3h0M1757.6 1196.4h0M1367.9 1340.1h0M1472.3 1342.4h0M1502.3 1358.1h0M1736.2 1456.1h0M1609.1 1428.9h0M1558.1 1343.3h0M1211.8 1339.1h0M1636.6 1120.9h0M1540.5 1231.5h0M1828.1 1175h0M1466.4 1399.3h0M1533 1131.2h0M1546.2 1254.9h0M1665.1 1250h0M1668.9 1337.1h0M1177.1 1284.2h0M1738.1 1334.7h0M1634.6 1203.7h0M1761.7 1277.7h0M1808 1247.7h0M1409 1305.7h0M1701.3 1191.4h0M1337.2 1337.9h0M1563 1265.1h0M1348 1165.4h0M1809 1173h0M1440.2 1280.4h0M1331 1430.2h0M1126.1 1214.5h0M1882.3 1179.6h0M1818.1 1145.8h0M1151.6 1459.8h0M1189.3 1251.7h0M1450.5 1292.2h0M1117.1 1335.7h0M1226.8 1249.8h0M1881.9 1253.1h0M1437.1 1426.1h0M1301.3 1361.7h0M1710.5 1251.2h0M1336 1348.2h0M1207.2 1294.7h0M1415.6 1544.4h0M1830.9 1325.9h0M1402.5 1270.6h0M1509.5 1263.2h0M1308.4 1442h0M2075.9 1116h0M1740.2 1195.6h0M1281.8 1454.2h0M1659.9 1325.4h0M1448.4 1073h0M1539.2 1214.8h0M1461.8 1295.1h0M1773.6 1223.8h0M1503.7 1284h0M1526.7 1348h0M1160.5 1302h0M1654.4 1147.9h0M1450.5 1354.3h0M1493.7 1083.3h0M1398.5 1280h0M1676.8 1295.8h0M1605.4 1145.2h0M1611.2 1242.2h0M1658.3 1167.7h0M1432.9 1356.8h0M1412 1278.7h0M1555.5 1271.6h0M1319.4 1498.7h0M1805.1 1121.7h0M1002.9 1239.5h0M1559.4 1264.4h0M1399 1243.2h0M1277.3 1407.8h0M1716.8 1447h0M1504.7 1168.6h0M1231.9 1287.5h0M1512.7 1277.6h0M1949.2 1251.2h0M1533.5 1284.7h0M1559.9 1239.6h0M1090.8 1312.8h0M1378.3 1195.7h0M1518.3 1282.3h0M1101.1 1329.6h0M1520.7 1326.3h0M1827 1447.7h0M1279.2 1315.5h0M1413.5 1274.9h0M1924.6 1330.2h0M1188.2 1397.4h0M1109.5 1414.4h0M1715.9 1378.5h0M1200.7 1298.5h0M1253.5 1202.8h0M1537.6 1409.5h0M1881.7 1258.9h0M1918 1333.2h0M1276.7 1386.4h0M1752.3 1264.3h0M1433.8 1364h0M1375.7 1295h0M1951.6 1185.6h0M1405.3 1478.3h0M1667 1353.4h0M1763.2 1167.1h0M1497.8 1317.3h0M1592.9 1261.1h0M1265.1 1301.9h0M1729.5 1239h0M1587.5 1318.1h0M1224.3 1330.2h0M1962 1230.4h0M1437.6 1063.1h0M1508.5 1211.1h0M1566.8 1223.9h0M1046.2 1439.7h0M1371.9 1253.9h0M1060.5 1493.5h0M1292.2 1252.7h0M1924.5 1095.3h0M1287.9 1294.7h0M1616.1 1356.1h0M1410.4 1204.4h0M1850.8 1309.4h0M2118.8 1212.7h0M1485.1 1250.6h0M1656.9 1305h0M1173.6 1430.8h0M1041.6 1413.6h0M1466.4 1227.4h0M1155.1 1219.6h0M1702.1 1219.9h0M1440 1231.8h0M1365.2 1388.1h0M1397.2 1146.6h0M1597 1293.5h0M1528.6 1208.9h0M1900.8 1296h0M1807.9 1316.1h0M1858 1299.8h0M1759.5 1348h0M1863.7 1120.5h0M1588.2 1335.9h0M1381.4 1193.4h0M1413.4 1269.3h0M1612.2 1404.5h0M1549.4 1239.6h0M1872.9 1131.7h0M1334.1 1319.9h0M1536.9 1296.6h0M1283.4 1288.5h0M1750.7 1179h0M1727.7 1274.5h0M1690.3 1364.6h0M1126.8 1389.4h0M1328.5 1386.9h0M1693 1295.9h0M1350.6 1349.5h0M1093.4 1359h0M1331.9 1337.9h0M1523.8 1286.3h0M1242.2 1085h0M1554.9 1404.2h0M1124.2 1395.7h0M1600.4 1388.1h0M1422.1 1380.2h0M1810.6 1319.8h0M1419.2 1122.3h0M1127.9 1460.6h0M1617.6 1236.9h0M1707.4 1202.7h0M1385.3 1265.9h0M1814.4 1209.9h0M1551.8 1148.5h0M1645 1125.8h0M1539.3 1291.8h0M1472.7 1130.6h0M1624.1 1232.9h0M1250.3 1269.4h0M1313.2 1285.1h0M1888.4 1149.8h0M1235.2 1393.2h0M1361.9 1218.3h0M1887.1 1275.1h0M1175.3 1293h0M1214.9 1428.8h0M1885.3 1282h0M1478.2 1212.9h0M1514.6 1281.2h0M980.4 1364.9h0M1367.9 1305.9h0M1673.4 1161.5h0M1458.7 1226.4h0M1422.9 1305.1h0M1713 1338.8h0M1535.2 1308.1h0M1498.9 1362.6h0M1547.8 1293.2h0M1550.7 1381.5h0M1960 1234.3h0M1658.2 1244.5h0M1737.1 1302.3h0M1370.8 1282.3h0M1533.3 1305.1h0M1597.7 1107h0M1886.1 1296.3h0M1220.6 1412.3h0M1194.8 1312.2h0M1487.1 1189.2h0M1316.7 1304.5h0M1150.4 1362.3h0M1056.8 1331.4h0M2015.9 1156.7h0M1301.4 1088.1h0M1347 1382.7h0M1162.2 1329.4h0M1250.9 1202.5h0M1534.6 1342h0M1319.5 1355.5h0M1600.3 1254.4h0M1432.4 1365.6h0M1393.5 1254.6h0M1505.8 1341.1h0M2057.3 1208.3h0M1252.5 1294h0M1439.8 1352.1h0M1973.3 1313h0M1480.7 1151.4h0M1796.5 1157.8h0M1248.1 1253.4h0M745 1414.7h0M1620 1355.7h0M1554.6 1230h0M1507.3 1350.2h0M1568.8 1336.2h0M1715.4 1155.4h0M1415 1347.7h0M1385.3 1323.7h0M1412.7 1198h0M1599.9 1312.2h0M1507.5 1309.7h0M1323.1 1407.2h0M1295.3 1280.5h0M1863.9 1326.7h0M1428.6 1337h0M1326.1 1234.1h0M1515.1 1238.7h0M934.1 1383.6h0M1425.9 1334.2h0M1256.4 1240.2h0M1404.5 1218.3h0M1706.7 1110h0M1177.7 1400.3h0M1446.7 1210.2h0M2108.3 1279.3h0M1426.7 1291.8h0M1361.2 1363.2h0M1298.2 1340.4h0M1349.8 1397.8h0M1431.6 1378.1h0M1418.4 1205.1h0M1073.2 1463h0M1277.4 1240h0M1592.3 1404.1h0M1957.8 1413.8h0M1595.6 1292.7h0M1520.2 1389.4h0M1637.7 1320h0M2013.7 1134.8h0M1685.8 1300.1h0M1091.9 1248.4h0M1632.4 1213h0M1279.1 1238.4h0M1877 1281.8h0M1255.4 1384.2h0M1731.7 1289.4h0M1328.2 1320.1h0M1371.3 1401.9h0M1382.6 1195.9h0M1361 1188h0M1476 1280.4h0M907 1353.9h0M1603.2 1452.4h0M1354 1401.5h0M1330.7 1328.8h0M1363 1357.7h0M1497.7 1277.3h0M1685.4 1174.9h0M1598 1230.9h0M1389.7 1307.1h0M1864.2 1083.4h0M1893 1246.9h0M1325.1 1197.8h0M2225.4 1296.2h0M1317.7 1345.2h0M1154.4 1458.4h0M1727.6 1252.7h0M1452.4 1380h0M1164.7 1346.4h0M1544.9 1348.9h0M1272.4 1404.4h0M1735 1374.4h0M1372.3 1304.5h0M1653.5 1386h0M1442.4 1230.3h0M1126 1413.6h0M1481.3 1231.8h0M2034.6 1236.7h0M1860.4 1194.8h0M1393 1271.1h0M1773.9 1166.4h0M1384 1349.3h0M1569.2 1303.3h0M1382.8 1175.5h0M1464.6 1249.4h0M1506.8 1251.8h0M1303.6 1249.4h0M1303.3 1328.9h0M1212.4 1431.9h0M1714.3 1392.6h0M1380.8 1369h0M1587.1 1348.2h0M1528.7 1262.8h0M1712 1187.7h0M1607 1370.1h0M1250.6 1198.8h0M2062.2 1254.2h0M1288.4 1298.4h0M1889.9 1135.6h0M1154.9 1231.6h0M1255 1303.4h0M1680.6 1186.4h0M1135.2 1484.6h0M1400.1 1280.6h0M1346.5 1342.9h0M2090.1 1305.6h0M1344.2 1281h0M1622.6 1321.1h0M1663.8 1133.5h0M1559.9 1236.3h0M1126.6 1384.6h0M1118.7 1291.5h0M1385 1379.9h0M1471.9 1269.7h0M1718.1 1158.4h0M1652.9 1248.9h0M1700.5 1225.1h0M1061.4 1477.6h0M1242.2 1505.7h0M1461.9 1192.9h0M1496 1317.4h0M1616.7 1333.3h0M1325.5 1319.2h0M1915.4 1288.7h0M1676.1 1217.6h0M1541.1 1252.7h0M1462.8 1137.6h0M1262.6 1319.4h0M1362.2 1309.8h0M1660.8 1218.3h0M1449.4 1345.1h0M1277.4 1439.6h0M956 1238.2h0M1489.6 1359h0M1657.6 1200.6h0M1086.7 1302.2h0M1242.8 1357.9h0M1389.6 1361.8h0M1618.5 1147.2h0M1825 1219.5h0M1019.9 1335.1h0M1370.4 1303.9h0M1853 1272.6h0M1609.8 1103.8h0M1284.6 1451.3h0M1182.5 1362.3h0M1834.8 1184.1h0M1336.1 1369.3h0M1500.3 1289.6h0M1643.5 1231.1h0M1662.7 1280.6h0M1612.3 1376.4h0M1521.3 1221.6h0M1235.9 1263.4h0M1631.1 1266.1h0M1848.2 1113.3h0M1249.9 1334.5h0M1608.8 1325.6h0M1826.8 1274.6h0M1653.1 1286.1h0M1459.2 1199.9h0M1922.8 1077.2h0M1611.5 1359.4h0M1362.3 1203.9h0M1675.8 1351h0M1393.1 1342.3h0M1757 1291.3h0M1362.7 1210.9h0M1716.1 1366.2h0M1618.8 1276.5h0M2013 1241.6h0M1266.6 1204.2h0M1650.6 1310.1h0M1605.8 1219.1h0M1640.7 1157.1h0M1352.3 1530.9h0M1397.5 1397.4h0M1171.2 1432.1h0M1452.9 1242.9h0M1565.6 1314.7h0M1556.2 1322.8h0M1315.6 1336.8h0M1571.6 1273.3h0M1662.9 1326.2h0M1662.6 1183.3h0M1527.8 1300h0M1723 1446.9h0M1353.8 1332.2h0M1665.4 1352.6h0M1369.7 1325.4h0M1863.9 1190.8h0M1868.8 1169.9h0M1403.4 1337.9h0M1381.1 1344.3h0M1434.3 1229.2h0M1475.5 1418.5h0M1506.3 1380.6h0M1544.8 1192.1h0M1478.2 1296.7h0M2227.2 1164.2h0M1558.3 1302.3h0M1644.9 1126.6h0M1618.8 1113.4h0M1488.5 1276.6h0M1636.2 1195h0M1811.9 1045.4h0M1177.2 1497.9h0M1421.4 1138.9h0M1589.9 1180.6h0M1946.4 1351.7h0M1464.4 1465.3h0M1062 1484.2h0M1457.5 1523.9h0M1925.3 1178.1h0M1268.4 1238.5h0M1861.1 1280.7h0M1802.1 1274.5h0M1800.2 1321h0M1266.8 1258.6h0M1551.3 1248.2h0M1488.1 1381.6h0M1450.3 1314.5h0M1819.4 1331.6h0M1421 1249h0M1756 1366.2h0M1812 1222.3h0M1393.4 1288h0M1887.1 1036.6h0M1878.7 1249.3h0M1685.7 1179.1h0M1769.7 1139.2h0M1628.1 1325.8h0M2150.1 1153.8h0M1587 1210.9h0M1558.6 1521.2h0M1487.1 1287.1h0M1473.1 1268.1h0M1252.7 1312.6h0M1787.8 1303.3h0M1272.9 1326.4h0M1301 1407.2h0M1612.3 1489h0M1670.4 1323.1h0M1923.7 1276.4h0M1752.1 1263.6h0M1882.2 1272.2h0M1350.1 1405.7h0M1286.6 1390.2h0M1548.1 1339.8h0M1181.5 1241.2h0M1676.1 1097.4h0M1352.2 1298.9h0M1610.5 1216.4h0M1602.8 1291.5h0M1800.7 1221.1h0M1156.1 1163.4h0M1482.4 1246.4h0M1494.5 1236.5h0M1733.1 1322.8h0M1515.9 1383.3h0M1911.4 1117.1h0M1761.3 1262.2h0M1599 1257.5h0M1482.5 1306.2h0M1599.5 1402.7h0M1640.9 1288.2h0M1510.8 1370.6h0M1520.2 1245.1h0M1785.3 1272.6h0M1350.9 1371.2h0M1516.7 1204h0M1874.3 1200.6h0M1190.7 1225.1h0M1434.7 1371.8h0M1149.1 1293h0M1381.9 1234.2h0M1914.3 1232.6h0M1478.7 1356.2h0M1524.3 1342.5h0M1608.5 1375.3h0M1503.9 1268.7h0M1436.7 1310.4h0M1380.2 1289.6h0M1344.7 1201.8h0M1813.3 1267.5h0M1633.3 1337.8h0M1647.9 1329.4h0M1639.2 1174h0M1719.6 1218h0M1858.5 1431.3h0M1799.3 1307.6h0M1706.6 1175.6h0M1564.9 1363.1h0M1471 1289.3h0M1369 1301.4h0M990.2 1246.7h0M1756.7 1176.3h0M1509 1358.8h0M1251.4 1380.9h0M1482.9 1374.9h0M1512.1 1372.4h0M2029.7 1144h0M1416.7 1290.2h0M1965.2 1253.2h0M1808 1303.8h0M1236.5 1305.6h0M1525.3 1314.9h0M1553.8 1265.9h0M1701.1 1254.6h0M1809 1232.4h0M1644.2 1296.6h0M1463.2 1283.4h0M1104.8 1381.8h0M1601.5 1331.1h0M1630.5 1456.9h0M1811.8 1351.3h0M1299.4 1397.1h0M1726.3 1156.6h0M1611.8 1289h0M1335 1387.4h0M1427.1 1367h0M1682.9 1394.1h0M1408.2 1408.1h0M1511.9 1209.5h0M1715.3 1251h0M1221.8 1327.9h0M1565.6 1170.7h0M1371.4 1144.7h0M1316.2 1212.2h0M1568.6 1352.5h0M1420.7 1285.6h0M1486.9 1314.9h0M1450.8 1471.8h0M1346.6 1310.2h0M1496 1331h0M1300.8 1286.6h0M1034.1 1454h0M1068.7 1301.2h0M1424.8 1223.2h0M1626.4 1286.6h0M1717 1396h0M1317.1 1309.9h0M1287.9 1412.8h0M1481.3 1346.9h0M1606.2 1259.7h0M1440.8 1288.3h0M1280.2 1331.4h0M1352.4 1082.4h0M1449.3 1203.2h0M1188.7 1432h0M1323.2 1230.1h0M1253 1290.9h0M1661.3 1307.1h0M1240.5 1292.6h0M1220.4 1335.6h0M1644.3 1203h0M1346 1264.6h0M1425.2 1263.4h0M1447.6 1261.1h0M1301.2 1374h0M1759.8 1302.6h0M1491.4 1373.2h0M1487 1278.1h0M1329.8 1265.1h0M1630.8 1236.9h0M1486.3 1330.2h0M1572.5 1416.8h0M1068.7 1426.8h0M1467.9 1322.2h0M1424.4 1413.8h0M1526.4 1290.8h0M1681 1164.1h0M1369.7 1265.6h0M1682.2 1214.3h0M1487.1 1297.1h0M1625.1 1413.6h0M1185.5 1394.7h0M1533.7 1164.5h0M1716.4 1259.6h0M1999.5 1324.5h0M2157.7 1210.9h0M1446.9 1251.3h0M1771.8 1180.4h0M1348 1301.6h0M1217.4 1424.2h0M970.8 1439.6h0M1768 1252.7h0M1810.4 1366.8h0M1773.1 1160.9h0M1375.7 1294.8h0M1759.8 1253.9h0M1739.6 1280.5h0M1549.1 1370h0M1839.4 1317.3h0M1933.3 1366h0M1568.6 1306.9h0M1412.9 1353.6h0M1296.4 1323.9h0M1925.7 1160.1h0M1481.5 1342.2h0M1819.5 1173.9h0M1525.4 1363.9h0M1168.6 1244.4h0M1089 1390.5h0M1617 1223.9h0M1790.1 1132.1h0M1558.1 1050.5h0M1542.9 1282.9h0M1340.6 1412.8h0M1537 1245.7h0M1403 1426.3h0M1419.7 1267.9h0M1348 1418.4h0M1687.5 1196.2h0M1539.6 1256.2h0M1590.8 1086.3h0M1387.4 1188.6h0M1663.3 1236h0M1309.5 1197.6h0M804.2 1307.2h0M1893.1 1173.8h0M1376.8 1410.7h0M1986.1 1120.2h0M1446.9 1415.1h0M1405.7 1192.7h0M1407.6 1169.2h0M1419.3 1396.5h0M1729.2 1374.3h0M1552.2 1242.2h0M1821.6 1067.5h0M1462.5 1328h0M1750 1330.9h0M1272.6 1309.3h0M1391.4 1345.1h0M1504.1 1391.1h0M1579.8 1356.8h0M1826.8 1282.1h0M1322.3 1276.7h0M1134.8 1430.6h0M1812.9 1299h0M1587.6 1240.5h0M1401.5 1500.4h0M1732.4 1399.7h0M1534.6 1186.2h0M1675 1306.5h0M1333.1 1169.6h0M1963.8 1099.6h0M1349.8 1439.7h0M1611 1410.5h0M1084.1 1391.1h0M1456.1 1345.7h0M1206.4 1263.7h0M1595.5 1274.3h0M1635.1 1156.6h0M1619.5 1361.5h0M1522.5 1352.7h0M1604.5 1261.7h0M1813 1394.3h0M1318.7 1250.6h0M1353.7 1137.4h0M1379.5 1320.1h0M1313.1 1248.1h0M1933.1 1309.6h0M1770.9 1217.5h0M1876.7 1259.1h0M1352.7 1354h0M2056.2 1317.6h0M1490.8 1124.8h0M1780.7 1229.5h0M1548.1 1205.9h0M1164.4 1280.4h0M1703.3 1287.4h0M1727 1283.4h0M1377.8 1249.2h0M1701.2 1253.8h0M1473.4 1215.2h0M1230 1388.4h0M1829.6 1243.8h0M1814.1 1333.8h0M1466.2 1317.3h0M1584.1 1378.1h0M1256 1234.9h0M1687.4 1198.1h0M1296.8 1319.2h0M1241.7 1318.1h0M1672.8 1332.9h0M1950.2 1269.8h0M2001.9 1236.5h0M1484.8 1262.6h0M1336.2 1272.6h0M1267.9 1353.5h0M1763.8 1291.8h0M1242.7 1349.1h0M1276.4 1357.1h0M1581.9 1331h0M1468.9 1169.7h0M1604.2 1299.3h0M1095.4 1374.4h0M1292 1369.7h0M1386.5 1317.8h0M1377.4 1310.6h0M1479.7 1291.9h0M1564.1 1291.4h0M1552.6 1272.6h0M1527.7 1246.3h0M1943 1299h0M1583 1446h0M1478.9 1409.4h0M1475.2 1289.1h0M1582.8 1291.7h0M1335.4 1303.3h0M2243.6 1158.5h0M1334.8 1247h0M1228.7 1400h0M1290.9 1245.8h0M1582.2 1264.1h0M1712.8 1338.4h0M1627.8 1339.4h0M1452.6 1377.7h0M1744.8 1093.1h0M1432.2 1188h0M1684.2 1008.2h0M1583.2 1295.1h0M1531.2 1365.4h0M1654.3 1347.8h0M1327.7 1427.9h0M1580.8 1358.9h0M1749.2 1212.3h0M1294.6 1228.1h0M1383.8 1413.8h0M1479.1 1234.4h0M1460.3 1349.8h0M1765.3 1125.7h0M1754.9 1226.7h0M1434.6 1273.3h0M1482.9 1249h0M1711.6 1153.2h0M1898.1 1263.1h0M1365.5 1279.9h0M1662.5 1239h0M1391 1344.8h0M1519.7 1330.7h0M1313.6 1366.4h0M1317.1 1491.5h0M2102.8 1241.5h0M1237.1 1482.2h0M1476.5 1221.1h0M1440.6 1486.6h0M1513.8 1248.8h0M1133.4 1338.7h0M1505.9 1086.5h0M1650 1274.6h0M1279.2 1408.1h0M987.4 1300h0M1203.5 1341.5h0M1674.1 1241.3h0M1406.8 1296.9h0M1520 1336.9h0M1722.3 1272.3h0M1630 1284h0M1460 1259.2h0M1607.7 1255h0M1105.4 1276.4h0M1109.5 1281.1h0M1677.3 1320.1h0M1821.9 1291h0M1612 1298.1h0M1312.1 1384.8h0M1474.6 1224.6h0M1212.9 1216.6h0M1450.7 1212.3h0M1381.4 1208.4h0M1823 1235.5h0M1371 1228.7h0M1565.9 1302.8h0M1499.4 1347.7h0M1346.2 1518.4h0M1752.7 1461.8h0M1594.4 1201.9h0M1455.8 1355.3h0M1674.1 1254.9h0M1242.2 1370.1h0M1681.5 1401.7h0M1775.3 1244.7h0M1044.2 1435.7h0M1853.8 1192.2h0M1499.9 1309.9h0M1627.2 1391h0M1673.2 1241.3h0M1501 1263.2h0M1628.5 1160.8h0M1767.1 1236h0M2156.6 1149.2h0M1263 1189.9h0M1421.9 1286h0M1743.9 1332.6h0M2046 1211.5h0M1925.6 1307.2h0M1790.8 1229.6h0M1178 1253.8h0M1829.1 1276.1h0M1382.7 1275.5h0M1013.7 1456.7h0M1535.2 1211.9h0M1393.7 1366.2h0M1297.8 1168.3h0M1774.9 1188.8h0M958.5 1389.5h0M1660.9 1379.7h0M1551.3 1156.8h0M1570.3 1225h0M1503.7 1178.7h0M1509.4 1408.8h0M1365.4 1319.4h0M1632.2 1225h0M1191.7 1221.8h0M1264.9 1342.9h0M1852.6 1297.9h0M1401.8 1271.2h0M1525.7 1304.5h0M1375.1 1419.4h0M1363.8 1259.8h0M1332 1293.4h0M1365.2 1369.3h0M1033.1 1368.9h0M1843.8 1331.7h0M1644.5 1276h0M1443.1 1287.6h0M1301.6 1229.5h0M1541 1194.7h0M1989.2 1339.1h0M1415.8 1228.9h0M1599.9 1288h0M1188.8 1388h0M1569.9 1203.6h0M1385.4 1352h0M1530 1272.9h0M1781.8 1239.1h0M1667.6 1331.5h0M1270.6 1387.8h0M1099.2 1421.7h0M1352.6 1436.1h0M1630.7 1208.4h0M1339.5 1195.7h0M1994.9 1210.3h0M1440.7 1292.2h0M1571.1 1284.2h0M1851.8 1261.7h0M1370 1403.8h0M1289.7 1257.8h0M1381.1 1362.6h0M1347.6 1420.3h0M1796.4 1368.6h0M1052 1385.2h0M1529.5 1315.7h0M1677.6 1208.4h0M1149.2 1283.8h0M1908.3 1210.5h0M1457.2 1341.8h0M1584.6 1201.4h0M2003.4 1158.4h0M1720.7 1289.3h0M1413.1 1278.9h0M1467.6 1388.2h0M1853.4 1252.7h0M1509.2 1216.3h0M1580.9 1248.1h0M1389.3 1184.4h0M1486.2 1351.7h0M1438.9 1319h0M1461.4 1436.5h0M1875.2 1232.7h0M1494.4 1345.1h0M1447.8 1270.8h0M1698.6 1190.2h0M1692.2 1302.6h0M1608.1 1338.7h0M1982 1269.7h0M1442.8 1292.7h0M1262.6 1322.3h0M1206 1309h0M1092.8 1413.6h0M1572.1 1277.4h0M1614 1285.5h0M1330.5 1283.1h0M1254.7 1243.1h0M1866 1245.1h0M1505.5 1298.5h0M1335.7 1307.3h0M1205.7 1445.8h0M1603 1164.1h0M1509.6 1492.9h0M1437.4 1328.5h0M1386.4 1263.2h0M1478.4 1242.9h0M1343.8 1399.7h0M1280.8 1315.3h0M1722 1249.5h0M1599.3 1168.8h0M1674.1 1254.4h0M1297.8 1283.9h0M1904.7 1261.9h0M1409.4 1209.8h0M1130.1 1302h0M1687.2 1278.3h0M1374.6 1340.2h0M1560.3 1277h0M1699.4 1323.8h0M1854.3 1220.9h0M1253.1 1266.2h0M1611.4 1219.2h0M1364.9 1331.3h0M1311.2 1280.4h0M1697.5 1307.7h0M868.3 1479.3h0M1623.1 1246.5h0M1535.3 1376.7h0M1860.2 1333.3h0M1731.1 1442.7h0M1572.1 1129.3h0M1958.1 1222.4h0M1670.9 1345.7h0M2030 1450.2h0M1046.4 1208.6h0M1668.8 1276.4h0M1137.9 1092.9h0M1464.8 1359h0M1434.7 1468.9h0M1237.9 1317.1h0M1411.9 1363.6h0M1592.1 1328.9h0M1535.2 1367.3h0M1502.7 1406.2h0M1636.5 1280.5h0M1448.7 1227.5h0M1164 1523.3h0M1471.6 1328.5h0M2006.7 1274.3h0M1262.9 1256.3h0M1932.9 1302.6h0M1944.2 1136.5h0M1321.9 1450.4h0M1471.7 1123.6h0M1725.8 1204h0M1202.3 1345.8h0M1647.2 1212.7h0M1053.4 1324.1h0M1699.8 1232.9h0M1607.9 1324.9h0M1143.1 1278.6h0M1397.6 1395h0M1056.5 1397.8h0M1492.6 1254h0M1282.8 1369.8h0M1459.4 1249.3h0M1295.5 1274.3h0M1420.8 1182.9h0M1621 1371.9h0M1628 1160.4h0M1475.8 1255.1h0M1542.4 1492.5h0M1709.7 1280.6h0M1266.5 1347.8h0M1386.5 1228.7h0M1581.5 1209.9h0M1613.3 1258.5h0M1880 1330.1h0M1303.1 1297.8h0M1375.4 1446.2h0M1523.1 1380.3h0M1588.2 1281.4h0M1295.3 1294.6h0M1441.5 1290.9h0M2107.2 1132.2h0M1861.2 1193.4h0M1450.2 1273h0M1482.8 1401.7h0M1370.2 1405.4h0M1434.3 1300.5h0M1636.9 1274.7h0M1244.8 1289.5h0M1315.3 1261h0M1734.8 1183.4h0M1406.4 1358.7h0M1963.9 1126.7h0M1550.1 1214h0M2046.9 1006h0M1589 1263.1h0M1637.9 1243.5h0M1084 1398h0M1546.5 1363.9h0M1593.8 1301.3h0M1518.2 1462.1h0M1410.1 1201.4h0M1930.7 1130.8h0M1273 1349.8h0M1910.9 1197.6h0M1879.8 1195.8h0M1247.4 1388.2h0M1243.3 1279.8h0M1607 1203h0M1581.4 1233.3h0M1778 1289.9h0M1748 1243.8h0M1120.6 1341.4h0M1416.6 1232h0M1388.9 1336.5h0M1659.4 1195.2h0M1665.7 1344.2h0M1478 1227.9h0M1305.5 1290.9h0M1442.2 1232.2h0M1780.6 1302.6h0M2069.6 1152.3h0M1516.7 1235.4h0M1118.2 1407.9h0M1567.6 1310.4h0M1150.1 1156.5h0M1588.8 1275.4h0M1156.2 1331.9h0M1567 1332.1h0M1431.8 1251.6h0M1536.4 1364.5h0M873.1 1285.8h0M1620.6 1309.8h0M1063.9 1320h0M1162.6 1310h0M1450.2 1452.5h0M1314.6 1406.7h0M1320.9 1304.2h0M1810.4 1248.6h0M1616.4 1348h0M1681.9 1322.9h0M1221.3 1418.5h0M1554.8 1282.1h0M1355.8 1454.2h0M1203.7 1357.8h0M1616.6 1374.1h0M1574.5 1299.7h0M1596.9 1136.3h0M1524 1297.1h0M1626.9 1369.6h0M1355.3 1098h0M1575.4 1348.1h0M1467.1 1302.8h0M1788.7 1278.8h0M1401.3 1276.5h0M1461.4 1472.3h0M1256 1370.7h0M1191.8 1377.5h0M1236.4 1349.3h0M1551.3 1189.2h0M1557.3 1259.7h0M1794.2 1267.3h0M1447.9 1496.2h0M1318 1359.1h0M1383.7 1374.7h0M1670.4 1310.7h0M1562.1 1428.9h0M1601 1183.4h0M1689.4 1350.1h0M1857.4 1126.6h0M1594.9 1364.8h0M1362.8 1378.9h0M1665.5 1263.3h0M1469 1305.9h0M1549.1 1137.1h0M1386.8 1220.8h0M1016.9 1471.4h0M1493.1 1283.4h0M1744 1093.8h0M1043.2 1373.6h0M1832.9 1431.9h0M1563.6 1228.2h0M1979.8 1281h0M1642.3 1181.1h0M1647.8 1355.3h0M1370.8 1281.4h0M955 1306.6h0M1435.8 1285.3h0M1846.7 1348.3h0M1282.2 1307.7h0M1373.6 1311.7h0M1365.4 1312.2h0M1960.6 1302.7h0M1746.8 1307.4h0M1915.5 1409.1h0M1645.9 1186.7h0M1215.6 1417.4h0M1940.6 1279.1h0M1809.6 1234.8h0M1450.7 1168.5h0M1033.3 1334.1h0M1612 1302.6h0M1697.1 1214.6h0M1720.1 1354.4h0M1270 1515.3h0M1490 1243.6h0M1700 1339.7h0M1199.8 1212.9h0M1522.8 1383.3h0M1559.4 1349.8h0M2034.7 1285.9h0M1356.9 1284h0M1451.2 1526.2h0M1633.1 1214.3h0M1409.4 1267h0M1649.6 1338.7h0M1568.7 1221.4h0M1946.6 1262.8h0M1664.7 1272h0M1493.8 1267.6h0M1323.3 1281.7h0M1074.6 1363.5h0M1247.3 1381.7h0M1795 1149.7h0M1520 1443.2h0M1112.3 1317.5h0M1182.7 1368.4h0M1314.8 1342.3h0M1732 1273.7h0M1232.1 1266.1h0M1397.5 1322.7h0M1286.9 1315.5h0M1443 1286.8h0M1769.8 1231.2h0M1819.5 1216h0M1503.2 1362.6h0M1581.8 1445.8h0M1639.6 1349.3h0M1730.1 1172.4h0M1341.7 1196.3h0M1594.5 1400.4h0M1640.4 1169h0M1907.7 1177.5h0M1097.9 1425.6h0M1127.7 1390.1h0M1483.8 1296.3h0M1560 1381.7h0M1437.5 1274.7h0M1581.8 1365.2h0M1633.3 1291.1h0M868.9 1451.1h0M1615.2 1319.1h0M1998.2 1236h0M1821.8 1410.7h0M1036.5 1239.5h0M1280.2 1336.6h0M1345.5 1273.5h0M1974 1215.7h0M1336.4 1308h0M1367.9 1132.8h0M1513.6 1324h0M1936.1 1361.7h0M1730.1 1244.3h0M1472.4 1364.4h0M1784.9 1330.3h0M1404.1 1290.1h0M1314 1328.2h0M1767.3 1315h0M1161.4 1430.3h0M1417.1 1317.2h0M1414.4 1256.5h0M1043.5 1438.4h0M1813 1326.5h0M1875.3 1227.4h0M1896.8 1091.3h0M1926.8 1228.3h0M1626.3 1245.3h0M1365.6 1508.1h0M1695.4 1329.8h0M1613.7 1252.2h0M1144.3 1375h0M1659 1237.6h0M1616 1389.2h0M1343.2 1114.4h0M1884.4 1196.8h0M1630.3 1213.8h0M1444.9 1223.3h0M1473.1 1223.4h0M1465.7 1196.8h0M1626.9 1198.3h0M1727.9 1171.8h0M1542.1 1395.5h0M1591.1 1210.9h0M1638.5 1201.5h0M1410.5 1175.5h0M1698.3 1182.6h0M1467.4 1369.9h0M1775.1 1229.2h0M1460 1303.5h0M1204.3 1352.3h0M1749.7 1296.1h0M1656.3 1167.8h0M1567.3 1232.3h0M1368.5 1312h0M1450.2 1267.8h0M1783.1 1274.5h0M1199.5 1266.4h0M1518.9 1342.7h0M1756.5 1241.6h0M1602.5 1288h0M1552.2 1199.7h0M1396.8 1214.5h0M1756.9 1088.4h0M1677.7 1232.1h0M1585.5 1189.6h0M1517.2 1245.7h0M1834.6 1222.7h0M1307 1473.4h0M1493.6 1171.4h0M1652 1252.6h0M1250.4 1420.9h0M1591.2 1338.1h0M1979.9 1276.8h0M1319.5 1370.9h0M1255.5 1281.1h0M1377.1 1309.9h0M1333 1352.1h0M1808.5 1275.6h0M1337.9 1380.6h0M1622.1 1408.7h0M1399.6 1259.2h0M1664.2 1432.9h0M1692.2 1310.7h0M1499.8 1170.4h0M1347.9 1317.9h0M1352 1405.6h0M1173.2 1346.3h0M1361.4 1321.3h0M1331.5 1243.1h0M955.3 1286.9h0M1517.6 1241.1h0M1416.6 1378.9h0M1915.9 1356.3h0M1757.8 1195.6h0M1620.4 1221.6h0M1611.2 1279.2h0M1225.2 1358.7h0M1691.5 1222.8h0M1714 1102.9h0M1420 1419.1h0M1286.9 1252.3h0M1534.2 1406.9h0M1393.4 1343.8h0M1312.1 1307h0M1443.7 1457.9h0M1517.6 1256.3h0M1408.9 1355.8h0M1749.9 1249.2h0M1334 1307h0M1351 1216.2h0M1302.6 1303.7h0M1291.4 1348.6h0M1464.4 1204.5h0M1782.8 1249.9h0M976.2 1343.1h0M1314.6 1228.5h0M1488.4 1316.5h0M2083.3 1262.6h0M1367.6 1377.3h0M1172.4 1340.3h0M1311.4 1262.4h0M1493.3 1308.3h0M1736.2 1204.8h0M1633.6 1183.4h0M1514.3 1192.1h0M1549.3 1145h0M1492.7 1192.2h0M1101.5 1225.1h0M1738.6 1138.1h0M1394.2 1285.7h0M1701.2 1191.5h0M1429.4 1230.8h0M1409.6 1310.2h0M1407.9 1307.8h0M1335.8 1297.2h0M1596.4 1143.4h0M1417.6 1378.5h0M1808 1311.4h0M1832.3 1338.1h0M1373.2 1346.3h0M1533 1258.9h0M1161.5 1345h0M1676.6 1366h0M1670.8 1257.5h0M1404.3 1368.8h0M1683 1177.8h0M1196.7 1352h0M1278.4 1238h0M1619.4 1284.9h0M1394.1 1377.5h0M1574.4 1258.9h0M1286.2 1435.1h0M1641.8 1236.6h0M1721.6 1286.8h0M1822.6 1224.5h0M1242.5 1474.1h0M1654.1 1323.1h0M1817.6 1376.9h0M1135.4 1227.7h0M1303.3 1279.4h0M1877.4 1305.1h0M1021.4 1274.4h0M1566.5 1342.7h0M1611.1 1457.3h0M1398.2 1330.9h0M1346.3 1476.5h0M1118.7 1351.7h0M1521.9 1151.8h0M1200.6 1377.3h0M1841.9 1106.6h0M1387.3 1108.4h0M1310.4 1464.4h0M1680 1311.7h0M1480.2 1401.8h0M1422.4 1282.5h0M1373.4 1349.8h0M1951 1110.5h0M1869.5 1276.8h0M1718.1 1047.3h0M939.4 1305.6h0M1341.9 1294.8h0M1448.4 1437.9h0M1520.7 1242.1h0M1167.8 1396.6h0M1523.4 1270.1h0M1592.6 1227.4h0M1712.5 1238.4h0M1441 1289.7h0M1423.7 1398.1h0M1802 1236.1h0M1443 1313.1h0M1230.5 1380.2h0M1495.1 1254.3h0M1657.5 1264.5h0M1580.4 1203.5h0M1112.1 1343.7h0M1537.9 1382.9h0M1615.1 1316.8h0M1330.1 1462.3h0M1749.7 1453.8h0M1110.3 1221.5h0M1227.9 1341.6h0M1356 1297.6h0M1457.8 1388.3h0M1787.8 1423.9h0M1258.9 1311h0M1344.7 1295.7h0M1823.6 1249h0M1254.9 1333.8h0M1357.7 1128.6h0M1557.3 1368.1h0M1632 1248.2h0M1449.7 1226h0M2190.9 1111.4h0M1687.4 1252.8h0M1506 1371.7h0M1589.9 1404h0M2146.5 1117.8h0M1232.4 1213.8h0M1814.2 1235.8h0M1160.7 1331.8h0M1629.9 1325.5h0M1167.6 1305.8h0M1605.6 1391.2h0M1803.9 1238.2h0M1667.1 1308.4h0M1671.7 1305.1h0M1425.3 1281.9h0M1564.5 1161.9h0M1727.8 1234.3h0M1313.6 1430.5h0M1288.1 1336.6h0M1187.3 1201.2h0M1637.5 1183.1h0M1601.9 1349.8h0M1370.8 1238.3h0M936.6 1459.7h0M1533.1 1355.7h0M1936 1276.5h0M1253.3 1218.3h0M1663.8 1363.8h0M1617.2 1401.2h0M1640.3 1122.4h0M1337.1 1226.6h0M1638.7 1118.6h0M1416.2 1365.4h0M1556.7 1436.1h0M1432 1337.4h0M1427.4 1229.8h0M1753.3 1188.3h0M2080.9 1189.2h0M1537 1347.5h0M1476.6 1250.4h0M1644.6 1218.8h0M1338.6 1325.4h0M1766.5 1154.8h0M1645.1 1318.7h0M1701.6 1298.6h0M1430.9 1322.4h0M1420.4 1331.6h0M1563.9 1229.1h0M1438.1 1324.8h0M1806.7 1290.2h0M1455.6 1339.9h0M1652 1280.7h0M716.1 1407.1h0M1434.6 1321.4h0M1709.9 1155.4h0M1634.1 1253.8h0M1985.1 1216.9h0M1764.2 1343.4h0M1915 1196.2h0M1867.1 1155.7h0M1656.8 1331.5h0M1192.8 1409.4h0M1296.2 1283.8h0M986.6 1343.5h0M1539.9 1233.1h0M1537.2 1260h0M1739.3 1200.9h0M1440 1426.7h0M1523.5 1257.7h0M1902.9 1308.9h0M1548.2 1180h0M1784.7 1204.5h0M1930.7 1181.8h0M1613.5 1179.9h0M1282.4 1385.7h0M1767.4 1182.7h0M1552.8 1296.6h0M1352.4 1247.3h0M1621.3 1306.9h0M1726 1282.5h0M1498.4 1364.9h0M1956.6 1198.1h0M921.9 1280.5h0M1468.3 1391.1h0M1371.2 1226.2h0M1020.9 1363h0M1762.3 1311h0M1645.5 1294.9h0M2057.2 1213h0M1353.1 1293h0M1692.8 1200.5h0M1770.5 1286.1h0M1343 1222.7h0M1358.4 1346.2h0M1827.8 1249h0M1838.5 1202.8h0M1178 1352.4h0M1506.3 1328.3h0M1500.8 1317.3h0M1176.3 1378.8h0M1229.9 1437.6h0M1583.4 1152.9h0M1583.2 1211.7h0M1785.1 1132.4h0M1173.1 1151.9h0M1905.4 1257.5h0M1172.3 1446.4h0M1742.3 1230.8h0M1301.5 1375.5h0M1590.9 1157.2h0M1691.3 1245.5h0M1967.9 1322.3h0M1666.5 1114.6h0M1688.3 1248.2h0M1755 1203.9h0M1715.1 1269h0M1494.9 1218.7h0M1779.1 1227.1h0M1426.6 1472.4h0M1754.2 1269.5h0M1476.9 1316.1h0M1481.7 1461.9h0M1263.4 1191.4h0M1278.4 1479.2h0M1410.1 1283.9h0M1586.4 1272.2h0M1747.7 1307.3h0M1736.9 1302.6h0M1011.3 1380h0M1801.8 1335.8h0M1149.6 1295h0M1367.6 1172.6h0M1812.3 1229h0M1475 1329.5h0M1541.9 1287.5h0M1372.3 1389.6h0M1429.1 1469h0M1559.9 1144h0M1289.6 1064.4h0M1552.2 1342.1h0M1737.3 1324.2h0M1215.9 1223.4h0M1311.7 1244.4h0M1425.2 1165.8h0M1735.9 1397.2h0M1386.8 1249.5h0M1302.9 1411.8h0M1261.5 1352.3h0M1407.3 1411h0M1315 1181.8h0M1345 1215.8h0M1819.3 1142.3h0M1599.6 1191.3h0M1488.6 1349.6h0M1638.2 1355.6h0M1157.8 1273.3h0M1302.5 1271.5h0M1178.8 1200.5h0M1573.3 1290.5h0M1656.3 1195.1h0M1369.1 1277.6h0M2111.1 1234.2h0M1787.1 1278.2h0M1572.7 1246.5h0M1362.9 1318.2h0M1482.8 1317.7h0M1582.4 1387.5h0M1614.6 1122.4h0M1292.9 1307.4h0M2038.9 1313.4h0M1440.7 1314.8h0M1545.3 1254h0M1803.1 1300.4h0M1790.4 1185.8h0M1103.8 1337.7h0M1541.5 1299.4h0M1335.7 1361.1h0M1880 1249.9h0M1485.4 1158.7h0M1721 1140.4h0M1441.8 1252.7h0M1374.8 1285.7h0M1861 1188.3h0M1768 1421.9h0M1474.7 1109.9h0M1520 1468.6h0M1366.9 1357.8h0M1488.3 1339h0M1197.4 1414.9h0M1524.6 1264.7h0M1928.9 1283.1h0M2054.4 1456.2h0M1458.8 1139.7h0M1725.1 1127.6h0M1746.6 1495.4h0M1956.8 1163.6h0M1761.8 1126.9h0M1458.8 1277.5h0M1397.9 1292.9h0M922.6 1427.7h0M1555.8 1243h0M1303 1382.3h0M1209.5 1317.7h0M1440.9 1359.2h0M1436.7 1380.5h0M1722.2 1320.8h0M1513.4 1235.8h0M1717.9 1089.6h0M1570.1 1275h0M1481.2 1358.8h0M1121.5 1470h0M1696.9 1309h0M1589.4 1394h0M1681.4 1205h0M1636.3 1216.7h0M1282 1321.7h0M2212.7 1365.3h0M1159.6 1318.8h0M1735.9 1143.4h0M1413.4 1199.8h0M1770.1 1166h0M1222.1 1062.6h0M1648.1 1196.9h0M1696.4 1172.1h0M1337.9 1279.3h0M1461.1 1261.9h0M1624.3 1289.2h0M1355.4 1298.1h0M1251.5 1296.3h0M1401.6 1349.1h0M1458.7 1298h0M1469.5 1292.5h0M1461.3 1243.4h0M1531.5 1297.5h0M908.2 1405.1h0M1751.8 1280.1h0M1046.4 1343.8h0M1867.3 1247.6h0M1251 1384.3h0M1361.5 1314.7h0M1182.4 1202.9h0M1489.7 1340.8h0M1439.8 1228.1h0M1067.9 1305.6h0M1516.2 1306.6h0M1200.6 1337.8h0M1774.9 1180.7h0M1724.9 1254.7h0M1312.6 1293.3h0M2123.3 1232.3h0M1507.2 1276.4h0M1741.3 1356.4h0M1298.5 1268h0M1715.8 1190.3h0M1766.6 1285.5h0M1337 1462.2h0M1587.6 1137.8h0M1488.8 1313.1h0M2110.7 1450.3h0M1792.6 1335.6h0M1486.7 1319.6h0M1228 1481.5h0M1722.5 1263.5h0M1461.2 1356.7h0M1295.6 1289.3h0M1552.2 1210h0M1701.6 1238.3h0M1660.3 1201.6h0M1765.8 1166.9h0M1108.9 1289.2h0M1607 1084.2h0M1630.4 1367.8h0M1506.8 1076h0M1484.5 1296h0M1904.3 1168.5h0M1632.4 1187h0M1823.8 1264.2h0M1883.1 1227.1h0M1562.1 1198.7h0M1664.7 1307.6h0M1665.8 1356.1h0M1965.7 1297.3h0M1345.7 1318.4h0M1420.2 1386.4h0M1583.3 1268.8h0M1359 1534.7h0M1772.1 1243.1h0M1398.2 1234h0M1578.1 1191.2h0M1538.2 1256.2h0M1815.5 1167.6h0M1816.7 1073.6h0M1658 1272.8h0M931.1 1248.6h0M1410.5 1175.7h0M1362.3 1282.2h0M1626.8 1267.3h0M1424.1 1207.5h0M1496.4 1240.7h0M1852.1 1231.8h0M1497.3 1345h0M1255.5 1411.7h0M1362.8 1459.7h0M1619.7 1239.3h0M1657 1255.8h0M1363.5 1465.9h0M1554.6 1348.4h0M2002.4 1185.8h0M1321.2 1201.9h0M1701.9 1214.6h0M1072.6 1436.2h0M1321.1 1234h0M1373.8 1138.5h0M1267.4 1427.4h0M1750.4 1243.5h0M1327.1 1231.4h0M1989.6 1300.9h0M1274.6 1329.3h0M1252 1462.6h0M1168.1 1350.3h0M1060.7 1297.7h0M1517.4 1306h0M1103.7 1307.3h0M1878.2 1219.4h0M1177.6 1504.9h0M1474 1325.6h0M1689.6 1299.1h0M1238.6 1277.7h0M1625.6 1305.9h0M1294.7 1409.8h0M1289.1 1299.6h0M1711.2 1336.7h0M1601.9 1228.4h0M1463.8 1348.5h0M1503.8 1329.7h0M898.4 1488h0M1392.4 1370.6h0M1320.3 1336.4h0M1620.2 1394.8h0M1439.8 1314.7h0M1412.1 1179.9h0M1407.2 1157h0M1421.9 1315.3h0M1428.4 1307.8h0M1857.1 1088.9h0M1435.8 1301.5h0M1602.6 1278.6h0M1352.3 1318.1h0M1701.2 1227.4h0M1455.8 1164.4h0M868.7 1329.9h0M1576.1 1270.3h0M1606.7 1380.3h0M1486.7 1375.3h0M1335.4 1206h0M1444.1 1417.8h0M1763.3 1160.3h0M1326.7 1481.2h0M1433.9 1269h0M1587.2 1286h0M1656.8 1284h0M1594.6 1244.2h0M1683.3 1230.2h0M1551.3 1301.9h0M1142.2 1449.3h0M1531.8 1421.3h0M1339.6 1170.4h0M1745.7 1124.6h0M1291.4 1248.1h0M1715.4 1252.8h0M1578.1 1370.4h0M1867.4 1354.8h0M1073 1280.1h0M1358.6 1316.2h0M1156.1 1227.1h0M1588.1 1296.7h0M2066.1 1140.2h0M1625.3 1228h0M1770.7 1139.1h0M1433.2 1305.2h0M1633.6 1357.3h0M1350.1 1193.9h0M1896.4 1305.9h0M1746.8 1171.7h0M1256.5 1314.7h0M1403.7 1122.2h0M1158.3 1292.4h0M1464.7 1339.9h0M1189.1 1382.8h0M1845.6 1253.2h0M1525.8 1286.4h0M1326.2 1504.9h0M1675.7 1195.1h0M1502.4 1379.9h0M1281 1458.1h0M1804.6 1400.7h0M1574.3 1235.4h0M958 1464.3h0M1403.4 1295.1h0M1642.5 1191.8h0M1554.7 1258.2h0M1699.4 1254h0M1783.4 1231h0M1383.3 1248.9h0M1722.1 1298.7h0M1281.2 1288h0M1246.5 1242.6h0M1797.7 1274.9h0M1625 1273.9h0M1315 1228.2h0M1474.2 1271.6h0M1400.8 1349.2h0M1410.2 1287.8h0M1416.8 1359.8h0M1850 1205h0M1576.7 1235.7h0M1506.7 1402.7h0M1176.9 1389.4h0M1484.6 1403.6h0M1533.7 1325.7h0M1614.2 1435.2h0M1881.2 1265.5h0M1845.4 1241.6h0M1551.5 1345.2h0M1457.1 1385.7h0M1442.1 1384h0M2032 1174.9h0M1796.7 1227.7h0M1619.6 1236.2h0M1870.8 1303.5h0M1198.6 1451.3h0M1587.2 1207.2h0M1882.4 1344h0M1128.9 1389.6h0M1204.4 1257.9h0M1536.6 1365.4h0M1588.6 1374.3h0M1340.2 1295.1h0M892.2 1382h0M1541.6 1195.9h0M1168 1365.7h0M1597.6 1227.3h0M1218.1 1342.2h0M1257.9 1370.8h0M1626.7 1394.5h0M1125.9 1371.3h0M1110.6 1508.2h0M1427 1371.7h0M1917 1291.7h0M1629.5 1234.8h0M1383.1 1298.9h0M1383.8 1331.2h0M1747.1 1300.7h0M1559 1213.3h0M1693.8 1243.8h0M1550 1310.3h0M1555.3 1275.9h0M1123.2 1249.4h0M1167.4 1336.7h0M1663.5 1321.3h0M1294.9 1375.3h0M1408.5 1196.5h0M2105.6 1237.9h0M1363.3 1226.3h0M1284.5 1432.6h0M1044.2 1224.4h0M1540.5 1247.6h0M1583.7 1192h0M1562.6 1237.4h0M1377.1 1304.9h0M1544.2 1304.2h0M1395 1180.3h0M813.4 1364.2h0M1183.9 1271.8h0M1682.9 1354.6h0M1789.2 1452.8h0M1561.1 1440.9h0M1649.2 1356.6h0M1330.1 1135h0M1844.5 1184.4h0M1516.5 1311h0M1105.9 1208.2h0M1552.8 1281.3h0M1388 1263.8h0M1659.8 1274.5h0M1236.4 1253.3h0M1559.9 1194.8h0M1915.4 1271.5h0M1040.1 1257.9h0M1566.8 1380.5h0M1441.5 1318h0M1716.9 1255.7h0M1243.8 1380.2h0M1514.3 1332.8h0M1300.7 1394.5h0M1297.4 1241h0M1271.6 1267.2h0M1253.2 1238.4h0M1985.1 1195.1h0M1362.3 1261.7h0M1225.9 1272h0M1388.8 1326h0M1600 1266.8h0M1820.8 1310.5h0M1496.6 1112.5h0M1947.8 1255.2h0M1578.5 1286.8h0M1746.7 1266.4h0M1545.9 1282.7h0M1120.9 1449h0M1331.8 1208h0M1523.4 1243.6h0M1549.8 1203.3h0M1351.8 1345.1h0M1769.5 1216.8h0M1239.4 1305.1h0M1657.2 1390.8h0M1106.7 1281.8h0M1846.7 1308h0M1473.7 1311.1h0M1715.6 1304.7h0M1584.2 1290.3h0M1398.4 1240.7h0M1898.6 1244h0M1513.2 1333h0M1602.7 1289.6h0M969.1 1457.2h0M1472.8 1275h0M1684.3 1383.7h0M1691.4 1257.7h0M1301.5 1301.4h0M1756.7 1351.4h0M1594.5 1298h0M1500.5 1362h0M1784.3 1309.6h0M1717.8 1096.2h0M1356 1311.3h0M1575.3 1404.4h0M1379.8 1342.8h0M1432.3 1283.7h0M1914.2 1222.9h0M1344.4 1381.9h0M1466.4 1269.8h0M1631.1 1192.6h0M1509.9 1420.9h0M1656.2 1370h0M1269 1394.7h0M1422.2 1356.5h0M1680.9 1225h0M1878.3 1141.6h0M1103.8 1384h0M1757.1 1264.1h0M1834.8 1305.5h0M1461.8 1337.2h0M2109 1198.7h0M1370.1 1189.2h0M1270.1 1249.2h0M1504.8 1406.4h0M1421.3 1317.9h0M1544.6 1282.6h0M1385.1 1318.3h0M1549.9 1224.3h0M1444.1 1266h0M1312.8 1343.5h0M1308.5 1336.3h0M1347.1 1365.1h0M1258.4 1329.2h0M1964.9 1233.2h0M1735.6 1412.2h0M1088.9 1332.3h0M1737 1309.5h0M1305.3 1378.5h0M1478.8 1362.1h0M1769 1246.7h0M1684 1399.2h0M1579.3 1344.5h0M1437.8 1259.4h0M1745 1378.7h0M1753.7 1221.3h0M1396.3 1332.1h0M1341.4 1262.9h0M1691.3 1172.8h0M1604.5 1204.7h0M1424.7 1164.1h0M1428 1198.9h0M1674.4 1357.7h0M1154.9 1292.4h0M1561 1382h0M1870.5 1300.2h0M1639.6 1222.7h0M1901.3 1277.9h0M1452.1 1134.7h0M1373.7 1143.6h0M1719.2 1315.4h0M1497.5 1284.4h0M1761.4 1207h0M1526.3 1353.9h0M1840.4 1199.6h0M1708.9 1338.8h0M1284.1 1303h0M1538.6 1269.6h0M1253.4 1359.9h0M1532.2 1249.8h0M1725.1 1290.4h0M1150.3 1337.3h0M1585.5 1156.2h0M1210.8 1315.6h0M1938.1 1287.2h0M1060.5 1460.9h0M1461.3 1360.2h0M1745.5 1165.8h0M1974.2 1225.3h0M1699.8 1228.7h0M1111.8 1335.8h0M1320.1 1168.3h0M1275.8 1310.8h0M1157.5 1298h0M1343.3 1401.8h0M978.2 1328.3h0M967.8 1363.1h0M1274.9 1337.4h0M1476.3 1230.1h0M1526.4 1289.7h0M1415.4 1128h0M1305.9 1292.2h0M1239.6 1376.3h0M1683.9 1211.3h0M1586.5 1286.3h0M1380.7 1170.5h0M1781.7 1310.6h0M1782.4 1235.5h0M1264.5 1371.2h0M1667 1321.9h0M1321.9 1239.8h0M1801.3 1263.1h0M1349.9 1064.9h0M1372.7 1332.4h0M1668.1 1199.9h0M1871.3 1179.5h0M1209.5 1434.8h0M1769.8 1339.9h0M1619.4 1220.8h0M1505 1261.7h0M1721.2 1114.8h0M1750.1 1254.6h0M1534.9 1288h0M1191.2 1429.7h0M1836.2 1237.4h0M1460.3 1337.3h0M1898.1 1342.9h0M975.5 1356.5h0M1487.3 1278.9h0M1592.4 1251.6h0M1852.4 1195.3h0M1369.3 1254.5h0M2152.8 1258.1h0M993.3 1405.7h0M1600.3 1232.1h0M1517.8 1494h0M1920.3 1105.9h0M1613.1 1180.6h0M1506.3 1364.7h0M1088.7 1375.4h0M1406.5 1418.3h0M1291.6 1491.1h0M1466.8 1409.3h0M1436.7 1371.2h0M1317.3 1383.8h0M1526.6 1424h0M1620.6 1181.5h0M1292.7 1315.9h0M1522.6 1362.1h0M1457.2 1253.5h0M1394.4 1232.7h0M1342.6 1409h0M1018 1352.5h0M1427 1298.2h0M1583.8 1337.7h0M1113.6 1305.6h0M1526.2 1251.6h0M1226.5 1312.6h0M1515.5 1156.4h0M1622.4 1307.2h0M985.3 1228.2h0M1532 1358.6h0M1335.6 1243.1h0M1266.9 1408.4h0M1433.4 1424.3h0M1904.9 1280.4h0M1658.8 1372.3h0M1770.9 1025.5h0M1526.3 1415.3h0M1577.2 1419.4h0M1236.5 1461.2h0M1716.8 1220.4h0M1684.6 1330.5h0M1378.3 1297.9h0M1701.6 1115.6h0M1128.7 1248.8h0M1815.1 1220.8h0M1447.4 1300.2h0M1711.6 1287.6h0M1813.3 1190.8h0M1498.4 1262.7h0M1840.5 1229.9h0M1291.3 1246.6h0M1335.1 1430.9h0M1682.7 1360.7h0M1423.7 1306.1h0M1576.6 1273h0M1560.3 1264.7h0M1627.6 1143.9h0M1600.9 1166.6h0M1289.5 1370h0M1478.3 1368.9h0M1513.9 1371h0M1466.4 1298.8h0M1370.5 1402.9h0M1683.4 1209.1h0M1423.3 1302.1h0M1775.2 1209h0M1656.3 1184.1h0M1553.6 1271.6h0M1104.2 1442.9h0M1537 1382.9h0M1537.6 1275.7h0M1541.6 1127.1h0M1069.1 1453.6h0M1849.5 1326.6h0M1376.4 1380.3h0M1735.5 1160.8h0M1569.2 1225h0M1436.3 1268.3h0M1826.3 1164.9h0M924 1507.9h0M1589 1214.5h0M1406.7 1306.8h0M1573.1 1419.7h0M1295 1382.4h0M1705.1 1161.6h0M1437.4 1426.8h0M1338.5 1220h0M1329.9 1329.1h0M1245.1 1469.3h0M1236.5 1372.3h0M1286.4 1334.4h0M1643.5 1113.2h0M1108.5 1286.1h0M1511 1340.7h0M1043.8 1439.5h0M1622.8 1263.3h0M1766.8 1208.4h0M1186.9 1238.3h0M1741.2 1209.8h0M1730.1 1325.7h0M1618.8 1225.5h0M1617.4 1453h0M1965 1165.6h0M1254.6 1309.9h0M1436 1350.1h0M1673.4 1307.5h0M1385.1 1258.9h0M1356.8 1350.4h0M1300 1397.9h0M1185.4 1285.7h0M2244.1 1106.6h0M1219.2 1328.8h0M1423.4 1310.4h0M1307.2 1426h0M1534.6 1205.6h0M1522.8 1313h0M1402.7 1127.8h0M1690.5 1287.3h0M1126.1 1260h0M1513.8 1239.1h0M1628.2 1117.1h0M747.1 1500h0M1211.7 1381.7h0M1421.3 1324.7h0M1183.3 1262.5h0M1584.6 1298.9h0M1469.2 1257.8h0M1539.4 1270.8h0M1166.6 1481h0M1618 1247h0M1560.8 1342.1h0M1419 1161h0M1784.1 1219.4h0M1730.7 1558.9h0M1539.4 1406.7h0M1347.4 1307.8h0M1693.9 1300h0M1565.4 1244.2h0M1609.9 1202.3h0M2189.9 1398.4h0M1256.8 1217.4h0M1911 1303.3h0M1762.7 1283.1h0M1437.2 1236.9h0M1970.1 1244.8h0M1005.1 1392h0M1472 1302.7h0M1366.9 1186.6h0M1621 1228.3h0M1737.7 1171.7h0M1538.5 1248.8h0M1125.2 1374.8h0M1366.4 1429.5h0M1333.9 1455.9h0M1179.6 1343h0M1658.4 1156.8h0M1594.3 1385.1h0M1303.5 1318.2h0M1612.7 1323.9h0M1570.2 1344.5h0M1924.1 1232.9h0M1410.9 1327.9h0M1280.7 1164.8h0M1197.5 1235.3h0M1724.4 1222.9h0M1450.1 1361.8h0M1543.5 1340.4h0M1920.3 1234h0M1167.2 1234.4h0M1644 1285.8h0M1550.8 1201.2h0M1081.1 1345.9h0M1613 1321.1h0M1189.2 1364.4h0M1565.6 1274h0M1727.1 1142.2h0M1283.1 1272.5h0M1709.7 1268.7h0M1682.6 1279.8h0M1356.8 1299.1h0M1806.6 1141.7h0M1747.6 1224.3h0M1137.4 1414.4h0M1248.2 1358.2h0M1345.8 1140.6h0M1641.5 1270.6h0M1445.3 1251.4h0M1243.6 1253.3h0M1632.2 1324h0M1666.8 1253.9h0M1320.5 1303.7h0M1791 1209.1h0M1624.3 1262.2h0M1614.5 1230.1h0M1402.5 1207.6h0M1375.2 1304.9h0M1518.7 1342.1h0M1722.8 1275.5h0M1269.6 1310.9h0M1141.8 1379.8h0M1369.9 1205.2h0M1289.8 1322.2h0M1282.7 1365.1h0M915.5 1272.3h0M1453.4 1482.1h0M1478.8 1384.6h0M1227.2 1256h0M1496 1325.6h0M1545.6 1382.3h0M1326.9 1140.2h0M1616.6 1343.3h0M1858.4 1029.5h0M1280.4 1321.2h0M1198.6 1339h0M1457.9 1372.5h0M1843.9 1188.7h0M1687.3 1270.4h0M1523.1 1218.3h0M1313 1215.6h0M1654 1333.6h0M1676.2 1215.9h0M2194.5 1407.8h0M1759 1274.4h0M1393.9 1334.3h0M1205.9 1230.7h0M1290.3 1335.7h0M1461 1280.8h0M1031.9 1389.6h0M1634.2 1382.1h0M1545 1212.9h0M1819.2 1159.8h0M1090.5 1340.4h0M1552.3 1319.1h0M1565.2 1266.9h0M1829.6 1404.4h0M1558 1308.5h0M1267.2 1401.9h0M1242.7 1256.8h0M1343.9 1264.5h0M1145.3 1376.7h0M2064.1 1268.8h0M1653.2 1350.1h0M1515.9 1334.9h0M1118.4 1362.2h0M1601.6 1344.3h0M1325.4 1403.5h0M1595.8 1342.1h0M1772.3 1364.5h0M1623.6 1307.4h0M1287.8 1326.6h0M1865.4 1178.4h0M1630.8 1314.2h0M1524 1341.7h0M1633.1 1333.4h0M1182.5 1275.9h0M1892.5 1103.6h0M1947.2 1240h0M1565.4 1261.4h0M1425.7 1548.6h0M978.8 1409.2h0M1660.2 1268.4h0M1730.4 1335.1h0M1536.4 1395.7h0M1398.4 1149.3h0M1676.7 1271.6h0M1370.8 1399.2h0M1334.2 1380.8h0M1583.8 1264h0M1577.6 1334.7h0M1583.9 1411.2h0M1797.6 1262.1h0M1338 1258.7h0M1475.7 1269h0M1391 1409.6h0M1205.5 1318.5h0M1002.3 1243.6h0M1457.4 1399.3h0M1586.8 1289.7h0M1244.4 1336.9h0M1435.5 1185.1h0M1376.1 1258h0M1743 1239.3h0M1329.4 1347.8h0M1884.4 1271.3h0M1440.3 1209.4h0M1259.1 1279h0M1370.1 1407.4h0M1779.5 1319.1h0M1104.6 1402.7h0M1264.2 1644.5h0M1715.7 1308.7h0M1352.6 1217.8h0M1148.5 1379.5h0M1534.6 1284.3h0M1510 1251.6h0M1558.5 1020.8h0M1820.1 1338.1h0M1388.2 1329.4h0M1409.8 1312.1h0M1587.2 1457.4h0M1296.4 1362.3h0M1062.3 1211.7h0M1304.2 1196.2h0M1441.2 1282.4h0M1640.3 1183.7h0M1320 1304h0M1685.7 1199.3h0M1708.3 1358.8h0M1682.3 1269.7h0M1762.3 1431.2h0M1691.9 1329.8h0M1375 1442.8h0M1392.6 1273.3h0M1191.9 1232.4h0M1276 1249.6h0M1505.6 1388.7h0M1619.3 1289.2h0M1276.1 1284.4h0M1472.6 1317.3h0M981.9 1508.1h0M1563.4 1362.3h0M1682.1 1163.8h0M1301.4 1491.9h0M1445.9 1299.2h0M1339.9 1372.3h0M1760.9 1150.8h0M1438.2 1235h0M1647.6 1191.9h0M1183.1 1209.2h0M1777.4 1237.2h0M1715.2 1142h0M1318.2 1336.3h0M1839.7 1252.2h0M1720.5 1246.7h0M1399.9 1292.8h0M1684.5 1274.9h0M1816.7 1318.8h0M1526 1355.6h0M1678 1151.9h0M1414.5 1254.8h0M1635.6 1158.2h0M1485.5 1252.9h0M1771.3 1238.7h0M1166.5 1154.3h0M1315.2 1223.9h0M1972 1139.4h0M1365.8 1345.2h0M1292.4 1330.1h0M1470.7 1237.9h0M1702.4 1247.5h0M1542.4 1274.9h0M1292.6 1309.5h0M1674.4 1252.7h0M1848.7 1278.9h0M1715.9 1248h0M1752 1252h0M1301.7 1346.3h0M1950.9 1215.1h0M2021 1242.2h0M1750.8 1226.3h0M1462.5 1338.4h0M1784 1365.6h0M1318.6 1275.3h0M1658.3 1199.8h0M1040 1304.1h0M1294.2 1275h0M1471.4 1214.5h0M1358.3 1402.2h0M1753.9 1167.4h0M1474.2 1281h0M1555.5 1124.8h0M970.5 1335.3h0M1614.7 1280.8h0M1487.8 1345.6h0M1373.2 1235.5h0M1542.2 1251.3h0M1349.1 1284.8h0M1568.1 1270.3h0M1348.4 1329.7h0M1656.5 1256.5h0M1265.8 1288.2h0M1875.7 1206h0M1419.4 1391.5h0M1988.3 1221.4h0M1500 1133h0M1508.3 1342.8h0M1562.8 1262.2h0M1925.2 1170.7h0M1165.1 1276.3h0M1611.6 1320.9h0M1658.6 1377.1h0M1704.2 1071.7h0M1784.3 1214.3h0M1417.5 1305.7h0M1487.2 1349.3h0M1301.9 1327.1h0M1766.3 1234.5h0M1776.1 1290.7h0M2132.1 1238.6h0M1015.1 1296h0M1303.7 1424.9h0M1741.4 1296.8h0M1406.5 1347h0M1453.9 1296.4h0M1431.2 1266.9h0M1279.8 1266.3h0M1713.3 1319.8h0M1100.4 1190.4h0M1361.5 1285.1h0M1577.7 1316.6h0M1962.5 1279.4h0M1204.6 1246.4h0M1585 1294.5h0M1473.2 1332.4h0M1405.4 1247.2h0M1651.5 1229.5h0M1380.5 1384.3h0M1428.8 1290.6h0M1062.1 1292.2h0M1641.4 1271.8h0M1433.9 1404.4h0M1191.5 1210.2h0M1406.6 1260.7h0M988.3 1378h0M1533.7 1263.8h0M690.4 1320.6h0M1503.2 1168.3h0M1768.4 1284.1h0M1629.8 1379.1h0M1729.8 1144.3h0M1262.6 1201.4h0M1292.8 1261.9h0M1713.4 1239.5h0M1112.2 1364h0M1452.1 1231.4h0M1197.7 1247.2h0M1545.5 1443h0M1883.5 1153.5h0M1121.4 1284.7h0M1375 1259.3h0M1618.8 1349.1h0M1599 1386.8h0M1779 1242.1h0M1565.2 1241.6h0M1103.6 1325.5h0M1810.4 1243.6h0M1478.7 1189.7h0M1188.4 1382.1h0M1521.8 1314.4h0M1257.4 1346.2h0M1874 1217.9h0M1339 1201.6h0M981.8 1260.6h0M1897 1265.4h0M1819.5 1276.7h0M1228.2 1406.1h0M1430.8 1275.6h0M1163.3 1329h0M1408 1271.7h0M1495.6 1194.7h0M1556.4 1280.8h0M1382.7 1204.7h0M1228.8 1163.1h0M1581.1 1240.3h0M1142.3 1377.3h0M1418.7 1310.3h0M1554.1 1297h0M1845.1 1332.3h0M1492.9 1318.6h0M1704.4 1305.2h0M1448.4 1293.8h0M1509.2 1154.3h0M1865.1 1219.9h0M1429 1297.2h0M1100.5 1439h0M1493.3 1342.5h0M1291.4 1346.7h0M1100 1398.3h0M1796.6 1253.9h0M1487.7 1220.6h0M1524.8 1228.1h0M1618.6 1262.5h0M1415.4 1254.7h0M1192.2 1289.9h0M1607.5 1192.3h0M1472.5 1246.8h0M1670.1 1312.3h0M1291 1427.5h0M1538.5 1428.5h0M1557.9 1204h0M1453.2 1386.7h0M1024.5 1342.6h0M1731.2 1284.2h0M1368.4 1345h0M1725.2 1366.5h0M1757.2 1395.9h0M1559.5 1266.4h0M1846.6 1299.3h0M1675.1 1338.9h0M1692.9 1275.8h0M1656.7 1255h0M1543.1 1199.4h0M1474.7 1363.3h0M1489.8 1244h0M1560.7 1265.5h0M885 1446.6h0M1529.7 1282.7h0M1643.8 1206.9h0M1088.4 1282.3h0M1371.8 1295.3h0M1486.1 1309.9h0M1295.5 1304.3h0M1473.8 1361.7h0M1345.3 1394.7h0M1531.1 1268.2h0M1185.1 1381.6h0M1368.8 1277h0M1564.6 1381.8h0M1643.4 1291.6h0M1486.2 1344.5h0M1194.1 1363h0M1530.5 1355.5h0M1201.6 1315.2h0M1468.1 1238.7h0M1276.3 1336.2h0M1507.1 1288.4h0M1626.9 1338.1h0M1763.2 1345.4h0M1465 1164.1h0M1867.1 1226h0M1526.5 1253.9h0M1821.7 1164.4h0M1644.1 1357h0M1656.2 1260.8h0M1558.4 1138.9h0M1663 1255.4h0M1879.1 1253.8h0M1362.9 1223h0M1478.7 1350.3h0M2250.3 1250.3h0M1180.3 1352h0M1783.3 1308.9h0M1579.8 1206.3h0M1356 1375.7h0M1141.4 1380.5h0M1671.4 1149.7h0M1232.2 1311.7h0M1467.4 1351.6h0M1202.3 1408.4h0M1682.6 1252.5h0M1480.5 1351.8h0M1168.1 1224.8h0M1701.7 1438.1h0M1661.4 1326.7h0M1342.1 1359.3h0M1605.9 1196.6h0M1417.2 1349.2h0M1692.7 1156.8h0M1833.6 1318.3h0M1936.4 1251.4h0M1279.2 1385.8h0M1608.8 1176.4h0M1162.2 1288.1h0M1069.8 1257.2h0M1349 1259h0M1462.7 1373.9h0M1400.6 1232.7h0M1532.6 1247.5h0M1595 1261.3h0M1644.2 1254.1h0M1451.5 1324.4h0M1372.7 1293.4h0M1478 1247.8h0M1545.5 1295.7h0M1462.9 1338.5h0M1264 1318.3h0M1719.7 1353.4h0M1023.5 1421.7h0M1171.1 1341.3h0M1628.6 1145.8h0M1410.9 1257.4h0M2204.4 1288.6h0M1513.4 1311.2h0M1693.6 1203.9h0M1349.2 1277.9h0M1425.3 1328.9h0M931.2 1350h0M1528.1 1399.9h0M1633.4 1289.2h0M1338.8 1258.4h0M1784.7 1313.7h0M1018.1 1473.9h0M1865.7 1243.6h0M1414.8 1235.1h0M1293.1 1504h0M1550.1 1393.6h0M1789 1157.1h0M1422.5 1343h0M1087.9 1376.3h0M1641.5 1400.5h0M1733.3 1319.4h0M1441.1 1227.6h0M1457.9 1216h0M1420.4 1290.6h0M1626.7 1365.6h0M1041.9 1340.7h0M1736.3 1232.8h0M830.4 1426.5h0M944.8 1375.1h0M1221.4 1462.8h0M1437.8 1439h0M1315.8 1318.4h0M1809.4 1187.9h0M1243.3 1295.8h0M1195.4 1437.4h0M1690.8 1332.7h0M1256.4 1402.6h0M1388.5 1244.7h0M1512.2 1284.6h0M1519.2 1229.9h0M1959.7 1231.7h0M2052 1425.2h0M1491.5 1311.8h0M1378.3 1392.2h0M1817.8 1333.5h0M1653.5 1303.2h0M1576 1215.5h0M1613.2 1494.4h0M1692.2 1247h0M1103.8 1378.8h0M1435.8 1291.1h0M1528 1264.7h0M1367.3 1314.3h0M1261.5 1386.5h0M1652.3 1273.2h0M1301.5 1340.6h0M1942.2 1318.1h0M1585.3 1429.5h0M1482 1316.5h0M1942.4 1322.1h0M1399.4 1153.9h0M1466.8 1239.9h0M1413.7 1217.7h0M1625.6 1325.4h0M1358 1237h0M1565.1 1372h0M1270.2 1228.6h0M1462.2 1199.3h0M1878.7 1418.5h0M2024.3 1251.5h0M1924.5 1241.1h0M1220.2 1055.4h0M1580.8 1171.3h0M1323.6 1399.6h0M1318.5 1278.9h0M1681.9 1171.9h0M1345 1252h0M973.2 1385.8h0M2029.8 1373.4h0M1741 1312.6h0M1362.1 1245.5h0M1396.8 1265.2h0M1739 1380.5h0M1272 1291.6h0M1633.3 1184.4h0M1595 1272.6h0M1326 1252.2h0M1367.4 1350.7h0M1415.1 1219.8h0M1508.3 1313.1h0M1244.1 1317.5h0M1253.3 1310.2h0M1273 1200.7h0M1371.2 1227.1h0M849.3 1451h0M1563.1 1254.4h0M1330.5 1251.2h0M1716.1 1276.3h0M1821.3 1263h0M1868.6 1219.6h0M1701.3 1334.1h0M1394 1236.1h0M1567.4 1265.2h0M1576 1432.5h0M1355.6 1261.6h0M1488.7 1393.1h0M1507.2 1194.7h0M1677.7 1248.1h0M1403.2 1440.3h0M1398.7 1243.7h0M1272.2 1190h0M1710.9 1282.4h0M1124.2 1285.2h0M1580.5 1323.9h0M1586.9 1224.3h0M1663.1 1373.1h0M1346.5 1434.8h0M1318.8 1105.3h0M1354.1 1300.6h0M2163.4 1257.7h0M1338.8 1217.3h0M1455.4 1254.1h0M2150.3 1103.6h0M1327.8 1296.8h0M1263.8 1398.8h0M1462.9 1319.9h0M934.9 1267.9h0M1596.7 1214.6h0M1436.6 1256.3h0M1419.2 1365.3h0M1361.2 1296.1h0M1584.2 1437.6h0M1687.8 1263.4h0M1884 1212.5h0M1365.5 1282.3h0M1600.6 1217.2h0M1409.4 1367.4h0M1413.2 1132.4h0M1459.9 1269.3h0M1682.3 1415.1h0M1302.1 1331.2h0M1587.7 1324.8h0M1776.1 1157.7h0M1301 1351.4h0M1268.5 1371.8h0M1600.6 1306.5h0M1502.5 1326.5h0M1745.8 1250.7h0M1512.5 1348.5h0M1525.2 1300h0M1806.3 1358.8h0M1481.7 1317.3h0M1717.2 1257.9h0M1524.5 1325.8h0M1346.5 1376.1h0M1463.8 1261.3h0M1641 1294.6h0M1770.8 1257.1h0M1285.9 1225.8h0M1281.6 1253.3h0M1845.1 1153.9h0M1992.9 1173.5h0M1480.2 1386h0M1793.1 1314.9h0M1965 1190.9h0M1815.7 1248.4h0M1398.1 1292.6h0M1256.9 1231.5h0M1838.5 1190.5h0M1417.8 1262.8h0M1688.8 1392.3h0M1432.3 1293.4h0M1851.6 1208.3h0M1403.1 1353h0M1051.2 1228h0M1191.4 1283.4h0M1785.7 1229.6h0M1444.4 1397.2h0M1446.9 1274.8h0M1543.6 1113.4h0M1681.7 1270.2h0M1886.5 1190.7h0M1339.1 1396.7h0M1353 1391.9h0M1439.1 1181.8h0M1421.1 1286.2h0M1242.2 1319.6h0M1735 1358.8h0M1231.9 1380.3h0M1578.7 1230.4h0M1736.1 1345.7h0M1594.1 1181.3h0M1506.1 1317.8h0M1672.7 1307.8h0M1568.5 1111.9h0M1387.7 1363.1h0M1628.3 1390.7h0M1517.6 1051.3h0M1274.2 1347.2h0M1614.5 1385.7h0M1057.2 1413.6h0M1587.5 1183.6h0M1570.8 1267.2h0M1342.8 1424h0M1450.9 1260.5h0M1590.1 1260.3h0M1780.7 1292h0M1448.9 1282h0M1591.4 1434.5h0M1079.4 1444.3h0M1515.1 1379.4h0M1477.4 1238.3h0M1606.5 1342.3h0M1336 1350h0M1600.5 1253.3h0M1571.8 1280.4h0M1903.3 1293.5h0M1678.2 1319.3h0M1904.6 1271.5h0M1263.8 1377.7h0M1857.9 1061.9h0M1170.4 1363.5h0M1488 1360.5h0M1431 1411.7h0M1387.9 1275h0M1886 1187.4h0M1484.3 1276.3h0M1471.7 1313h0M1562.3 1310.8h0M1774.9 1275.9h0M1767.8 1234.1h0M1722.2 1161.6h0M1663.8 1345.2h0M1725.2 1235h0M1211 1352.6h0M1536.2 1309.9h0M1475.2 1305.6h0M1207.7 1238.4h0M1238.1 1349h0M1684.8 1310.6h0M1395 1321h0M1649 1328.5h0M1535.9 1379.8h0M1361.4 1246.2h0M1436.5 1299.6h0M1495.7 1372.7h0M1253.2 1227h0M1619.8 1201.7h0M2001.6 1261.4h0M1482.7 1401.3h0M1794.5 1297.7h0M1567.8 1144h0M1527.3 1319.4h0M1262.7 1294.2h0M921.9 1245.5h0M1672.9 1287.7h0M1786.3 1361.3h0M1201.2 1290.2h0M1066.2 1266.5h0M1727.6 1241.6h0M1227.8 1293.4h0M1623.6 1362.4h0M1496.5 1336.6h0M1608.8 1268.4h0M2087.2 1208h0M1848.9 1096.3h0M1015 1399.4h0M1771.4 1326.7h0M1815.8 1195.7h0M1505.6 1206.5h0M1657.2 1317.8h0M1724.6 1316.3h0M1081.1 1326.4h0M1504.3 1321.6h0M1728.3 1354.8h0M1292 1311.5h0M1391.7 1235.9h0M1741 1179.3h0M1547 1345.3h0M1567.3 1269.8h0M1599.2 1289.2h0M1625.4 1405.5h0M1407.9 1251.9h0M1577.4 1253.3h0M1391.7 1193.9h0M1899.2 1167.2h0M1893 1274.8h0M1374.2 1319h0M1387.4 1242.8h0M1684.9 1234.6h0M1536.8 1183.2h0M1651.8 1285.2h0M1111.8 1317.4h0M1417.3 1073.7h0M1529.6 1356.5h0M1892.4 1164.4h0M1594.5 1185.9h0M1447.3 1311.6h0M1442.9 1359.7h0M1419.5 1299.6h0M1150.1 1393.7h0M1061.7 1421.7h0M1580 1186.7h0M1239.2 1442.5h0M1772.5 1167.3h0M1469.6 1209.6h0M1767.3 1327.7h0M1467.3 1357.5h0M1718.8 1323.3h0M1334.5 1402.3h0M1327.5 1342.1h0M1384.1 1210.9h0M1325.1 1237.4h0M1549.8 1270.6h0M1285.4 1257.4h0M1665 1184.1h0M1519.4 1194h0M920.3 1297.7h0M1680.5 1325.6h0M1610.5 1303.5h0M1874.2 1179h0M1592.7 1311.1h0M1538.3 1233.4h0M1817.2 1228.1h0M1607.3 1427.4h0M1594.1 1242.9h0M1322.7 1369.5h0M1573.3 1278.7h0M1481 1162.1h0M1572.3 1335h0M1653.5 1231.5h0M1465.1 1271.8h0M1566 1312.7h0M869 1332.5h0M1650.1 1242h0M1950.6 1177.6h0M1700 1310.4h0M1633.1 1303.8h0M1954.7 1197h0M1775.5 1306.4h0M1391.2 1322.8h0M1266.3 1200.3h0M1594.4 1387.3h0M1197.5 1300.7h0M1932 1337.2h0M1696.3 1218.2h0M1108.7 1247.4h0M1313.7 1338.2h0M1316.6 1431.9h0M1355 1447.7h0M1331.7 1230.5h0M2065.8 1189.7h0M1311.2 1435.3h0M1479.9 1416h0M1251.7 1218.1h0M880 1268.6h0M1863 1322.7h0M1706.7 1273.4h0M1610.6 1174.2h0M832.5 1349h0M848.7 1256.1h0M2052.6 1344h0M1663.6 1214.2h0M1576.4 1342.3h0M1123.7 1291.7h0M1571.2 1276.8h0M1225 1349.5h0M1728.3 1365.9h0M1524.1 1405.5h0M1251.8 1444.7h0M1458.9 1345.9h0M1772 1221.6h0M1085.7 1234.7h0M1317.9 1193.9h0M1064.4 1327.2h0M1416.8 1300.5h0M1778.7 1425.3h0M1797.3 1259.1h0M1627.1 1248.6h0M1449.8 1079.9h0M1916.4 1201.5h0M1984.4 1101.4h0M1478.4 1199.3h0M1256.3 1315.6h0M1813.9 1281.6h0M1402.5 1115h0M1398 1253.1h0M1640.5 1185.4h0M1462.1 1170.4h0M1902.6 1190h0M1619.2 1256.8h0M1759.1 1222.7h0M1424 1306h0M1541.8 1305.1h0M1572.6 1329.5h0M1481 1362.9h0M1676.6 1342.2h0M1374.1 1243.2h0M1500.3 1412.9h0M1043.8 1300.7h0M1126.6 1286.7h0M1594 1231.8h0M1716.3 1173.1h0M1518.3 1195.7h0M1322.9 1250.3h0M1317.1 1513.2h0M1788.2 1427.9h0M1658.9 1120.7h0M1242.4 1244.3h0M1397.6 1273.1h0M1434.7 1385.9h0M1238 1282.8h0M1425.1 1136.5h0M1413.6 1276.6h0M2063.2 1133.1h0M1332 1429h0M1400.3 1255.2h0M1358.2 1384.9h0M1460.3 1307.9h0M1821 1285.5h0M1204.8 1225.7h0M1644.8 1329.6h0M1752.4 1226.9h0M1271.4 1384.9h0M1798 1341.2h0M1754.2 1198.4h0M1574.3 1188.6h0M1381.2 1290.8h0M1213.3 1263h0M1537.1 1298.8h0M1626.1 1372.6h0M1394.4 1375.8h0M1506.9 1286.5h0M1224.2 1347h0M1704.6 1415.6h0M1546.7 1353.4h0M1485.9 1222.4h0M1063.3 1216.7h0M1212.9 1279.7h0M1624.8 1326.7h0M1642.2 1289.6h0M1189.6 1377.6h0M1479.6 1208.5h0M1919.8 1226.7h0M1440.9 1353.2h0M1549.7 1240.7h0M1537.4 1406.7h0M1770.5 1220.2h0M1398.7 1290.1h0M1393.9 1176.3h0M1574.4 1225h0M1852.3 1238.8h0M1343 1312.1h0M1634.5 1242.9h0M1432.4 1283h0M1098.8 1361.5h0M1156.6 1323.7h0M1632.7 1321.2h0M1262.8 1282.7h0M1955.7 1218.6h0M1410.8 1197.6h0M1291.6 1348.2h0M1631.9 1298h0M1523 1266.7h0M1434.5 1325.6h0M1176.4 1418.4h0M1205.7 1304.8h0M1650.7 989.8h0M1559.6 1112h0M1507 1410.5h0M1290.1 1248.7h0M1205.2 1342h0M1295 1276.9h0M1638.9 1371.2h0M1289.7 1311.3h0M1662.8 1329.6h0M1397.4 1328.6h0M1634.1 1187.1h0M1304.1 1279.5h0M889.8 1436.2h0M1408.7 1150.3h0M1633.4 1159.3h0M1476.8 1249.7h0M1507.4 1332.8h0M1335.9 1394h0M1245.8 1254.9h0M1629.4 1208h0M1846.8 1235.6h0M1772.8 1228.9h0M1441.3 1265.9h0M1435.9 1128.3h0M1612.3 1209.3h0M1322.1 1341.1h0M1794.1 1115.8h0M1350.4 1245.1h0M1314.1 1472.5h0M2067.3 1415.8h0M1135.8 1293.5h0M1425.4 1465.5h0M1382.9 1362.6h0M1583.4 1215.2h0M1335.1 1335.1h0M1861.7 1070.5h0M1717.4 1379.9h0M1460.9 1352h0M1329.7 1173.3h0M1365.1 1226.1h0M1089.6 1305.2h0M1415.6 1265.7h0M1482.9 1390.2h0M1342.7 1387.6h0M1668.1 1375.3h0M1509.8 1277.8h0M2052.9 1211h0M1484.2 1364.4h0M1454.9 1264.3h0M1613.5 1294h0M1248.6 1333.7h0M1099.6 1228.2h0M1220.9 1299.4h0M1466.7 1196h0M1725.4 1328.1h0M1703.6 1191.8h0M1386.4 1244.1h0M1495.7 1296.9h0M1649.8 1222.2h0M1667.9 1115.7h0M1723.4 1341.3h0M1277.4 1399.6h0M1663.2 1285.3h0M1784.2 1264.6h0M1457.8 1203.7h0M1397.4 1420.1h0M1501.8 1365.4h0M1466.6 1283.1h0M1173.7 1430.9h0M1553.4 1132h0M1258.7 1286.5h0M1475.2 1219.8h0M1144 1283.5h0M1457.6 1217.3h0M1524.6 1453h0M1615.6 1278h0M1587.2 1387.7h0M1484.4 1422h0M1360.3 1431.6h0M1227 1301.2h0M1620.7 1151h0M1409.4 1326.3h0M1632.2 1168.6h0M1865 1238.6h0M1555.9 1337.1h0M1777 1465h0M1936.8 1273h0M1267 1176.5h0M1559.3 1339.1h0M1482.7 1262.3h0M1734.9 1301.3h0M2035.4 1291h0M1876.9 1349h0M1322.5 1186.1h0M1781.2 1264.8h0M1454 1426h0M1704.9 1319.7h0M1392.9 1334.9h0M1274.1 1409.5h0M1137.6 1232.5h0M1416.4 1274.2h0M1219.6 1410.1h0M1841.7 1226.2h0M1636.6 1403.8h0M1620.2 1213.2h0M1477.2 1417.3h0M1606.2 1178.3h0M1782.7 1203.1h0M1740.1 1196.9h0M1445.2 1286.7h0M1721.3 1239.4h0M1027.8 1363.3h0M1070.6 1308.1h0M1497.3 1469.3h0M1513.2 1218.7h0M1184.5 1226.1h0M1476.5 1336.5h0M1438.3 1238.9h0M2028.8 1245.4h0M1537.7 1206.8h0M844.3 1406.7h0M1584.2 1196.1h0M1708.5 1226.3h0M1812.4 1182.1h0M1776.8 1354.8h0M1348 1368.9h0M1693.4 1378h0M1441.5 1446.6h0M1641.1 1161.5h0M1094.5 1325.6h0M1989.2 1286.2h0M1292.8 1327.7h0M1603.3 1240.2h0M1728.8 1358h0M1510.3 1153.1h0M1710 1249.4h0M1721.6 1144.6h0M1323.8 1397.3h0M1673 1213.1h0M1242.7 1382.3h0M1957.4 1400.6h0M1574 1276.5h0M1575.7 1201.5h0M1332.2 1318.9h0M1072.2 1294.9h0M1755.3 1240.5h0M1448.1 1203.3h0M1355.9 1374.6h0M1618.9 1326.1h0M1764 1191.6h0M1132 1499.8h0M1367 1382.9h0M1720.8 1213.7h0M1904.9 1294.8h0M1702 1105.3h0M1867.5 1216.2h0M1526.3 1245.9h0M1158.8 1435.3h0M1377.9 1297.8h0M1339 1330.3h0M1945.4 1314.8h0M1448.7 1368.7h0M1334.1 1267.4h0M1325.5 1482.7h0M1229.1 1371.1h0M1798 1020.9h0M1322.9 1209.2h0M1728.2 1193.5h0M1554.3 1362.2h0M1178.8 1367.9h0M1739.4 1217.7h0M1420.9 1447.8h0M1346.6 1276h0M1462.5 1199.1h0M1226.3 1358.6h0M1140 1451.5h0M1583.5 1222.7h0M1223.1 1260.5h0M1644.9 1228.4h0M1810.4 1368h0M1757 1272.5h0M1215 1331.3h0M1565.5 1349.1h0M1381.9 1320.9h0M1693.8 1301.6h0M1860.9 1173h0M1144.4 1573.7h0M1778.2 1246.6h0M1313.2 1249.8h0M1657.6 1160.7h0M1772.4 1281.3h0M1642.5 1261.5h0M1703.9 1359.4h0M1246.5 1304.3h0M1322.9 1308.1h0M1670 1292.9h0M1542.5 1336.4h0M1155.6 1299.4h0M1384.4 1258.7h0M1345.9 1194.9h0M1367.2 1087.8h0M1085.5 1262.7h0M1245.6 1395.1h0M1252 1240.6h0M1540.3 1344.2h0M1104 1409h0M1449.6 1254.9h0M1481.8 1222.7h0M1528.4 1424h0M1450 1267.9h0M1632.1 1263.4h0M1384.3 1193.9h0M1054.5 1272.6h0M798.5 1535.9h0M1311.2 1195.1h0M1536.7 1324.5h0M1578.1 1330.6h0M1712.9 1291.7h0M1233 1543.8h0M1711.8 1184.8h0M1356.5 1204.2h0M1244 1382h0M1365.7 1280.9h0M1224.4 1425.2h0M910.4 1333.1h0M1150.1 1453.3h0M1338.9 1273.6h0M1823.4 1263.1h0M1773.1 1254.4h0M1458.8 1262.1h0M1145.9 1374.7h0M2044.8 1180.5h0M1617.8 1239.6h0M1141.8 1323.1h0M1591.7 1113.4h0M1623.4 1345.3h0M1354 1463.3h0M1799.3 1385h0M1125 1369.9h0M1752.4 1304.5h0M1103.2 1411.6h0M1805.4 1245.9h0M1461.1 1343.4h0M1631.1 1275.8h0M1515.7 1406.9h0M1631.2 1216.3h0M1309 1268.2h0M1773.2 1278.2h0M2069.8 1261.8h0M1429.8 1377.8h0M1165.6 1283.7h0M1496.8 1367.4h0M1308 1318h0M1578.9 1274.5h0M1541.8 1332.4h0M1546.1 1231.6h0M1730 1298.4h0M1248.4 1198.1h0M1918.6 1120.3h0M1797.4 1529.7h0M1442.7 1229h0M1648.1 1151.1h0M1631.6 1288.5h0M1439.1 1284.9h0M1225.4 1410.6h0M1465.1 1314.2h0M763.6 1468.4h0M1511.9 1336.2h0M1822.6 1357.9h0M1737.8 1306.2h0M1450 1241.9h0M1285.8 1268h0M1652.4 1102.6h0M1695.7 1277.3h0M1471.9 1206.3h0M1649.7 1352h0M1527.4 1392.7h0M1526.2 1193h0M1952.6 1246.5h0M1384 1194.8h0M1427.2 1263.6h0M1760.5 1359.9h0M1649.9 1277.6h0M1518.1 1310.6h0M1255.7 1319h0M1631.8 1194.1h0M2031.4 1234.2h0M1625.3 1434.3h0M1297.5 1418.4h0M1220.8 1410.3h0M1480.7 1405.2h0M1363.1 1294.7h0M1359.3 1469.8h0M1491.3 1292.7h0M1988.5 1182.5h0M1439.5 1333.7h0M1585 1292.4h0M1370.6 1255.9h0M1615.5 1196.9h0M1567.1 1136.5h0M1426.7 1407.4h0M1829 1216h0M1567.1 1256.7h0M1339 1462.5h0M1495.5 1131.3h0M1880.7 1355.7h0M1752.2 1054.4h0M1485.1 1416.3h0M1165 1393.4h0M1790.4 1221.4h0M1513.1 1396.2h0M1427.8 1299h0M1486.4 1250.6h0M991.9 1269.1h0M1446.4 1421.3h0M1195.9 1240.8h0M1741.9 1253h0M1539 1286.5h0M1424.1 1363.8h0M1714.2 1300.7h0M1585.8 1296.4h0M1444.2 1260h0M1444.5 1160.6h0M1301.8 1320.8h0M1051.6 1259.3h0M1465 1323.2h0M1872.5 1294.4h0M1302 1375.6h0M1313.3 1499.8h0M1614.3 1322.5h0M1586.7 1174.9h0M1633.5 1318.4h0M1597.4 1395.6h0M1560.5 1168h0M1615.6 1270.3h0M1412.9 1334.7h0M1178 1364.8h0M1506.4 1299.5h0M1434 1159.4h0M1405.1 1145.5h0M1445.3 1459.1h0M1372.3 1320.3h0M1268.7 1433h0M1247.4 1461.6h0M1395 1257.6h0M1451.5 1148.2h0M1857 1252h0M1600.9 1368.4h0M1365.3 1254.5h0M1575.7 1339.2h0M1245.2 1360.6h0M1422.6 1258.7h0M1711.8 1328.4h0M1744.2 1246.6h0M1804.4 1356.8h0M1312.4 1237.7h0M1681.5 1263.9h0M1647.4 1289.8h0M1309.1 1347.3h0M1416.1 1377.4h0M1356.7 1224h0M1729.1 1124.3h0M1560.3 1255.1h0M1657 1115.9h0M1529.2 1316.1h0M1686.6 1254.5h0M1828.5 1210.4h0M1748.1 1248.9h0M1324.8 1312.3h0M1724.4 1222.7h0M1431.1 1387.6h0M1563.7 1234.1h0M1956.7 1287.1h0M1356.5 1261.4h0M2202.9 1210.1h0M1635.5 1353.7h0M1674.1 1433.6h0M1706.1 1271.3h0M1470.3 1369.1h0M1545.7 1223.4h0M851.9 1411.6h0M1398 1400.4h0M1294.3 1407.1h0M1194.9 1325.7h0M1200.1 1402.4h0M1332.1 1298.2h0M1256.6 1328.9h0M1410.7 1198.2h0M1605.7 1319.5h0M1836.3 1165.3h0M1716.1 1201.6h0M1628 1164.9h0M1248 1318.6h0M1538.9 1323.3h0M1994.1 1260.7h0M1505.8 1332.1h0M1368.3 1318.4h0M1358.8 1195.7h0M1658.5 1282.8h0M1231 1250.3h0M1545.3 1219.5h0M1476 1365h0M1333.8 1313.8h0M1453 1267.1h0M1417.5 1256.8h0M1491.5 1241.2h0M1560.2 1198.5h0M1404.9 1342.1h0M1771.1 1266h0M1427.2 1272.5h0M1466.2 1313.6h0M1268.7 1312.2h0M1627.8 1292.9h0M1587.3 1268.8h0M1606.7 1313.6h0M1403.8 1386.1h0M1818.1 1309.9h0M1736.3 1306.5h0M1721 1315.1h0M1766.8 1205.2h0M1070 1400.7h0M2051.2 1128.6h0M1304.5 1246.4h0M1237 1298.8h0M1265.6 1505.7h0M1541 1170.9h0M1252.2 1405.2h0M1038.7 1395.8h0M1776.3 1339.6h0M1598.4 1329.1h0M1366.1 1253.2h0M1749.9 1308.4h0M1703 1282.6h0M1699.5 1226.5h0M1327.7 1249.8h0M1328.3 1389.4h0M1378.8 1283.4h0M1784.6 1238h0M1399.1 1386.1h0M1547.9 1307.9h0M1563.6 1229h0M1523.3 1380.9h0M1208 1338.5h0M1476.5 1278.3h0M1225.8 1286.5h0M1522.8 1375.6h0M1355.7 1434.7h0M1397.2 1239.6h0M1175.9 1399h0M1304 1330.8h0M1428.9 1290.6h0M1402 1344.4h0M1594.6 1192h0M1265.9 1315h0M1531.7 1331.5h0M1474.9 1333.4h0M1787.7 1202.9h0M1933.4 1316.8h0M1584.7 1248.9h0M1466 1183.9h0M1057.4 1325.2h0M1231.4 1327.4h0M1579.4 1323.2h0M1489.6 1336h0M1480.7 1309.5h0M1397.3 1204.6h0M1854.4 1277.6h0M1624.8 1284.4h0M1838.4 1173.8h0M1456.1 1260h0M1656.3 1441.6h0M1640.4 1239.8h0M1721.2 1185.5h0M1571 1233.4h0M1506.9 1243.7h0M1753.2 1213.3h0M1732.1 1314.2h0M1754.3 1309.5h0M1843 1095h0M1290.2 1517.9h0M1277.3 1306h0M1661.1 1290.7h0M1686.3 1157.9h0M1435.2 1466.6h0M1252.8 1418.9h0M1536.4 1428.2h0M1648.1 1369.3h0M1437.6 1097.4h0M1966.7 1325.2h0M1782.6 1214.4h0M1563.9 1242.3h0M1802.1 1245.5h0M1648 1386.6h0M1120.8 1264.9h0M1400.2 1321.5h0M1402.6 1256.9h0M1567.4 1272h0M1157.3 1209.7h0M1785.7 1217.4h0M1136.5 1376h0M1525.7 1167.8h0M1450.1 1279.4h0M1475.2 1371.1h0M1791.2 1276.7h0M1500 1305h0M1898.4 1291.4h0M992.4 1331.4h0M1586.6 1298.2h0M1371.8 1371.9h0M1630.1 1135.5h0M1469 1279.5h0M1303.7 1315.1h0M1077.8 1391.2h0M1512.6 1397.5h0M1088.7 1337h0M1429.1 1205.7h0M1718.6 1148.2h0M1664.8 1174.7h0M1823 1263.4h0M1222.1 1332.4h0M1257.2 1304.5h0M1402.9 1310.3h0M1968.5 1280.7h0M1755.9 1300.6h0M1565.5 1135.4h0M1604.8 1234.9h0M1743.5 1233.4h0M1615.8 1264.4h0M2029.5 1167.4h0M1392.4 1387h0M1386.1 1322.7h0M1626.3 1240.1h0M1171.2 1302.4h0M1557.5 1267.6h0M1708.5 1283.1h0M1656.1 1302.8h0M1666.6 1258h0M864.4 1357.4h0M1121.8 1334.6h0M1802.1 1280.1h0M1256.2 1344.7h0M1487.7 1314.7h0M1074.7 1396.7h0M1691.6 1309h0M1164.8 1244.8h0M1713.1 1349.4h0M1771.1 1205.8h0M1056.1 1406.3h0M1419.6 1294.6h0M1590.3 1459.3h0M1815.6 1215.9h0M1588.6 1337.7h0M1519.4 1249.8h0M1677.8 1001.5h0M1314.7 1244.2h0M1420 1271.9h0M1789.9 1236.1h0M1466.1 1334.7h0M1350 1254h0M1587.4 1335.9h0M1982.6 1192.2h0M1578.8 1135.6h0M1844.8 1151h0M1620.7 1198.2h0M1237.2 1259.9h0M1628.1 1169.3h0M2075.3 1150.1h0M1110.2 1243.5h0M1645.1 1323.9h0M1684.1 1297.4h0M1825.9 1394.9h0M1509.2 1268.1h0M1486.4 1132.2h0M1424.7 1251.8h0M1379.6 1244.8h0M1603.9 1328.5h0M2067.7 1332.7h0M995.2 1433.6h0M1576.9 1262.3h0M1350.5 1168h0M1751.5 1248.3h0M1575.9 1242.3h0M1368.2 1286.9h0M1388.6 1287.8h0M1642.1 1366.1h0M988.5 1459.5h0M1435.1 1265.3h0M1651.2 1258.5h0M1481.4 1225.2h0M1919.6 1279.8h0M1726.5 1274.9h0M1690.5 1428.3h0M1551.6 1171h0M1610.8 1383h0M1424.8 1311.1h0M1857.2 1418.1h0M1070 1317.7h0M1340.9 1330.6h0M1231.1 1443.3h0M1418.5 1288.5h0M1581 1418.8h0M1782.1 1321h0M1281.8 1416.5h0M1149.4 1431.9h0M1951.2 1285.1h0M1893.6 1174.6h0M1851.4 1173.1h0M1471.6 1272.4h0M2041.3 1325.8h0M1106 1250.5h0M1453.6 1182.1h0M1834.6 1342.7h0M1753.1 1180.2h0M1551 1198.7h0M1893.9 1134.5h0M1914.5 1333.7h0M1476.3 1444.7h0M1355.5 1184.2h0M1437.6 1312.1h0M1702.5 1299.4h0M1123 1244.8h0M1873.9 1294.7h0M1419.3 1304.3h0M1762.8 1252.3h0M1186.4 1227.1h0M1121.7 1378.4h0M1579 1318.4h0M1355.5 1265.9h0M1563.4 1308h0M1611 1238.5h0M1417.6 1442.7h0M1813.5 1154.6h0M1747.4 1354.2h0M1460.3 1299.6h0M1706 1263.4h0M1543.4 1330.6h0M1564.1 1185.8h0M1807.8 1253.7h0M1349.4 1278.9h0M1246.4 1290h0M1400.7 1173.7h0M1296.6 1341h0M1700.2 1208.1h0M1915.4 1243.4h0M1441.3 1274.5h0M1882.3 1316.2h0M1461.3 1366.8h0M1082.7 1338.3h0M1855 1275.4h0M1602.7 1396.1h0M1668.7 1095.5h0M1588.6 1364.3h0M1596.9 1377.4h0M1230.9 1344.9h0M1473.1 1278.6h0M1484.1 1320.5h0M1958.2 1317.8h0M2066.1 1304.1h0M1926.4 1130.1h0M1805.2 1285.5h0M1521.3 1437.7h0M1891.9 1171.6h0M1693.5 1049.4h0M1174.5 1388.8h0M1529.5 1346.6h0M1576.3 1400.3h0M1861.1 1452.5h0M1168.8 1309h0M1667.1 1302.1h0M1577.1 1318.5h0M1224.9 1332.3h0M1421.6 1272.7h0M1637.3 1309.3h0M1765.8 1248.6h0M986.8 1442.1h0M1719.2 1264.5h0M2206.9 1223.3h0M1045.8 1311.7h0M1568.9 1330.2h0M1409.8 1470h0M1883.1 1158.6h0M1755.7 1195.7h0M1655.4 1214.6h0M1951.1 1148.9h0M1897.4 1358.9h0M1330.2 1374.8h0M1131.6 1188.5h0M979.7 1267.6h0M1658.7 1259.5h0M1341.6 1368h0M1907.5 1220.3h0M1358.6 1211.8h0M1531.8 1379.5h0M1659.9 1281.5h0M1685.9 1364.8h0M1589.3 1293.4h0M1454.5 1200.7h0M1716.7 1300.6h0M1433.5 1264.4h0M1251.7 1480.6h0M1501.4 1339.2h0M1530.2 1241h0M1446.5 1324.4h0M1628.5 1204h0M1575.8 1232h0M1316.3 1280.4h0M1708.6 1314.4h0M1652.8 1111.2h0M2230.8 1266.5h0M1132.3 1197.1h0M1353.4 1193.3h0M1408.3 1272.1h0M1381.9 1347.9h0M1866.3 1342.4h0M1484.2 1278.6h0M1438 1205.8h0M1826.6 1373.3h0M1163.1 1374h0M1404.1 1321.1h0M1876.2 1209.1h0M1486.9 1496.7h0M1402 1390.3h0M1377 1267.1h0M1257.6 1315.3h0M1224 1172.6h0M1605.3 1255.4h0M1417.5 1308.1h0M1760 1278.7h0M1768.6 1215.9h0M1769.4 1358.1h0M1380.5 1321.5h0M1515 1346.4h0M1986 1227.3h0M1645.1 1274h0M874.5 1331.4h0M1299.5 1243.8h0M1695.4 1285.7h0M1621 1319.7h0M1586.6 1318.6h0M1499.6 1328.4h0M1307.7 1266h0M1529.6 1409.6h0M1444.5 1292.3h0M1470 1199.8h0M1654.6 1294.5h0M1519.5 1311.4h0M1919.8 1189.7h0M1613.4 1244.4h0M1365.4 1345.3h0M921.1 1315.7h0M1298.1 1253.4h0M1462 1209.3h0M1648.1 1246.9h0M1532.4 1333.3h0M1213.7 1391.9h0M1536.9 1433.8h0M1393.4 1285.6h0M1886.7 1270.8h0M1635.6 1206.3h0M1764.9 1278.5h0M1846.1 1254h0M1126 1202.9h0M1545.3 1275.5h0M1414.1 1197.6h0M1664.7 1399.6h0M1598.4 1263.3h0M1542.6 1264.2h0M1147.1 1269.2h0M1584.5 1260.6h0M1582.3 1148.6h0M1432.3 1197.3h0M1180.6 1331h0M1679.7 1324.2h0M1593.6 1265.8h0M1256.7 1394.6h0M2044.8 1244.4h0M1399.9 1261.5h0M1961.5 1256.5h0M1529.1 1283.6h0M1354.4 1266.8h0M1444.2 1329.9h0M1753.3 1205.1h0M1509.3 1241.3h0M1212.4 1295.5h0M1399.3 1285.4h0M1447.3 1423.1h0M1847.4 1313h0M1590.8 1282.3h0M1646.1 1158.8h0M1340.1 1330.1h0M1605.4 1297.2h0M1590.3 1365.9h0"/>
<path class="c" stroke="#00ff00" d="M2086.1 1366.5 L2114.5 1350.8M2114.5 1350.8 L2140.4 1334.8M2140.4 1334.8 L2163.7 1318.7M2163.7 1318.7 L2184.4 1302.4M2184.4 1302.4 L2202.3 1286.1M2202.3 1286.1 L2217.5 1269.8M2217.5 1269.8 L2229.8 1253.6M2229.8 1253.6 L2239.1 1237.5M2239.1 1237.5 L2245.5 1221.6M2245.5 1221.6 L2248.9 1206M2248.9 1206 L2249.3 1190.8M2249.3 1190.8 L2246.7 1175.9M2246.7 1175.9 L2241.1 1161.5M2241.1 1161.5 L2232.6 1147.6M2232.6 1147.6 L2221.1 1134.3M2221.1 1134.3 L2206.7 1121.6M2206.7 1121.6 L2189.5 1109.6M2189.5 1109.6 L2169.6 1098.3M2169.6 1098.3 L2146.9 1087.8M2146.9 1087.8 L2121.7 1078.1M2121.7 1078.1 L2094 1069.3M2094 1069.3 L2063.9 1061.3M2063.9 1061.3 L2031.6 1054.2M2031.6 1054.2 L1997.1 1048.1M1997.1 1048.1 L1960.7 1043M1960.7 1043 L1922.4 1038.9M1922.4 1038.9 L1882.5 1035.8M1882.5 1035.8 L1841 1033.7M1841 1033.7 L1798.2 1032.6M1798.2 1032.6 L1754.1 1032.6M1754.1 1032.6 L1709.1 1033.6M1709.1 1033.6 L1663.3 1035.6M1663.3 1035.6 L1616.8 1038.6M1616.8 1038.6 L1569.8 1042.7M1569.8 1042.7 L1522.6 1047.8M1522.6 1047.8 L1475.3 1053.8M1475.3 1053.8 L1428.2 1060.8M1428.2 1060.8 L1381.3 1068.7M1381.3 1068.7 L1335 1077.5M1335 1077.5 L1289.3 1087.1M1289.3 1087.1 L1244.5 1097.6M1244.5 1097.6 L1200.7 1108.8M1200.7 1108.8 L1158.2 1120.8M1158.2 1120.8 L1117 1133.4M1117 1133.4 L1077.4 1146.7M1077.4 1146.7 L1039.6 1160.5M1039.6 1160.5 L1003.6 1174.9M1003.6 1174.9 L969.6 1189.7M969.6 1189.7 L937.8 1205M937.8 1205 L908.2 1220.6M908.2 1220.6 L881.1 1236.4M881.1 1236.4 L856.4 1252.5M856.4 1252.5 L834.4 1268.7M834.4 1268.7 L815.1 1285M815.1 1285 L798.5 1301.3M798.5 1301.3 L784.8 1317.6M784.8 1317.6 L774 1333.7M774 1333.7 L766.1 1349.7M766.1 1349.7 L761.2 1365.5M761.2 1365.5 L759.3 1380.9M759.3 1380.9 L760.4 1396M760.4 1396 L764.5 1410.6M764.5 1410.6 L771.6 1424.7M771.6 1424.7 L781.6 1438.4M781.6 1438.4 L794.5 1451.4M794.5 1451.4 L810.3 1463.7M810.3 1463.7 L828.9 1475.4M828.9 1475.4 L850.2 1486.3M850.2 1486.3 L874.2 1496.4M874.2 1496.4 L900.6 1505.7M900.6 1505.7 L929.5 1514.1M929.5 1514.1 L960.8 1521.6M960.8 1521.6 L994.2 1528.2M994.2 1528.2 L1029.6 1533.8M1029.6 1533.8 L1067 1538.4M1067 1538.4 L1106.1 1542.1M1106.1 1542.1 L1146.9 1544.7M1146.9 1544.7 L1189.1 1546.3M1189.1 1546.3 L1232.5 1546.8M1232.5 1546.8 L1277.1 1546.3M1277.1 1546.3 L1322.5 1544.8M1322.5 1544.8 L1368.7 1542.3M1368.7 1542.3 L1415.5 1538.7M1415.5 1538.7 L1462.6 1534.1M1462.6 1534.1 L1509.8 1528.6M1509.8 1528.6 L1557.1 1522.1M1557.1 1522.1 L1604.1 1514.6M1604.1 1514.6 L1650.7 1506.3M1650.7 1506.3 L1696.8 1497.1M1696.8 1497.1 L1742 1487M1742 1487 L1786.4 1476.1M1786.4 1476.1 L1829.5 1464.5M1829.5 1464.5 L1871.4 1452.2M1871.4 1452.2 L1911.8 1439.3M1911.8 1439.3 L1950.5 1425.7M1950.5 1425.7 L1987.5 1411.6M1987.5 1411.6 L2022.5 1397M2022.5 1397 L2055.4 1381.9M2055.4 1381.9 L2086.1 1366.5"/>
<path class="b" d="M268.8 1303 L268.8 1302.7 L321.5 1274.9 L321.5 1275.2 L334.6 1268.3 L334.6 1265.4 L387.3 1237.7 L387.3 1240.5 L400.5 1233.6 L400.5 1224.7 L453.2 1196.9 L453.2 1205.8 L466.4 1198.8 L466.4 1169.7 L519.1 1142 L519.1 1171.1 L532.2 1164.1 L532.2 1100.1 L584.9 1072.3 L584.9 1136.4 L598.1 1129.4 L598.1 997.3 L650.8 969.5 L650.8 1101.6 L664 1094.7 L664 889.3 L716.7 861.6 L716.7 1066.9 L729.8 1060 L729.8 739.9 L782.5 712.2 L782.5 1032.2 L795.7 1025.3 L795.7 633.6 L848.4 605.8 L848.4 997.5 L861.6 990.5 L861.6 540.8 L914.3 513 L914.3 962.8 L927.4 955.8 L927.4 534.4 L980.1 506.6 L980.1 928 L993.3 921.1 L993.3 563.7 L1046 535.9 L1046 893.3 L1059.2 886.4 L1059.2 633.1 L1111.9 605.3 L1111.9 858.6 L1125 851.7 L1125 704.4 L1177.7 676.6 L1177.7 823.9 L1190.9 816.9 L1190.9 747.8 L1243.6 720 L1243.6 789.2 L1256.8 782.2 L1256.8 750.9 L1309.5 723.1 L1309.5 754.4 L1322.6 747.5 L1322.6 732 L1375.3 704.2 L1375.3 719.7 L1388.5 712.8 L1388.5 708 L1441.2 680.3 L1441.2 685 L1454.4 678.1 L1454.4 676.3 L1507.1 648.6 L1507.1 650.3 L1520.2 643.3 L1520.2 643 L1572.9 615.3 L1572.9 615.6"/>
<path class="b" d="M1661.5 734.6 L1661.5 734.1 L1697 752.9 L1697 753.3 L1705.9 758 L1705.9 756.4 L1741.3 775.1 L1741.3 776.7 L1750.2 781.4 L1750.2 773.7 L1785.6 792.4 L1785.6 800.1 L1794.5 804.8 L1794.5 779.5 L1830 798.2 L1830 823.5 L1838.8 828.2 L1838.8 751.9 L1874.3 770.7 L1874.3 846.9 L1883.2 851.6 L1883.2 706.5 L1918.6 725.2 L1918.6 870.3 L1927.5 875 L1927.5 632.6 L1963 651.3 L1963 893.7 L1971.8 898.4 L1971.8 512.5 L2007.3 531.3 L2007.3 917.1 L2016.2 921.8 L2016.2 402.9 L2051.6 421.6 L2051.6 940.5 L2060.5 945.2 L2060.5 342.1 L2096 360.8 L2096 963.9 L2104.8 968.6 L2104.8 339.3 L2140.3 358 L2140.3 987.3 L2149.2 992 L2149.2 400.9 L2184.6 419.7 L2184.6 1010.7 L2193.5 1015.4 L2193.5 581.7 L2229 600.5 L2229 1034.1 L2237.8 1038.8 L2237.8 734.2 L2273.3 753 L2273.3 1057.5 L2282.2 1062.2 L2282.2 889.7 L2317.6 908.4 L2317.6 1080.9 L2326.5 1085.6 L2326.5 987.6 L2362 1006.4 L2362 1104.3 L2370.8 1109 L2370.8 1062.4 L2406.3 1081.2 L2406.3 1127.7 L2415.2 1132.4 L2415.2 1113.4 L2450.6 1132.1 L2450.6 1151.1 L2459.5 1155.8 L2459.5 1145.9 L2494.9 1164.7 L2494.9 1174.5 L2503.8 1179.1 L2503.8 1177.2 L2539.3 1196 L2539.3 1197.9"/>
<path class="c" stroke="#ff0000" d="M292.5 1289.6 L304.6 1283M304.6 1283 L316.7 1276.3M316.7 1276.3 L328.9 1269.5M328.9 1269.5 L341 1262.7M341 1262.7 L353.1 1255.7M353.1 1255.7 L365.2 1248.6M365.2 1248.6 L377.3 1241.4M377.3 1241.4 L389.5 1234M389.5 1234 L401.6 1226.3M401.6 1226.3 L413.7 1218.4M413.7 1218.4 L425.8 1210.3M425.8 1210.3 L437.9 1201.8M437.9 1201.8 L450 1192.9M450 1192.9 L462.2 1183.6M462.2 1183.6 L474.3 1173.8M474.3 1173.8 L486.4 1163.5M486.4 1163.5 L498.5 1152.6M498.5 1152.6 L510.6 1141M510.6 1141 L522.8 1128.7M522.8 1128.7 L534.9 1115.7M534.9 1115.7 L547 1101.8M547 1101.8 L559.1 1087.1M559.1 1087.1 L571.2 1071.4M571.2 1071.4 L583.4 1054.8M583.4 1054.8 L595.5 1037.2M595.5 1037.2 L607.6 1018.7M607.6 1018.7 L619.7 999.1M619.7 999.1 L631.8 978.5M631.8 978.5 L644 957.1M644 957.1 L656.1 934.7M656.1 934.7 L668.2 911.5M668.2 911.5 L680.3 887.5M680.3 887.5 L692.4 863M692.4 863 L704.5 838M704.5 838 L716.7 812.6M716.7 812.6 L728.8 787.1M728.8 787.1 L740.9 761.6M740.9 761.6 L753 736.4M753 736.4 L765.1 711.6M765.1 711.6 L777.3 687.4M777.3 687.4 L789.4 664.1M789.4 664.1 L801.5 641.9M801.5 641.9 L813.6 621M813.6 621 L825.7 601.6M825.7 601.6 L837.9 583.8M837.9 583.8 L850 567.9M850 567.9 L862.1 553.9M862.1 553.9 L874.2 542M874.2 542 L886.3 532.3M886.3 532.3 L898.5 524.8M898.5 524.8 L910.6 519.5M910.6 519.5 L922.7 516.5M922.7 516.5 L934.8 515.6M934.8 515.6 L946.9 516.8M946.9 516.8 L959 519.9M959 519.9 L971.2 524.9M971.2 524.9 L983.3 531.6M983.3 531.6 L995.4 539.7M995.4 539.7 L1007.5 549.1M1007.5 549.1 L1019.6 559.7M1019.6 559.7 L1031.8 571M1031.8 571 L1043.9 583.1M1043.9 583.1 L1056 595.6M1056 595.6 L1068.1 608.3M1068.1 608.3 L1080.2 621M1080.2 621 L1092.4 633.6M1092.4 633.6 L1104.5 645.8M1104.5 645.8 L1116.6 657.6M1116.6 657.6 L1128.7 668.7M1128.7 668.7 L1140.8 679.2M1140.8 679.2 L1152.9 688.8M1152.9 688.8 L1165.1 697.5M1165.1 697.5 L1177.2 705.2M1177.2 705.2 L1189.3 712M1189.3 712 L1201.4 717.8M1201.4 717.8 L1213.5 722.7M1213.5 722.7 L1225.7 726.5M1225.7 726.5 L1237.8 729.4M1237.8 729.4 L1249.9 731.3M1249.9 731.3 L1262 732.4M1262 732.4 L1274.1 732.7M1274.1 732.7 L1286.3 732.2M1286.3 732.2 L1298.4 731M1298.4 731 L1310.5 729.1M1310.5 729.1 L1322.6 726.6M1322.6 726.6 L1334.7 723.6M1334.7 723.6 L1346.9 720.2M1346.9 720.2 L1359 716.3M1359 716.3 L1371.1 712M1371.1 712 L1383.2 707.4M1383.2 707.4 L1395.3 702.5M1395.3 702.5 L1407.4 697.4M1407.4 697.4 L1419.6 692M1419.6 692 L1431.7 686.5M1431.7 686.5 L1443.8 680.8M1443.8 680.8 L1455.9 675M1455.9 675 L1468 669.1M1468 669.1 L1480.2 663.1M1480.2 663.1 L1492.3 657M1492.3 657 L1504.4 650.8"/>
<path class="c" stroke="#0000ff" d="M1504.4 651.7 L1516.5 658.1M1516.5 658.1 L1528.6 664.5M1528.6 664.5 L1540.8 670.9M1540.8 670.9 L1552.9 677.3M1552.9 677.3 L1565 683.6M1565 683.6 L1577.1 690M1577.1 690 L1589.2 696.4M1589.2 696.4 L1601.4 702.8M1601.4 702.8 L1613.5 709.1M1613.5 709.1 L1625.6 715.4M1625.6 715.4 L1637.7 721.7M1637.7 721.7 L1649.8 728M1649.8 728 L1661.9 734.2M1661.9 734.2 L1674.1 740.3M1674.1 740.3 L1686.2 746.2M1686.2 746.2 L1698.3 752.1M1698.3 752.1 L1710.4 757.7M1710.4 757.7 L1722.5 763M1722.5 763 L1734.7 768M1734.7 768 L1746.8 772.6M1746.8 772.6 L1758.9 776.6M1758.9 776.6 L1771 779.9M1771 779.9 L1783.1 782.3M1783.1 782.3 L1795.3 783.7M1795.3 783.7 L1807.4 783.9M1807.4 783.9 L1819.5 782.6M1819.5 782.6 L1831.6 779.6M1831.6 779.6 L1843.7 774.7M1843.7 774.7 L1855.9 767.6M1855.9 767.6 L1868 758.2M1868 758.2 L1880.1 746.2M1880.1 746.2 L1892.2 731.5M1892.2 731.5 L1904.3 714M1904.3 714 L1916.4 693.7M1916.4 693.7 L1928.6 670.7M1928.6 670.7 L1940.7 645.1M1940.7 645.1 L1952.8 617.2M1952.8 617.2 L1964.9 587.5M1964.9 587.5 L1977 556.5M1977 556.5 L1989.2 524.7M1989.2 524.7 L2001.3 493M2001.3 493 L2013.4 462M2013.4 462 L2025.5 432.7M2025.5 432.7 L2037.6 406M2037.6 406 L2049.8 382.5M2049.8 382.5 L2061.9 363.3M2061.9 363.3 L2074 348.9M2074 348.9 L2086.1 340.1M2086.1 340.1 L2098.2 337.1M2098.2 337.1 L2110.4 340.4M2110.4 340.4 L2122.5 349.9M2122.5 349.9 L2134.6 365.7M2134.6 365.7 L2146.7 387.3M2146.7 387.3 L2158.8 414.5M2158.8 414.5 L2170.9 446.5M2170.9 446.5 L2183.1 482.7M2183.1 482.7 L2195.2 522.3M2195.2 522.3 L2207.3 564.4M2207.3 564.4 L2219.4 608.1M2219.4 608.1 L2231.5 652.7M2231.5 652.7 L2243.7 697.2M2243.7 697.2 L2255.8 741M2255.8 741 L2267.9 783.5M2267.9 783.5 L2280 824.2M2280 824.2 L2292.1 862.5M2292.1 862.5 L2304.3 898.3M2304.3 898.3 L2316.4 931.4M2316.4 931.4 L2328.5 961.7M2328.5 961.7 L2340.6 989.2M2340.6 989.2 L2352.7 1014M2352.7 1014 L2364.8 1036.2M2364.8 1036.2 L2377 1056.1M2377 1056.1 L2389.1 1073.8M2389.1 1073.8 L2401.2 1089.6M2401.2 1089.6 L2413.3 1103.7M2413.3 1103.7 L2425.4 1116.3M2425.4 1116.3 L2437.6 1127.7M2437.6 1127.7 L2449.7 1138.1M2449.7 1138.1 L2461.8 1147.6M2461.8 1147.6 L2473.9 1156.4M2473.9 1156.4 L2486 1164.6M2486 1164.6 L2498.2 1172.4M2498.2 1172.4 L2510.3 1179.8M2510.3 1179.8 L2522.4 1187M2522.4 1187 L2534.5 1194M2534.5 1194 L2546.6 1200.8M2546.6 1200.8 L2558.8 1207.5M2558.8 1207.5 L2570.9 1214.1M2570.9 1214.1 L2583 1220.6M2583 1220.6 L2595.1 1227.1M2595.1 1227.1 L2607.2 1233.6M2607.2 1233.6 L2619.3 1240M2619.3 1240 L2631.5 1246.5M2631.5 1246.5 L2643.6 1252.9M2643.6 1252.9 L2655.7 1259.3M2655.7 1259.3 L2667.8 1265.7M2667.8 1265.7 L2679.9 1272.1M2679.9 1272.1 L2692.1 1278.5M2692.1 1278.5 L2704.2 1284.9M2704.2 1284.9 L2716.3 1291.3"/>
<path class="b" d="M268.8 1302.7 L321.5 1274.9M334.6 1265.4 L387.3 1237.7M400.5 1224.7 L453.2 1196.9M466.4 1169.7 L519.1 1142M532.2 1164.1 L532.2 1100.1 L584.9 1072.3 L584.9 1136.4M598.1 1129.4 L598.1 997.3 L650.8 969.5 L650.8 1101.6M664 1094.7 L664 889.3 L716.7 861.6 L716.7 1066.9M729.8 1060 L729.8 739.9 L782.5 712.2 L782.5 1032.2M795.7 1025.3 L795.7 633.6 L848.4 605.8 L848.4 997.5M861.6 990.5 L861.6 540.8 L914.3 513 L914.3 962.8M927.4 955.8 L927.4 534.4 L980.1 506.6 L980.1 928M993.3 921.1 L993.3 563.7 L1046 535.9 L1046 893.3M1059.2 886.4 L1059.2 633.1 L1111.9 605.3 L1111.9 858.6M1125 851.7 L1125 704.4 L1177.7 676.6 L1177.7 823.9M1190.9 816.9 L1190.9 747.8 L1243.6 720 L1243.6 789.2M1256.8 782.2 L1256.8 750.9 L1309.5 723.1 L1309.5 754.4M1322.6 732 L1375.3 704.2M1388.5 708 L1441.2 680.3M1454.4 676.3 L1507.1 648.6M1520.2 643 L1572.9 615.3"/>
<path class="b" d="M1661.5 734.1 L1697 752.9M1705.9 756.4 L1741.3 775.1M1750.2 773.7 L1785.6 792.4M1794.5 779.5 L1830 798.2M1838.8 828.2 L1838.8 751.9 L1874.3 770.7 L1874.3 846.9M1883.2 851.6 L1883.2 706.5 L1918.6 725.2 L1918.6 870.3M1927.5 875 L1927.5 632.6 L1963 651.3 L1963 893.7M1971.8 898.4 L1971.8 512.5 L2007.3 531.3 L2007.3 917.1M2016.2 921.8 L2016.2 402.9 L2051.6 421.6 L2051.6 940.5M2060.5 945.2 L2060.5 342.1 L2096 360.8 L2096 963.9M2104.8 968.6 L2104.8 339.3 L2140.3 358 L2140.3 987.3M2149.2 992 L2149.2 400.9 L2184.6 419.7 L2184.6 1010.7M2193.5 1015.4 L2193.5 581.7 L2229 600.5 L2229 1034.1M2237.8 1038.8 L2237.8 734.2 L2273.3 753 L2273.3 1057.5M2282.2 1062.2 L2282.2 889.7 L2317.6 908.4 L2317.6 1080.9M2326.5 1085.6 L2326.5 987.6 L2362 1006.4 L2362 1104.3M2370.8 1109 L2370.8 1062.4 L2406.3 1081.2 L2406.3 1127.7M2415.2 1113.4 L2450.6 1132.1M2459.5 1145.9 L2494.9 1164.7M2503.8 1177.2 L2539.3 1196"/>
<path class="c" stroke="#0000ff" d="M2098.2 337.1 L2110.4 340.4M2146.7 387.3 L2158.8 414.5M2158.8 414.5 L2170.9 446.5M2170.9 446.5 L2183.1 482.7"/>
<g id="labels">
<text x="248" y="703" text-anchor="end">0.4</text>
<text x="248" y="1020" text-anchor="end">0.2</text>
<text x="248.5" y="1337.5" text-anchor="end">0</text>
<text x="248" y="1489.5" text-anchor="end">−5</text>
<text x="806" y="1809" text-anchor="middle">0</text>
<text x="1460" y="2129" text-anchor="end">5</text>
<text x="1547" y="2129" text-anchor="start">−5</text>
<text x="2203" y="1809" text-anchor="middle">0</text>
<text x="2760" y="1489.5" text-anchor="start">5</text>
</g>
</svg>
</body></html>
